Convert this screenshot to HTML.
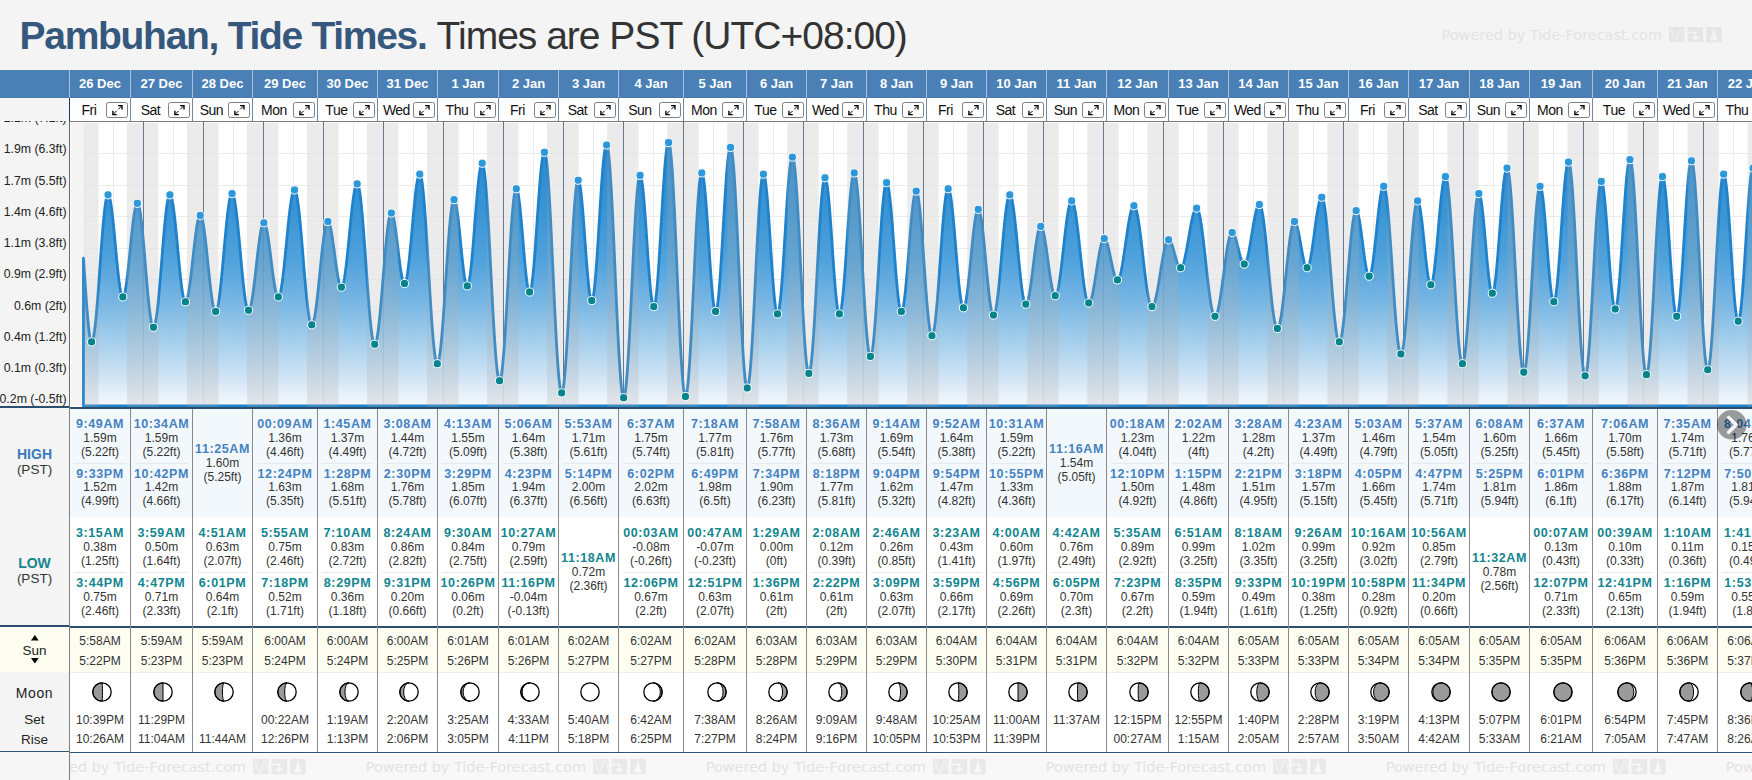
<!DOCTYPE html><html><head><meta charset="utf-8"><title>Pambuhan, Tide Times</title><style>
*{margin:0;padding:0;box-sizing:border-box}
html,body{width:1752px;height:780px;overflow:hidden;background:#f4f4f4;font-family:"Liberation Sans", Arial, sans-serif;}
.a{position:absolute}
.t{position:absolute;white-space:nowrap;text-align:center}
.hd{color:#fff;font-weight:bold;font-size:13px;line-height:20px}
.dn{color:#111;font-size:14px;line-height:20px;letter-spacing:-0.5px}
.bt{position:absolute;width:22px;height:16px;border:1px solid #808080;border-radius:2.5px;background:#fff}
.tm{font-weight:bold;font-size:12.5px;line-height:14px;letter-spacing:0.6px}
.hi{color:#4682c0}
.lo{color:#12858f}
.v{color:#333;font-size:12px;line-height:14px}
.s{color:#333;font-size:12px;line-height:14px}
.yl{position:absolute;right:0;width:200px;text-align:right;color:#222;font-size:12.3px;line-height:14px;white-space:nowrap}
.wm{position:absolute;white-space:nowrap;font-family:"DejaVu Sans",sans-serif;font-size:14.45px;line-height:18px;color:#e3e3e3}
</style></head><body>
<div class="a" style="left:19.6px;top:13.69px;font-size:39px;line-height:44px;white-space:nowrap;color:#333"><span style="font-weight:bold;color:#35587c;letter-spacing:-1.3px">Pambuhan, Tide Times.</span><span style="letter-spacing:-1.0px;margin-left:1px"> Times are PST (UTC+08:00)</span></div>
<div class="wm" style="left:1441.6px;top:26.00px">Powered by Tide-Forecast.com</div>
<svg class="a" style="left:1669.10px;top:26.90px" width="53" height="16" viewBox="0 0 53 16"><rect x="0" y="0" width="15.6" height="15.2" fill="#e6e6e6"/><path d="M1.2 1.5 C3 1.5 4.5 14 6.5 14 C8.5 14 9.5 1.8 11.5 1.8 C13 1.8 14 8 14.8 10" fill="none" stroke="#f4f4f4" stroke-width="1"/><rect x="18.6" y="0" width="15.6" height="15.2" fill="#e6e6e6"/><path d="M18.6 5.5 H26.5 V12 M23.6 9.5 L26.5 12.3 L29.4 9.5" fill="none" stroke="#f4f4f4" stroke-width="1.6"/><rect x="37.1" y="0" width="15.6" height="15.2" fill="#e6e6e6"/><path d="M44.9 1.5 L48.5 13.5 L41.3 13.5 Z" fill="#f4f4f4"/></svg>
<svg class="a" style="left:0;top:0" width="1752" height="410" viewBox="0 0 1752 410"><defs><linearGradient id="fg" gradientUnits="userSpaceOnUse" x1="0" y1="140" x2="0" y2="406"><stop offset="0" stop-color="rgb(21,123,202)"/><stop offset="0.263" stop-color="rgb(36,137,208)"/><stop offset="0.451" stop-color="rgb(61,152,216)"/><stop offset="0.602" stop-color="rgb(103,173,224)"/><stop offset="0.714" stop-color="rgb(141,194,231)"/><stop offset="0.789" stop-color="rgb(166,207,236)"/><stop offset="0.902" stop-color="rgb(207,227,244)"/><stop offset="1.0" stop-color="rgb(245,249,253)"/></linearGradient><clipPath id="cp"><rect x="70" y="122.6" width="1690" height="290"/></clipPath></defs><rect x="70" y="122" width="1690" height="285" fill="#fff"/><rect x="71" y="122.6" width="12.50" height="284" fill="#f4f4f4"/><defs><clipPath id="dc"><rect x="98.42" y="120" width="28.50" height="290"/><rect x="158.46" y="120" width="28.50" height="290"/><rect x="218.46" y="120" width="28.50" height="290"/><rect x="278.50" y="120" width="28.50" height="290"/><rect x="338.50" y="120" width="28.50" height="290"/><rect x="398.50" y="120" width="28.54" height="290"/><rect x="458.54" y="120" width="28.54" height="290"/><rect x="518.54" y="120" width="28.54" height="290"/><rect x="578.58" y="120" width="28.54" height="290"/><rect x="638.58" y="120" width="28.54" height="290"/><rect x="698.58" y="120" width="28.58" height="290"/><rect x="758.62" y="120" width="28.54" height="290"/><rect x="818.62" y="120" width="28.58" height="290"/><rect x="878.62" y="120" width="28.58" height="290"/><rect x="938.67" y="120" width="28.58" height="290"/><rect x="998.67" y="120" width="28.62" height="290"/><rect x="1058.67" y="120" width="28.63" height="290"/><rect x="1118.67" y="120" width="28.67" height="290"/><rect x="1178.67" y="120" width="28.67" height="290"/><rect x="1238.71" y="120" width="28.67" height="290"/><rect x="1298.71" y="120" width="28.67" height="290"/><rect x="1358.71" y="120" width="28.71" height="290"/><rect x="1418.71" y="120" width="28.71" height="290"/><rect x="1478.71" y="120" width="28.75" height="290"/><rect x="1538.71" y="120" width="28.75" height="290"/><rect x="1598.75" y="120" width="28.75" height="290"/><rect x="1658.75" y="120" width="28.75" height="290"/><rect x="1718.75" y="120" width="28.79" height="290"/></clipPath><clipPath id="nc"><rect x="83.50" y="120" width="14.92" height="290"/><rect x="126.92" y="120" width="31.54" height="290"/><rect x="186.96" y="120" width="31.50" height="290"/><rect x="246.96" y="120" width="31.54" height="290"/><rect x="307.00" y="120" width="31.50" height="290"/><rect x="367.00" y="120" width="31.50" height="290"/><rect x="427.04" y="120" width="31.50" height="290"/><rect x="487.08" y="120" width="31.46" height="290"/><rect x="547.08" y="120" width="31.50" height="290"/><rect x="607.12" y="120" width="31.46" height="290"/><rect x="667.12" y="120" width="31.46" height="290"/><rect x="727.17" y="120" width="31.46" height="290"/><rect x="787.17" y="120" width="31.46" height="290"/><rect x="847.21" y="120" width="31.42" height="290"/><rect x="907.21" y="120" width="31.46" height="290"/><rect x="967.25" y="120" width="31.42" height="290"/><rect x="1027.29" y="120" width="31.38" height="290"/><rect x="1087.29" y="120" width="31.37" height="290"/><rect x="1147.33" y="120" width="31.33" height="290"/><rect x="1207.33" y="120" width="31.38" height="290"/><rect x="1267.38" y="120" width="31.33" height="290"/><rect x="1327.38" y="120" width="31.33" height="290"/><rect x="1387.42" y="120" width="31.29" height="290"/><rect x="1447.42" y="120" width="31.29" height="290"/><rect x="1507.46" y="120" width="31.25" height="290"/><rect x="1567.46" y="120" width="31.29" height="290"/><rect x="1627.50" y="120" width="31.25" height="290"/><rect x="1687.50" y="120" width="31.25" height="290"/><rect x="1747.54" y="120" width="31.21" height="290"/></clipPath></defs><path d="M83.5 153.5H1760 M83.5 185.5H1760 M83.5 216.5H1760 M83.5 248.5H1760 M83.5 279.5H1760 M83.5 311.5H1760 M83.5 342.5H1760 M83.5 374.5H1760 M83.5 405.5H1760" stroke="#ececec" stroke-width="1" fill="none" clip-path="url(#dc)"/><path d="M83.5 153.5H1760 M83.5 185.5H1760 M83.5 216.5H1760 M83.5 248.5H1760 M83.5 279.5H1760 M83.5 311.5H1760 M83.5 342.5H1760 M83.5 374.5H1760 M83.5 405.5H1760" stroke="#f8f8f8" stroke-width="1" fill="none" clip-path="url(#nc)"/><path d="M113.5 122.6V406 M173.5 122.6V406 M233.5 122.6V406 M293.5 122.6V406 M353.5 122.6V406 M413.5 122.6V406 M473.5 122.6V406 M533.5 122.6V406 M593.5 122.6V406 M653.5 122.6V406 M713.5 122.6V406 M773.5 122.6V406 M833.5 122.6V406 M893.5 122.6V406 M953.5 122.6V406 M1013.5 122.6V406 M1073.5 122.6V406 M1133.5 122.6V406 M1193.5 122.6V406 M1253.5 122.6V406 M1313.5 122.6V406 M1373.5 122.6V406 M1433.5 122.6V406 M1493.5 122.6V406 M1553.5 122.6V406 M1613.5 122.6V406 M1673.5 122.6V406 M1733.5 122.6V406" stroke="#ececec" stroke-width="1" fill="none"/><path d="M143.5 122V406 M203.5 122V406 M263.5 122V406 M323.5 122V406 M383.5 122V406 M443.5 122V406 M503.5 122V406 M563.5 122V406 M623.5 122V406 M683.5 122V406 M743.5 122V406 M803.5 122V406 M863.5 122V406 M923.5 122V406 M983.5 122V406 M1043.5 122V406 M1103.5 122V406 M1163.5 122V406 M1223.5 122V406 M1283.5 122V406 M1343.5 122V406 M1403.5 122V406 M1463.5 122V406 M1523.5 122V406 M1583.5 122V406 M1643.5 122V406 M1703.5 122V406 M1763.5 122V406" stroke="#4f6882" stroke-width="1" fill="none"/><g clip-path="url(#cp)"><path d="M83.50 406.0 L83.50 258.27 L84.00 265.76 L84.50 273.34 L85.00 280.91 L85.50 288.37 L86.00 295.65 L86.50 302.64 L87.00 309.28 L87.50 315.47 L88.00 321.16 L88.50 326.26 L89.00 330.71 L89.50 334.48 L90.00 337.50 L90.50 339.74 L91.00 341.18 L91.50 341.80 L91.62 341.83 L92.00 341.64 L92.50 340.80 L93.00 339.30 L93.50 337.15 L94.00 334.37 L94.50 330.98 L95.00 327.02 L95.50 322.53 L96.00 317.54 L96.50 312.10 L97.00 306.25 L97.50 300.07 L98.00 293.59 L98.50 286.88 L99.00 280.00 L99.50 273.01 L100.00 265.98 L100.50 258.97 L101.00 252.05 L101.50 245.27 L102.00 238.71 L102.50 232.42 L103.00 226.45 L103.50 220.87 L104.00 215.73 L104.50 211.06 L105.00 206.92 L105.50 203.34 L106.00 200.35 L106.50 197.99 L107.00 196.27 L107.50 195.21 L108.00 194.82 L108.04 194.82 L108.50 195.06 L109.00 195.87 L109.50 197.24 L110.00 199.17 L110.50 201.61 L111.00 204.56 L111.50 207.97 L112.00 211.81 L112.50 216.03 L113.00 220.59 L113.50 225.43 L114.00 230.51 L114.50 235.75 L115.00 241.11 L115.50 246.52 L116.00 251.93 L116.50 257.26 L117.00 262.47 L117.50 267.49 L118.00 272.27 L118.50 276.75 L119.00 280.88 L119.50 284.61 L120.00 287.91 L120.50 290.74 L121.00 293.06 L121.50 294.84 L122.00 296.08 L122.50 296.75 L122.83 296.87 L123.00 296.84 L123.50 296.39 L124.00 295.40 L124.50 293.88 L125.00 291.84 L125.50 289.32 L126.00 286.35 L126.50 282.95 L127.00 279.17 L127.50 275.05 L128.00 270.64 L128.50 265.99 L129.00 261.15 L129.50 256.19 L130.00 251.15 L130.50 246.10 L131.00 241.10 L131.50 236.20 L132.00 231.47 L132.50 226.95 L133.00 222.70 L133.50 218.78 L134.00 215.21 L134.50 212.06 L135.00 209.34 L135.50 207.11 L136.00 205.37 L136.50 204.15 L137.00 203.47 L137.38 203.32 L137.50 203.34 L138.00 203.78 L138.50 204.81 L139.00 206.42 L139.50 208.58 L140.00 211.29 L140.50 214.51 L141.00 218.22 L141.50 222.37 L142.00 226.93 L142.50 231.86 L143.00 237.11 L143.50 242.62 L144.00 248.36 L144.50 254.25 L145.00 260.25 L145.50 266.29 L146.00 272.33 L146.50 278.30 L147.00 284.15 L147.50 289.81 L148.00 295.24 L148.50 300.39 L149.00 305.20 L149.50 309.63 L150.00 313.64 L150.50 317.19 L151.00 320.24 L151.50 322.77 L152.00 324.75 L152.50 326.17 L153.00 327.00 L153.46 327.25 L153.50 327.25 L154.00 326.90 L154.50 325.95 L155.00 324.40 L155.50 322.28 L156.00 319.61 L156.50 316.40 L157.00 312.69 L157.50 308.50 L158.00 303.89 L158.50 298.88 L159.00 293.53 L159.50 287.89 L160.00 282.00 L160.50 275.91 L161.00 269.70 L161.50 263.40 L162.00 257.08 L162.50 250.80 L163.00 244.62 L163.50 238.58 L164.00 232.74 L164.50 227.17 L165.00 221.90 L165.50 216.99 L166.00 212.47 L166.50 208.41 L167.00 204.81 L167.50 201.74 L168.00 199.20 L168.50 197.22 L169.00 195.83 L169.50 195.02 L169.92 194.82 L170.00 194.82 L170.50 195.19 L171.00 196.09 L171.50 197.53 L172.00 199.49 L172.50 201.94 L173.00 204.87 L173.50 208.24 L174.00 212.02 L174.50 216.16 L175.00 220.64 L175.50 225.40 L176.00 230.39 L176.50 235.57 L177.00 240.87 L177.50 246.25 L178.00 251.65 L178.50 257.02 L179.00 262.29 L179.50 267.43 L180.00 272.36 L180.50 277.06 L181.00 281.46 L181.50 285.52 L182.00 289.20 L182.50 292.46 L183.00 295.27 L183.50 297.60 L184.00 299.43 L184.50 300.74 L185.00 301.51 L185.46 301.73 L185.50 301.73 L186.00 301.45 L186.50 300.68 L187.00 299.44 L187.50 297.74 L188.00 295.60 L188.50 293.04 L189.00 290.10 L189.50 286.80 L190.00 283.18 L190.50 279.28 L191.00 275.15 L191.50 270.84 L192.00 266.38 L192.50 261.84 L193.00 257.27 L193.50 252.70 L194.00 248.21 L194.50 243.83 L195.00 239.62 L195.50 235.62 L196.00 231.88 L196.50 228.44 L197.00 225.34 L197.50 222.62 L198.00 220.30 L198.50 218.42 L199.00 216.98 L199.50 216.02 L200.00 215.53 L200.25 215.47 L200.50 215.53 L201.00 216.03 L201.50 217.03 L202.00 218.51 L202.50 220.45 L203.00 222.85 L203.50 225.67 L204.00 228.88 L204.50 232.46 L205.00 236.36 L205.50 240.54 L206.00 244.96 L206.50 249.57 L207.00 254.33 L207.50 259.18 L208.00 264.08 L208.50 268.97 L209.00 273.80 L209.50 278.53 L210.00 283.09 L210.50 287.46 L211.00 291.57 L211.50 295.39 L212.00 298.88 L212.50 302.00 L213.00 304.72 L213.50 307.00 L214.00 308.83 L214.50 310.19 L215.00 311.06 L215.50 311.44 L215.62 311.45 L216.00 311.30 L216.50 310.63 L217.00 309.43 L217.50 307.70 L218.00 305.47 L218.50 302.76 L219.00 299.59 L219.50 295.98 L220.00 291.98 L220.50 287.62 L221.00 282.94 L221.50 277.97 L222.00 272.78 L222.50 267.40 L223.00 261.88 L223.50 256.28 L224.00 250.65 L224.50 245.03 L225.00 239.48 L225.50 234.05 L226.00 228.79 L226.50 223.74 L227.00 218.96 L227.50 214.49 L228.00 210.36 L228.50 206.62 L229.00 203.30 L229.50 200.43 L230.00 198.04 L230.50 196.15 L231.00 194.77 L231.50 193.92 L232.00 193.60 L232.04 193.60 L232.50 193.82 L233.00 194.57 L233.50 195.83 L234.00 197.61 L234.50 199.87 L235.00 202.61 L235.50 205.79 L236.00 209.39 L236.50 213.38 L237.00 217.72 L237.50 222.36 L238.00 227.27 L238.50 232.41 L239.00 237.72 L239.50 243.16 L240.00 248.68 L240.50 254.23 L241.00 259.76 L241.50 265.22 L242.00 270.56 L242.50 275.73 L243.00 280.68 L243.50 285.37 L244.00 289.76 L244.50 293.81 L245.00 297.48 L245.50 300.73 L246.00 303.54 L246.50 305.89 L247.00 307.75 L247.50 309.10 L248.00 309.93 L248.50 310.24 L248.54 310.24 L249.00 310.05 L249.50 309.40 L250.00 308.30 L250.50 306.77 L251.00 304.81 L251.50 302.45 L252.00 299.71 L252.50 296.63 L253.00 293.23 L253.50 289.54 L254.00 285.62 L254.50 281.50 L255.00 277.22 L255.50 272.83 L256.00 268.37 L256.50 263.89 L257.00 259.44 L257.50 255.06 L258.00 250.80 L258.50 246.71 L259.00 242.82 L259.50 239.19 L260.00 235.84 L260.50 232.81 L261.00 230.13 L261.50 227.84 L262.00 225.95 L262.50 224.48 L263.00 223.46 L263.50 222.89 L263.88 222.76 L264.00 222.77 L264.50 223.10 L265.00 223.87 L265.50 225.06 L266.00 226.66 L266.50 228.66 L267.00 231.03 L267.50 233.73 L268.00 236.75 L268.50 240.04 L269.00 243.57 L269.50 247.28 L270.00 251.15 L270.50 255.12 L271.00 259.14 L271.50 263.18 L272.00 267.17 L272.50 271.08 L273.00 274.85 L273.50 278.44 L274.00 281.82 L274.50 284.93 L275.00 287.74 L275.50 290.23 L276.00 292.35 L276.50 294.09 L277.00 295.42 L277.50 296.32 L278.00 296.80 L278.29 296.87 L278.50 296.83 L279.00 296.37 L279.50 295.42 L280.00 293.97 L280.50 292.05 L281.00 289.68 L281.50 286.87 L282.00 283.65 L282.50 280.05 L283.00 276.12 L283.50 271.87 L284.00 267.36 L284.50 262.62 L285.00 257.70 L285.50 252.65 L286.00 247.51 L286.50 242.34 L287.00 237.17 L287.50 232.06 L288.00 227.06 L288.50 222.21 L289.00 217.56 L289.50 213.16 L290.00 209.03 L290.50 205.23 L291.00 201.79 L291.50 198.74 L292.00 196.11 L292.50 193.92 L293.00 192.20 L293.50 190.96 L294.00 190.21 L294.50 189.96 L295.00 190.23 L295.50 191.07 L296.00 192.46 L296.50 194.38 L297.00 196.82 L297.50 199.77 L298.00 203.20 L298.50 207.07 L299.00 211.36 L299.50 216.03 L300.00 221.05 L300.50 226.36 L301.00 231.94 L301.50 237.72 L302.00 243.67 L302.50 249.73 L303.00 255.85 L303.50 261.99 L304.00 268.09 L304.50 274.10 L305.00 279.97 L305.50 285.65 L306.00 291.10 L306.50 296.27 L307.00 301.12 L307.50 305.61 L308.00 309.70 L308.50 313.35 L309.00 316.54 L309.50 319.24 L310.00 321.42 L310.50 323.08 L311.00 324.19 L311.50 324.75 L311.75 324.82 L312.00 324.76 L312.50 324.27 L313.00 323.30 L313.50 321.85 L314.00 319.94 L314.50 317.58 L315.00 314.81 L315.50 311.64 L316.00 308.11 L316.50 304.24 L317.00 300.08 L317.50 295.67 L318.00 291.04 L318.50 286.24 L319.00 281.32 L319.50 276.32 L320.00 271.30 L320.50 266.29 L321.00 261.34 L321.50 256.51 L322.00 251.84 L322.50 247.36 L323.00 243.14 L323.50 239.19 L324.00 235.57 L324.50 232.31 L325.00 229.44 L325.50 226.98 L326.00 224.95 L326.50 223.39 L327.00 222.29 L327.50 221.68 L327.88 221.54 L328.00 221.56 L328.50 221.89 L329.00 222.66 L329.50 223.85 L330.00 225.45 L330.50 227.44 L331.00 229.80 L331.50 232.48 L332.00 235.45 L332.50 238.69 L333.00 242.13 L333.50 245.73 L334.00 249.45 L334.50 253.24 L335.00 257.04 L335.50 260.81 L336.00 264.49 L336.50 268.03 L337.00 271.39 L337.50 274.52 L338.00 277.38 L338.50 279.93 L339.00 282.13 L339.50 283.96 L340.00 285.40 L340.50 286.42 L341.00 287.00 L341.42 287.15 L341.50 287.15 L342.00 286.81 L342.50 285.95 L343.00 284.60 L343.50 282.76 L344.00 280.45 L344.50 277.69 L345.00 274.52 L345.50 270.95 L346.00 267.04 L346.50 262.81 L347.00 258.31 L347.50 253.58 L348.00 248.67 L348.50 243.64 L349.00 238.52 L349.50 233.37 L350.00 228.25 L350.50 223.19 L351.00 218.26 L351.50 213.50 L352.00 208.96 L352.50 204.68 L353.00 200.71 L353.50 197.09 L354.00 193.84 L354.50 191.01 L355.00 188.63 L355.50 186.71 L356.00 185.27 L356.50 184.34 L357.00 183.91 L357.17 183.88 L357.50 184.02 L358.00 184.77 L358.50 186.16 L359.00 188.16 L359.50 190.78 L360.00 193.98 L360.50 197.75 L361.00 202.05 L361.50 206.84 L362.00 212.09 L362.50 217.76 L363.00 223.80 L363.50 230.17 L364.00 236.80 L364.50 243.65 L365.00 250.67 L365.50 257.79 L366.00 264.97 L366.50 272.13 L367.00 279.24 L367.50 286.22 L368.00 293.02 L368.50 299.59 L369.00 305.88 L369.50 311.83 L370.00 317.40 L370.50 322.54 L371.00 327.22 L371.50 331.38 L372.00 335.01 L372.50 338.07 L373.00 340.54 L373.50 342.39 L374.00 343.62 L374.50 344.20 L374.71 344.26 L375.00 344.16 L375.50 343.53 L376.00 342.32 L376.50 340.54 L377.00 338.20 L377.50 335.34 L378.00 331.97 L378.50 328.13 L379.00 323.84 L379.50 319.15 L380.00 314.10 L380.50 308.74 L381.00 303.10 L381.50 297.25 L382.00 291.23 L382.50 285.10 L383.00 278.91 L383.50 272.72 L384.00 266.58 L384.50 260.55 L385.00 254.68 L385.50 249.02 L386.00 243.63 L386.50 238.56 L387.00 233.83 L387.50 229.51 L388.00 225.63 L388.50 222.22 L389.00 219.32 L389.50 216.94 L390.00 215.11 L390.50 213.85 L391.00 213.17 L391.33 213.04 L391.50 213.07 L392.00 213.48 L392.50 214.40 L393.00 215.79 L393.50 217.64 L394.00 219.93 L394.50 222.63 L395.00 225.69 L395.50 229.07 L396.00 232.72 L396.50 236.59 L397.00 240.63 L397.50 244.78 L398.00 248.98 L398.50 253.16 L399.00 257.28 L399.50 261.27 L400.00 265.08 L400.50 268.64 L401.00 271.92 L401.50 274.86 L402.00 277.43 L402.50 279.57 L403.00 281.28 L403.50 282.51 L404.00 283.26 L404.50 283.51 L405.00 283.22 L405.50 282.35 L406.00 280.92 L406.50 278.93 L407.00 276.42 L407.50 273.40 L408.00 269.90 L408.50 265.97 L409.00 261.65 L409.50 256.98 L410.00 252.01 L410.50 246.80 L411.00 241.39 L411.50 235.86 L412.00 230.24 L412.50 224.62 L413.00 219.03 L413.50 213.55 L414.00 208.24 L414.50 203.14 L415.00 198.31 L415.50 193.81 L416.00 189.68 L416.50 185.96 L417.00 182.70 L417.50 179.93 L418.00 177.67 L418.50 175.96 L419.00 174.81 L419.50 174.23 L419.75 174.16 L420.00 174.25 L420.50 175.01 L421.00 176.52 L421.50 178.78 L422.00 181.75 L422.50 185.42 L423.00 189.77 L423.50 194.74 L424.00 200.31 L424.50 206.43 L425.00 213.05 L425.50 220.12 L426.00 227.58 L426.50 235.37 L427.00 243.44 L427.50 251.70 L428.00 260.10 L428.50 268.58 L429.00 277.05 L429.50 285.46 L430.00 293.74 L430.50 301.82 L431.00 309.64 L431.50 317.13 L432.00 324.23 L432.50 330.89 L433.00 337.06 L433.50 342.68 L434.00 347.70 L434.50 352.10 L435.00 355.83 L435.50 358.86 L436.00 361.18 L436.50 362.75 L437.00 363.57 L437.29 363.70 L437.50 363.64 L438.00 362.98 L438.50 361.60 L439.00 359.53 L439.50 356.77 L440.00 353.34 L440.50 349.29 L441.00 344.65 L441.50 339.45 L442.00 333.75 L442.50 327.58 L443.00 321.02 L443.50 314.11 L444.00 306.91 L444.50 299.49 L445.00 291.92 L445.50 284.25 L446.00 276.56 L446.50 268.92 L447.00 261.39 L447.50 254.04 L448.00 246.93 L448.50 240.13 L449.00 233.69 L449.50 227.67 L450.00 222.13 L450.50 217.11 L451.00 212.66 L451.50 208.82 L452.00 205.61 L452.50 203.08 L453.00 201.24 L453.50 200.10 L454.00 199.68 L454.04 199.68 L454.50 199.93 L455.00 200.79 L455.50 202.24 L456.00 204.27 L456.50 206.84 L457.00 209.92 L457.50 213.46 L458.00 217.42 L458.50 221.74 L459.00 226.35 L459.50 231.20 L460.00 236.21 L460.50 241.31 L461.00 246.44 L461.50 251.51 L462.00 256.46 L462.50 261.22 L463.00 265.72 L463.50 269.89 L464.00 273.68 L464.50 277.04 L465.00 279.91 L465.50 282.26 L466.00 284.05 L466.50 285.26 L467.00 285.86 L467.25 285.94 L467.50 285.86 L468.00 285.18 L468.50 283.84 L469.00 281.84 L469.50 279.22 L470.00 275.99 L470.50 272.19 L471.00 267.87 L471.50 263.08 L472.00 257.86 L472.50 252.27 L473.00 246.38 L473.50 240.25 L474.00 233.94 L474.50 227.53 L475.00 221.09 L475.50 214.69 L476.00 208.40 L476.50 202.29 L477.00 196.42 L477.50 190.86 L478.00 185.67 L478.50 180.91 L479.00 176.64 L479.50 172.89 L480.00 169.71 L480.50 167.13 L481.00 165.19 L481.50 163.90 L482.00 163.28 L482.21 163.23 L482.50 163.38 L483.00 164.34 L483.50 166.18 L484.00 168.88 L484.50 172.43 L485.00 176.79 L485.50 181.92 L486.00 187.79 L486.50 194.35 L487.00 201.55 L487.50 209.32 L488.00 217.60 L488.50 226.32 L489.00 235.42 L489.50 244.81 L490.00 254.43 L490.50 264.19 L491.00 274.02 L491.50 283.82 L492.00 293.53 L492.50 303.07 L493.00 312.35 L493.50 321.30 L494.00 329.85 L494.50 337.92 L495.00 345.46 L495.50 352.39 L496.00 358.67 L496.50 364.24 L497.00 369.06 L497.50 373.09 L498.00 376.28 L498.50 378.63 L499.00 380.11 L499.50 380.70 L499.58 380.71 L500.00 380.41 L500.50 379.28 L501.00 377.31 L501.50 374.51 L502.00 370.92 L502.50 366.57 L503.00 361.48 L503.50 355.72 L504.00 349.32 L504.50 342.36 L505.00 334.88 L505.50 326.95 L506.00 318.65 L506.50 310.05 L507.00 301.23 L507.50 292.26 L508.00 283.22 L508.50 274.19 L509.00 265.26 L509.50 256.50 L510.00 247.99 L510.50 239.81 L511.00 232.03 L511.50 224.71 L512.00 217.93 L512.50 211.74 L513.00 206.19 L513.50 201.35 L514.00 197.24 L514.50 193.91 L515.00 191.39 L515.50 189.70 L516.00 188.85 L516.25 188.74 L516.50 188.83 L517.00 189.54 L517.50 190.95 L518.00 193.04 L518.50 195.78 L519.00 199.14 L519.50 203.07 L520.00 207.51 L520.50 212.40 L521.00 217.68 L521.50 223.27 L522.00 229.10 L522.50 235.08 L523.00 241.14 L523.50 247.18 L524.00 253.13 L524.50 258.91 L525.00 264.43 L525.50 269.61 L526.00 274.40 L526.50 278.72 L527.00 282.51 L527.50 285.72 L528.00 288.30 L528.50 290.22 L529.00 291.46 L529.50 291.99 L529.62 292.01 L530.00 291.79 L530.50 290.82 L531.00 289.07 L531.50 286.58 L532.00 283.36 L532.50 279.46 L533.00 274.91 L533.50 269.78 L534.00 264.11 L534.50 257.97 L535.00 251.43 L535.50 244.56 L536.00 237.44 L536.50 230.15 L537.00 222.77 L537.50 215.38 L538.00 208.07 L538.50 200.92 L539.00 194.00 L539.50 187.40 L540.00 181.19 L540.50 175.44 L541.00 170.21 L541.50 165.56 L542.00 161.55 L542.50 158.21 L543.00 155.60 L543.50 153.72 L544.00 152.62 L544.46 152.29 L544.50 152.29 L545.00 152.88 L545.50 154.46 L546.00 157.02 L546.50 160.55 L547.00 165.01 L547.50 170.36 L548.00 176.57 L548.50 183.57 L549.00 191.32 L549.50 199.74 L550.00 208.77 L550.50 218.33 L551.00 228.35 L551.50 238.73 L552.00 249.39 L552.50 260.24 L553.00 271.20 L553.50 282.17 L554.00 293.06 L554.50 303.78 L555.00 314.24 L555.50 324.35 L556.00 334.03 L556.50 343.20 L557.00 351.78 L557.50 359.71 L558.00 366.90 L558.50 373.31 L559.00 378.89 L559.50 383.57 L560.00 387.33 L560.50 390.14 L561.00 391.97 L561.50 392.80 L561.67 392.86 L562.00 392.65 L562.50 391.53 L563.00 389.47 L563.50 386.48 L564.00 382.59 L564.50 377.84 L565.00 372.26 L565.50 365.91 L566.00 358.84 L566.50 351.13 L567.00 342.83 L567.50 334.02 L568.00 324.79 L568.50 315.21 L569.00 305.38 L569.50 295.37 L570.00 285.29 L570.50 275.21 L571.00 265.24 L571.50 255.46 L572.00 245.96 L572.50 236.83 L573.00 228.14 L573.50 219.98 L574.00 212.42 L574.50 205.53 L575.00 199.37 L575.50 193.99 L576.00 189.45 L576.50 185.78 L577.00 183.02 L577.50 181.20 L578.00 180.32 L578.21 180.24 L578.50 180.37 L579.00 181.25 L579.50 182.92 L580.00 185.36 L580.50 188.54 L581.00 192.41 L581.50 196.94 L582.00 202.04 L582.50 207.66 L583.00 213.72 L583.50 220.14 L584.00 226.83 L584.50 233.71 L585.00 240.67 L585.50 247.63 L586.00 254.49 L586.50 261.16 L587.00 267.55 L587.50 273.58 L588.00 279.16 L588.50 284.22 L589.00 288.69 L589.50 292.51 L590.00 295.63 L590.50 298.01 L591.00 299.61 L591.50 300.42 L591.75 300.52 L592.00 300.41 L592.50 299.54 L593.00 297.81 L593.50 295.24 L594.00 291.86 L594.50 287.70 L595.00 282.81 L595.50 277.26 L596.00 271.09 L596.50 264.38 L597.00 257.20 L597.50 249.64 L598.00 241.78 L598.50 233.70 L599.00 225.50 L599.50 217.27 L600.00 209.11 L600.50 201.09 L601.00 193.32 L601.50 185.88 L602.00 178.85 L602.50 172.31 L603.00 166.34 L603.50 161.00 L604.00 156.35 L604.50 152.45 L605.00 149.33 L605.50 147.04 L606.00 145.59 L606.50 145.01 L606.58 145.00 L607.00 145.37 L607.50 146.80 L608.00 149.28 L608.50 152.81 L609.00 157.33 L609.50 162.83 L610.00 169.25 L610.50 176.53 L611.00 184.62 L611.50 193.45 L612.00 202.93 L612.50 213.00 L613.00 223.57 L613.50 234.53 L614.00 245.82 L614.50 257.32 L615.00 268.93 L615.50 280.57 L616.00 292.13 L616.50 303.52 L617.00 314.63 L617.50 325.37 L618.00 335.66 L618.50 345.40 L619.00 354.51 L619.50 362.91 L620.00 370.54 L620.50 377.33 L621.00 383.21 L621.50 388.15 L622.00 392.09 L622.50 395.01 L623.00 396.88 L623.50 397.69 L623.62 397.72 L624.00 397.43 L624.50 396.17 L625.00 393.89 L625.50 390.64 L626.00 386.43 L626.50 381.31 L627.00 375.33 L627.50 368.53 L628.00 360.98 L628.50 352.75 L629.00 343.92 L629.50 334.56 L630.00 324.76 L630.50 314.61 L631.00 304.20 L631.50 293.63 L632.00 283.00 L632.50 272.40 L633.00 261.93 L633.50 251.69 L634.00 241.76 L634.50 232.25 L635.00 223.23 L635.50 214.79 L636.00 207.00 L636.50 199.95 L637.00 193.68 L637.50 188.27 L638.00 183.75 L638.50 180.18 L639.00 177.58 L639.50 175.97 L640.00 175.38 L640.04 175.38 L640.50 175.74 L641.00 176.95 L641.50 179.01 L642.00 181.87 L642.50 185.51 L643.00 189.88 L643.50 194.93 L644.00 200.57 L644.50 206.74 L645.00 213.37 L645.50 220.35 L646.00 227.61 L646.50 235.04 L647.00 242.55 L647.50 250.04 L648.00 257.41 L648.50 264.57 L649.00 271.41 L649.50 277.86 L650.00 283.82 L650.50 289.22 L651.00 293.99 L651.50 298.06 L652.00 301.39 L652.50 303.92 L653.00 305.63 L653.50 306.49 L653.75 306.60 L654.00 306.48 L654.50 305.56 L655.00 303.74 L655.50 301.03 L656.00 297.46 L656.50 293.07 L657.00 287.92 L657.50 282.06 L658.00 275.55 L658.50 268.48 L659.00 260.91 L659.50 252.93 L660.00 244.64 L660.50 236.12 L661.00 227.48 L661.50 218.80 L662.00 210.18 L662.50 201.73 L663.00 193.53 L663.50 185.68 L664.00 178.27 L664.50 171.37 L665.00 165.08 L665.50 159.44 L666.00 154.54 L666.50 150.42 L667.00 147.14 L667.50 144.72 L668.00 143.20 L668.50 142.58 L668.58 142.57 L669.00 142.95 L669.50 144.41 L670.00 146.96 L670.50 150.57 L671.00 155.20 L671.50 160.83 L672.00 167.40 L672.50 174.85 L673.00 183.13 L673.50 192.15 L674.00 201.84 L674.50 212.11 L675.00 222.89 L675.50 234.07 L676.00 245.55 L676.50 257.25 L677.00 269.05 L677.50 280.85 L678.00 292.55 L678.50 304.06 L679.00 315.27 L679.50 326.08 L680.00 336.40 L680.50 346.14 L681.00 355.22 L681.50 363.56 L682.00 371.09 L682.50 377.73 L683.00 383.44 L683.50 388.16 L684.00 391.85 L684.50 394.49 L685.00 396.04 L685.46 396.50 L685.50 396.50 L686.00 395.90 L686.50 394.26 L687.00 391.60 L687.50 387.95 L688.00 383.35 L688.50 377.82 L689.00 371.43 L689.50 364.24 L690.00 356.31 L690.50 347.71 L691.00 338.53 L691.50 328.85 L692.00 318.75 L692.50 308.35 L693.00 297.72 L693.50 286.97 L694.00 276.20 L694.50 265.51 L695.00 255.00 L695.50 244.76 L696.00 234.90 L696.50 225.50 L697.00 216.65 L697.50 208.43 L698.00 200.92 L698.50 194.19 L699.00 188.30 L699.50 183.30 L700.00 179.25 L700.50 176.18 L701.00 174.11 L701.50 173.07 L701.75 172.94 L702.00 173.06 L702.50 173.94 L703.00 175.70 L703.50 178.31 L704.00 181.74 L704.50 185.94 L705.00 190.86 L705.50 196.44 L706.00 202.61 L706.50 209.28 L707.00 216.38 L707.50 223.80 L708.00 231.46 L708.50 239.26 L709.00 247.10 L709.50 254.87 L710.00 262.48 L710.50 269.83 L711.00 276.83 L711.50 283.38 L712.00 289.41 L712.50 294.83 L713.00 299.58 L713.50 303.59 L714.00 306.82 L714.50 309.22 L715.00 310.76 L715.50 311.43 L715.62 311.46 L716.00 311.20 L716.50 310.07 L717.00 308.04 L717.50 305.14 L718.00 301.41 L718.50 296.87 L719.00 291.59 L719.50 285.63 L720.00 279.03 L720.50 271.89 L721.00 264.28 L721.50 256.29 L722.00 247.99 L722.50 239.49 L723.00 230.88 L723.50 222.25 L724.00 213.71 L724.50 205.33 L725.00 197.23 L725.50 189.48 L726.00 182.17 L726.50 175.39 L727.00 169.21 L727.50 163.69 L728.00 158.90 L728.50 154.90 L729.00 151.72 L729.50 149.40 L730.00 147.96 L730.50 147.43 L730.54 147.43 L731.00 147.88 L731.50 149.39 L732.00 151.95 L732.50 155.53 L733.00 160.11 L733.50 165.65 L734.00 172.10 L734.50 179.39 L735.00 187.46 L735.50 196.25 L736.00 205.67 L736.50 215.65 L737.00 226.08 L737.50 236.89 L738.00 247.97 L738.50 259.22 L739.00 270.55 L739.50 281.85 L740.00 293.03 L740.50 303.99 L741.00 314.62 L741.50 324.83 L742.00 334.54 L742.50 343.66 L743.00 352.10 L743.50 359.79 L744.00 366.67 L744.50 372.66 L745.00 377.73 L745.50 381.82 L746.00 384.89 L746.50 386.93 L747.00 387.91 L747.21 388.00 L747.50 387.83 L748.00 386.74 L748.50 384.67 L749.00 381.62 L749.50 377.62 L750.00 372.73 L750.50 366.97 L751.00 360.40 L751.50 353.09 L752.00 345.11 L752.50 336.52 L753.00 327.42 L753.50 317.87 L754.00 307.99 L754.50 297.85 L755.00 287.55 L755.50 277.20 L756.00 266.87 L756.50 256.69 L757.00 246.73 L757.50 237.09 L758.00 227.87 L758.50 219.15 L759.00 211.00 L759.50 203.52 L760.00 196.76 L760.50 190.80 L761.00 185.68 L761.50 181.45 L762.00 178.17 L762.50 175.84 L763.00 174.51 L763.42 174.16 L763.50 174.17 L764.00 174.75 L764.50 176.19 L765.00 178.47 L765.50 181.57 L766.00 185.44 L766.50 190.04 L767.00 195.32 L767.50 201.19 L768.00 207.60 L768.50 214.46 L769.00 221.69 L769.50 229.20 L770.00 236.89 L770.50 244.67 L771.00 252.44 L771.50 260.11 L772.00 267.58 L772.50 274.75 L773.00 281.54 L773.50 287.87 L774.00 293.65 L774.50 298.82 L775.00 303.30 L775.50 307.05 L776.00 310.01 L776.50 312.15 L777.00 313.45 L777.50 313.88 L778.00 313.45 L778.50 312.15 L779.00 310.01 L779.50 307.03 L780.00 303.27 L780.50 298.76 L781.00 293.54 L781.50 287.68 L782.00 281.25 L782.50 274.30 L783.00 266.93 L783.50 259.21 L784.00 251.23 L784.50 243.07 L785.00 234.83 L785.50 226.60 L786.00 218.46 L786.50 210.52 L787.00 202.85 L787.50 195.54 L788.00 188.68 L788.50 182.33 L789.00 176.58 L789.50 171.48 L790.00 167.08 L790.50 163.45 L791.00 160.61 L791.50 158.61 L792.00 157.45 L792.42 157.15 L792.50 157.16 L793.00 157.82 L793.50 159.47 L794.00 162.08 L794.50 165.63 L795.00 170.10 L795.50 175.43 L796.00 181.59 L796.50 188.52 L797.00 196.14 L797.50 204.40 L798.00 213.22 L798.50 222.51 L799.00 232.20 L799.50 242.18 L800.00 252.38 L800.50 262.70 L801.00 273.04 L801.50 283.31 L802.00 293.41 L802.50 303.26 L803.00 312.76 L803.50 321.82 L804.00 330.37 L804.50 338.32 L805.00 345.61 L805.50 352.16 L806.00 357.91 L806.50 362.82 L807.00 366.83 L807.50 369.92 L808.00 372.05 L808.50 373.20 L808.83 373.42 L809.00 373.37 L809.50 372.60 L810.00 370.92 L810.50 368.33 L811.00 364.88 L811.50 360.58 L812.00 355.48 L812.50 349.62 L813.00 343.07 L813.50 335.88 L814.00 328.13 L814.50 319.87 L815.00 311.21 L815.50 302.20 L816.00 292.94 L816.50 283.52 L817.00 274.03 L817.50 264.55 L818.00 255.17 L818.50 245.99 L819.00 237.09 L819.50 228.55 L820.00 220.45 L820.50 212.88 L821.00 205.89 L821.50 199.57 L822.00 193.96 L822.50 189.12 L823.00 185.10 L823.50 181.93 L824.00 179.65 L824.50 178.27 L825.00 177.81 L825.50 178.21 L826.00 179.41 L826.50 181.41 L827.00 184.17 L827.50 187.65 L828.00 191.83 L828.50 196.65 L829.00 202.06 L829.50 207.98 L830.00 214.35 L830.50 221.10 L831.00 228.14 L831.50 235.38 L832.00 242.76 L832.50 250.17 L833.00 257.52 L833.50 264.74 L834.00 271.74 L834.50 278.43 L835.00 284.73 L835.50 290.57 L836.00 295.88 L836.50 300.60 L837.00 304.67 L837.50 308.04 L838.00 310.67 L838.50 312.53 L839.00 313.60 L839.42 313.88 L839.50 313.87 L840.00 313.35 L840.50 312.04 L841.00 309.96 L841.50 307.14 L842.00 303.60 L842.50 299.39 L843.00 294.55 L843.50 289.13 L844.00 283.21 L844.50 276.84 L845.00 270.10 L845.50 263.05 L846.00 255.79 L846.50 248.39 L847.00 240.93 L847.50 233.50 L848.00 226.18 L848.50 219.05 L849.00 212.20 L849.50 205.70 L850.00 199.62 L850.50 194.03 L851.00 188.99 L851.50 184.56 L852.00 180.80 L852.50 177.73 L853.00 175.40 L853.50 173.83 L854.00 173.04 L854.25 172.94 L854.50 173.05 L855.00 173.92 L855.50 175.64 L856.00 178.20 L856.50 181.57 L857.00 185.73 L857.50 190.64 L858.00 196.24 L858.50 202.49 L859.00 209.33 L859.50 216.68 L860.00 224.49 L860.50 232.68 L861.00 241.17 L861.50 249.89 L862.00 258.74 L862.50 267.65 L863.00 276.53 L863.50 285.30 L864.00 293.87 L864.50 302.17 L865.00 310.11 L865.50 317.63 L866.00 324.65 L866.50 331.10 L867.00 336.92 L867.50 342.07 L868.00 346.48 L868.50 350.12 L869.00 352.96 L869.50 354.96 L870.00 356.11 L870.42 356.41 L870.50 356.40 L871.00 355.85 L871.50 354.49 L872.00 352.33 L872.50 349.39 L873.00 345.69 L873.50 341.28 L874.00 336.19 L874.50 330.47 L875.00 324.17 L875.50 317.36 L876.00 310.10 L876.50 302.46 L877.00 294.50 L877.50 286.31 L878.00 277.96 L878.50 269.54 L879.00 261.11 L879.50 252.76 L880.00 244.57 L880.50 236.62 L881.00 228.97 L881.50 221.71 L882.00 214.90 L882.50 208.61 L883.00 202.89 L883.50 197.80 L884.00 193.38 L884.50 189.69 L885.00 186.74 L885.50 184.58 L886.00 183.22 L886.50 182.68 L886.58 182.67 L887.00 182.92 L887.50 183.88 L888.00 185.56 L888.50 187.93 L889.00 190.96 L889.50 194.63 L890.00 198.89 L890.50 203.69 L891.00 208.98 L891.50 214.70 L892.00 220.78 L892.50 227.16 L893.00 233.76 L893.50 240.52 L894.00 247.34 L894.50 254.17 L895.00 260.91 L895.50 267.50 L896.00 273.86 L896.50 279.91 L897.00 285.60 L897.50 290.85 L898.00 295.61 L898.50 299.82 L899.00 303.43 L899.50 306.42 L900.00 308.73 L900.50 310.35 L901.00 311.25 L901.38 311.46 L901.50 311.43 L902.00 310.93 L902.50 309.75 L903.00 307.91 L903.50 305.43 L904.00 302.35 L904.50 298.69 L905.00 294.49 L905.50 289.81 L906.00 284.70 L906.50 279.21 L907.00 273.40 L907.50 267.35 L908.00 261.11 L908.50 254.77 L909.00 248.39 L909.50 242.04 L910.00 235.79 L910.50 229.72 L911.00 223.89 L911.50 218.37 L912.00 213.22 L912.50 208.50 L913.00 204.27 L913.50 200.56 L914.00 197.43 L914.50 194.90 L915.00 193.01 L915.50 191.77 L916.00 191.21 L916.17 191.17 L916.50 191.33 L917.00 192.16 L917.50 193.70 L918.00 195.93 L918.50 198.82 L919.00 202.35 L919.50 206.49 L920.00 211.19 L920.50 216.41 L921.00 222.09 L921.50 228.18 L922.00 234.63 L922.50 241.35 L923.00 248.30 L923.50 255.39 L924.00 262.56 L924.50 269.75 L925.00 276.87 L925.50 283.86 L926.00 290.64 L926.50 297.16 L927.00 303.35 L927.50 309.14 L928.00 314.47 L928.50 319.31 L929.00 323.59 L929.50 327.28 L930.00 330.34 L930.50 332.73 L931.00 334.45 L931.50 335.45 L931.96 335.75 L932.00 335.75 L932.50 335.35 L933.00 334.26 L933.50 332.50 L934.00 330.07 L934.50 327.01 L935.00 323.35 L935.50 319.10 L936.00 314.33 L936.50 309.07 L937.00 303.36 L937.50 297.27 L938.00 290.86 L938.50 284.17 L939.00 277.28 L939.50 270.25 L940.00 263.14 L940.50 256.02 L941.00 248.96 L941.50 242.03 L942.00 235.29 L942.50 228.80 L943.00 222.62 L943.50 216.82 L944.00 211.44 L944.50 206.54 L945.00 202.16 L945.50 198.34 L946.00 195.13 L946.50 192.54 L947.00 190.61 L947.50 189.35 L948.00 188.78 L948.17 188.74 L948.50 188.88 L949.00 189.61 L949.50 190.96 L950.00 192.91 L950.50 195.45 L951.00 198.54 L951.50 202.16 L952.00 206.27 L952.50 210.82 L953.00 215.76 L953.50 221.04 L954.00 226.61 L954.50 232.42 L955.00 238.38 L955.50 244.46 L956.00 250.57 L956.50 256.66 L957.00 262.66 L957.50 268.50 L958.00 274.14 L958.50 279.50 L959.00 284.53 L959.50 289.19 L960.00 293.40 L960.50 297.15 L961.00 300.38 L961.50 303.06 L962.00 305.16 L962.50 306.66 L963.00 307.55 L963.46 307.81 L963.50 307.81 L964.00 307.48 L964.50 306.61 L965.00 305.20 L965.50 303.26 L966.00 300.81 L966.50 297.89 L967.00 294.53 L967.50 290.77 L968.00 286.64 L968.50 282.19 L969.00 277.48 L969.50 272.56 L970.00 267.48 L970.50 262.30 L971.00 257.08 L971.50 251.87 L972.00 246.75 L972.50 241.75 L973.00 236.94 L973.50 232.38 L974.00 228.12 L974.50 224.19 L975.00 220.66 L975.50 217.55 L976.00 214.91 L976.50 212.75 L977.00 211.12 L977.50 210.02 L978.00 209.46 L978.25 209.40 L978.50 209.47 L979.00 210.02 L979.50 211.14 L980.00 212.79 L980.50 214.97 L981.00 217.65 L981.50 220.80 L982.00 224.40 L982.50 228.39 L983.00 232.74 L983.50 237.41 L984.00 242.34 L984.50 247.48 L985.00 252.77 L985.50 258.17 L986.00 263.61 L986.50 269.03 L987.00 274.39 L987.50 279.61 L988.00 284.65 L988.50 289.46 L989.00 293.97 L989.50 298.15 L990.00 301.95 L990.50 305.32 L991.00 308.24 L991.50 310.68 L992.00 312.60 L992.50 313.98 L993.00 314.82 L993.50 315.10 L994.00 314.82 L994.50 313.99 L995.00 312.60 L995.50 310.68 L996.00 308.25 L996.50 305.31 L997.00 301.91 L997.50 298.08 L998.00 293.84 L998.50 289.24 L999.00 284.33 L999.50 279.14 L1000.00 273.73 L1000.50 268.14 L1001.00 262.43 L1001.50 256.65 L1002.00 250.85 L1002.50 245.10 L1003.00 239.43 L1003.50 233.91 L1004.00 228.58 L1004.50 223.50 L1005.00 218.71 L1005.50 214.26 L1006.00 210.19 L1006.50 206.53 L1007.00 203.32 L1007.50 200.59 L1008.00 198.37 L1008.50 196.67 L1009.00 195.51 L1009.50 194.91 L1009.79 194.82 L1010.00 194.86 L1010.50 195.34 L1011.00 196.34 L1011.50 197.85 L1012.00 199.85 L1012.50 202.33 L1013.00 205.26 L1013.50 208.61 L1014.00 212.36 L1014.50 216.46 L1015.00 220.87 L1015.50 225.57 L1016.00 230.49 L1016.50 235.59 L1017.00 240.83 L1017.50 246.15 L1018.00 251.50 L1018.50 256.83 L1019.00 262.09 L1019.50 267.23 L1020.00 272.20 L1020.50 276.96 L1021.00 281.45 L1021.50 285.63 L1022.00 289.47 L1022.50 292.92 L1023.00 295.96 L1023.50 298.56 L1024.00 300.68 L1024.50 302.31 L1025.00 303.44 L1025.50 304.05 L1025.83 304.16 L1026.00 304.14 L1026.50 303.78 L1027.00 303.00 L1027.50 301.81 L1028.00 300.21 L1028.50 298.23 L1029.00 295.88 L1029.50 293.20 L1030.00 290.20 L1030.50 286.94 L1031.00 283.43 L1031.50 279.73 L1032.00 275.87 L1032.50 271.89 L1033.00 267.83 L1033.50 263.75 L1034.00 259.69 L1034.50 255.69 L1035.00 251.79 L1035.50 248.04 L1036.00 244.49 L1036.50 241.16 L1037.00 238.10 L1037.50 235.33 L1038.00 232.90 L1038.50 230.82 L1039.00 229.13 L1039.50 227.83 L1040.00 226.94 L1040.50 226.48 L1040.79 226.41 L1041.00 226.44 L1041.50 226.81 L1042.00 227.59 L1042.50 228.76 L1043.00 230.32 L1043.50 232.23 L1044.00 234.48 L1044.50 237.05 L1045.00 239.90 L1045.50 243.00 L1046.00 246.31 L1046.50 249.80 L1047.00 253.41 L1047.50 257.12 L1048.00 260.88 L1048.50 264.63 L1049.00 268.34 L1049.50 271.97 L1050.00 275.47 L1050.50 278.80 L1051.00 281.91 L1051.50 284.79 L1052.00 287.38 L1052.50 289.66 L1053.00 291.60 L1053.50 293.19 L1054.00 294.39 L1054.50 295.20 L1055.00 295.61 L1055.25 295.66 L1055.50 295.61 L1056.00 295.17 L1056.50 294.31 L1057.00 293.03 L1057.50 291.34 L1058.00 289.25 L1058.50 286.79 L1059.00 283.97 L1059.50 280.83 L1060.00 277.40 L1060.50 273.69 L1061.00 269.75 L1061.50 265.62 L1062.00 261.33 L1062.50 256.92 L1063.00 252.43 L1063.50 247.90 L1064.00 243.37 L1064.50 238.89 L1065.00 234.50 L1065.50 230.23 L1066.00 226.13 L1066.50 222.22 L1067.00 218.56 L1067.50 215.17 L1068.00 212.08 L1068.50 209.33 L1069.00 206.93 L1069.50 204.91 L1070.00 203.28 L1070.50 202.07 L1071.00 201.28 L1071.50 200.91 L1071.67 200.89 L1072.00 200.99 L1072.50 201.49 L1073.00 202.42 L1073.50 203.78 L1074.00 205.54 L1074.50 207.69 L1075.00 210.23 L1075.50 213.11 L1076.00 216.32 L1076.50 219.84 L1077.00 223.63 L1077.50 227.66 L1078.00 231.89 L1078.50 236.30 L1079.00 240.84 L1079.50 245.47 L1080.00 250.16 L1080.50 254.86 L1081.00 259.53 L1081.50 264.15 L1082.00 268.66 L1082.50 273.02 L1083.00 277.21 L1083.50 281.18 L1084.00 284.90 L1084.50 288.35 L1085.00 291.48 L1085.50 294.28 L1086.00 296.72 L1086.50 298.78 L1087.00 300.44 L1087.50 301.69 L1088.00 302.52 L1088.50 302.91 L1088.71 302.95 L1089.00 302.89 L1089.50 302.54 L1090.00 301.86 L1090.50 300.86 L1091.00 299.56 L1091.50 297.96 L1092.00 296.08 L1092.50 293.95 L1093.00 291.58 L1093.50 288.99 L1094.00 286.22 L1094.50 283.29 L1095.00 280.24 L1095.50 277.08 L1096.00 273.87 L1096.50 270.62 L1097.00 267.37 L1097.50 264.16 L1098.00 261.01 L1098.50 257.96 L1099.00 255.05 L1099.50 252.29 L1100.00 249.72 L1100.50 247.37 L1101.00 245.26 L1101.50 243.40 L1102.00 241.83 L1102.50 240.55 L1103.00 239.58 L1103.50 238.92 L1104.00 238.60 L1104.25 238.56 L1104.50 238.59 L1105.00 238.88 L1105.50 239.46 L1106.00 240.32 L1106.50 241.44 L1107.00 242.82 L1107.50 244.42 L1108.00 246.24 L1108.50 248.24 L1109.00 250.39 L1109.50 252.67 L1110.00 255.04 L1110.50 257.47 L1111.00 259.93 L1111.50 262.37 L1112.00 264.77 L1112.50 267.09 L1113.00 269.30 L1113.50 271.37 L1114.00 273.26 L1114.50 274.96 L1115.00 276.43 L1115.50 277.66 L1116.00 278.63 L1116.50 279.33 L1117.00 279.74 L1117.46 279.86 L1117.50 279.86 L1118.00 279.67 L1118.50 279.13 L1119.00 278.27 L1119.50 277.09 L1120.00 275.59 L1120.50 273.79 L1121.00 271.71 L1121.50 269.37 L1122.00 266.79 L1122.50 263.99 L1123.00 260.99 L1123.50 257.84 L1124.00 254.54 L1124.50 251.14 L1125.00 247.66 L1125.50 244.13 L1126.00 240.60 L1126.50 237.08 L1127.00 233.62 L1127.50 230.24 L1128.00 226.98 L1128.50 223.85 L1129.00 220.91 L1129.50 218.16 L1130.00 215.63 L1130.50 213.36 L1131.00 211.35 L1131.50 209.62 L1132.00 208.20 L1132.50 207.10 L1133.00 206.32 L1133.50 205.87 L1133.92 205.75 L1134.00 205.76 L1134.50 206.01 L1135.00 206.64 L1135.50 207.65 L1136.00 209.03 L1136.50 210.77 L1137.00 212.84 L1137.50 215.25 L1138.00 217.97 L1138.50 220.97 L1139.00 224.25 L1139.50 227.76 L1140.00 231.49 L1140.50 235.41 L1141.00 239.48 L1141.50 243.68 L1142.00 247.98 L1142.50 252.33 L1143.00 256.72 L1143.50 261.10 L1144.00 265.45 L1144.50 269.72 L1145.00 273.89 L1145.50 277.93 L1146.00 281.80 L1146.50 285.48 L1147.00 288.94 L1147.50 292.15 L1148.00 295.08 L1148.50 297.73 L1149.00 300.05 L1149.50 302.05 L1150.00 303.69 L1150.50 304.98 L1151.00 305.89 L1151.50 306.43 L1151.96 306.59 L1152.00 306.59 L1152.50 306.42 L1153.00 305.95 L1153.50 305.19 L1154.00 304.14 L1154.50 302.81 L1155.00 301.23 L1155.50 299.39 L1156.00 297.31 L1156.50 295.03 L1157.00 292.54 L1157.50 289.89 L1158.00 287.08 L1158.50 284.16 L1159.00 281.13 L1159.50 278.03 L1160.00 274.89 L1160.50 271.74 L1161.00 268.59 L1161.50 265.49 L1162.00 262.46 L1162.50 259.52 L1163.00 256.70 L1163.50 254.04 L1164.00 251.54 L1164.50 249.23 L1165.00 247.14 L1165.50 245.28 L1166.00 243.67 L1166.50 242.33 L1167.00 241.25 L1167.50 240.47 L1168.00 239.97 L1168.50 239.77 L1168.58 239.77 L1169.00 239.85 L1169.50 240.17 L1170.00 240.71 L1170.50 241.48 L1171.00 242.46 L1171.50 243.62 L1172.00 244.96 L1172.50 246.45 L1173.00 248.06 L1173.50 249.77 L1174.00 251.55 L1174.50 253.36 L1175.00 255.18 L1175.50 256.98 L1176.00 258.72 L1176.50 260.38 L1177.00 261.92 L1177.50 263.32 L1178.00 264.56 L1178.50 265.62 L1179.00 266.48 L1179.50 267.12 L1180.00 267.53 L1180.50 267.71 L1180.62 267.72 L1181.00 267.63 L1181.50 267.28 L1182.00 266.64 L1182.50 265.72 L1183.00 264.54 L1183.50 263.10 L1184.00 261.41 L1184.50 259.51 L1185.00 257.39 L1185.50 255.09 L1186.00 252.62 L1186.50 250.01 L1187.00 247.29 L1187.50 244.47 L1188.00 241.59 L1188.50 238.68 L1189.00 235.76 L1189.50 232.86 L1190.00 230.01 L1190.50 227.23 L1191.00 224.56 L1191.50 222.02 L1192.00 219.63 L1192.50 217.42 L1193.00 215.41 L1193.50 213.61 L1194.00 212.05 L1194.50 210.73 L1195.00 209.68 L1195.50 208.90 L1196.00 208.40 L1196.50 208.19 L1196.62 208.18 L1197.00 208.29 L1197.50 208.79 L1198.00 209.67 L1198.50 210.95 L1199.00 212.60 L1199.50 214.61 L1200.00 216.97 L1200.50 219.67 L1201.00 222.68 L1201.50 225.97 L1202.00 229.54 L1202.50 233.34 L1203.00 237.36 L1203.50 241.56 L1204.00 245.91 L1204.50 250.38 L1205.00 254.94 L1205.50 259.55 L1206.00 264.18 L1206.50 268.79 L1207.00 273.36 L1207.50 277.85 L1208.00 282.22 L1208.50 286.45 L1209.00 290.50 L1209.50 294.34 L1210.00 297.95 L1210.50 301.29 L1211.00 304.35 L1211.50 307.10 L1212.00 309.52 L1212.50 311.59 L1213.00 313.30 L1213.50 314.64 L1214.00 315.59 L1214.50 316.15 L1214.96 316.31 L1215.00 316.31 L1215.50 316.11 L1216.00 315.56 L1216.50 314.67 L1217.00 313.44 L1217.50 311.88 L1218.00 310.02 L1218.50 307.85 L1219.00 305.41 L1219.50 302.71 L1220.00 299.78 L1220.50 296.63 L1221.00 293.30 L1221.50 289.81 L1222.00 286.19 L1222.50 282.48 L1223.00 278.69 L1223.50 274.88 L1224.00 271.05 L1224.50 267.26 L1225.00 263.52 L1225.50 259.88 L1226.00 256.35 L1226.50 252.98 L1227.00 249.78 L1227.50 246.79 L1228.00 244.03 L1228.50 241.53 L1229.00 239.29 L1229.50 237.35 L1230.00 235.72 L1230.50 234.41 L1231.00 233.43 L1231.50 232.79 L1232.00 232.50 L1232.17 232.48 L1232.50 232.54 L1233.00 232.85 L1233.50 233.42 L1234.00 234.24 L1234.50 235.30 L1235.00 236.58 L1235.50 238.05 L1236.00 239.70 L1236.50 241.49 L1237.00 243.39 L1237.50 245.38 L1238.00 247.42 L1238.50 249.47 L1239.00 251.50 L1239.50 253.48 L1240.00 255.37 L1240.50 257.14 L1241.00 258.76 L1241.50 260.20 L1242.00 261.44 L1242.50 262.46 L1243.00 263.24 L1243.50 263.77 L1244.00 264.04 L1244.25 264.07 L1244.50 264.03 L1245.00 263.71 L1245.50 263.07 L1246.00 262.13 L1246.50 260.88 L1247.00 259.34 L1247.50 257.54 L1248.00 255.49 L1248.50 253.21 L1249.00 250.72 L1249.50 248.06 L1250.00 245.25 L1250.50 242.32 L1251.00 239.30 L1251.50 236.23 L1252.00 233.14 L1252.50 230.07 L1253.00 227.03 L1253.50 224.08 L1254.00 221.24 L1254.50 218.54 L1255.00 216.00 L1255.50 213.67 L1256.00 211.55 L1256.50 209.69 L1257.00 208.08 L1257.50 206.76 L1258.00 205.74 L1258.50 205.03 L1259.00 204.63 L1259.38 204.53 L1259.50 204.55 L1260.00 204.90 L1260.50 205.73 L1261.00 207.01 L1261.50 208.75 L1262.00 210.93 L1262.50 213.53 L1263.00 216.53 L1263.50 219.91 L1264.00 223.65 L1264.50 227.71 L1265.00 232.07 L1265.50 236.70 L1266.00 241.54 L1266.50 246.58 L1267.00 251.77 L1267.50 257.07 L1268.00 262.45 L1268.50 267.85 L1269.00 273.25 L1269.50 278.59 L1270.00 283.84 L1270.50 288.96 L1271.00 293.91 L1271.50 298.65 L1272.00 303.14 L1272.50 307.36 L1273.00 311.26 L1273.50 314.83 L1274.00 318.02 L1274.50 320.83 L1275.00 323.22 L1275.50 325.18 L1276.00 326.69 L1276.50 327.74 L1277.00 328.33 L1277.38 328.47 L1277.50 328.45 L1278.00 328.11 L1278.50 327.32 L1279.00 326.10 L1279.50 324.43 L1280.00 322.36 L1280.50 319.88 L1281.00 317.02 L1281.50 313.81 L1282.00 310.27 L1282.50 306.43 L1283.00 302.32 L1283.50 297.99 L1284.00 293.46 L1284.50 288.78 L1285.00 283.97 L1285.50 279.10 L1286.00 274.19 L1286.50 269.28 L1287.00 264.42 L1287.50 259.66 L1288.00 255.02 L1288.50 250.55 L1289.00 246.29 L1289.50 242.27 L1290.00 238.53 L1290.50 235.09 L1291.00 232.00 L1291.50 229.26 L1292.00 226.92 L1292.50 224.97 L1293.00 223.46 L1293.50 222.37 L1294.00 221.73 L1294.46 221.55 L1294.50 221.55 L1295.00 221.75 L1295.50 222.32 L1296.00 223.22 L1296.50 224.46 L1297.00 226.01 L1297.50 227.85 L1298.00 229.94 L1298.50 232.27 L1299.00 234.78 L1299.50 237.45 L1300.00 240.23 L1300.50 243.08 L1301.00 245.95 L1301.50 248.80 L1302.00 251.58 L1302.50 254.26 L1303.00 256.79 L1303.50 259.13 L1304.00 261.25 L1304.50 263.11 L1305.00 264.68 L1305.50 265.95 L1306.00 266.88 L1306.50 267.47 L1307.00 267.71 L1307.08 267.71 L1307.50 267.57 L1308.00 267.04 L1308.50 266.11 L1309.00 264.79 L1309.50 263.10 L1310.00 261.06 L1310.50 258.69 L1311.00 256.03 L1311.50 253.09 L1312.00 249.92 L1312.50 246.54 L1313.00 243.01 L1313.50 239.35 L1314.00 235.62 L1314.50 231.85 L1315.00 228.09 L1315.50 224.38 L1316.00 220.76 L1316.50 217.27 L1317.00 213.96 L1317.50 210.86 L1318.00 208.01 L1318.50 205.44 L1319.00 203.18 L1319.50 201.26 L1320.00 199.69 L1320.50 198.50 L1321.00 197.70 L1321.50 197.30 L1321.75 197.25 L1322.00 197.32 L1322.50 197.90 L1323.00 199.05 L1323.50 200.77 L1324.00 203.04 L1324.50 205.84 L1325.00 209.15 L1325.50 212.94 L1326.00 217.19 L1326.50 221.86 L1327.00 226.91 L1327.50 232.31 L1328.00 238.00 L1328.50 243.94 L1329.00 250.09 L1329.50 256.39 L1330.00 262.80 L1330.50 269.27 L1331.00 275.73 L1331.50 282.15 L1332.00 288.47 L1332.50 294.63 L1333.00 300.59 L1333.50 306.30 L1334.00 311.72 L1334.50 316.80 L1335.00 321.51 L1335.50 325.79 L1336.00 329.63 L1336.50 332.98 L1337.00 335.83 L1337.50 338.14 L1338.00 339.90 L1338.50 341.10 L1339.00 341.73 L1339.29 341.83 L1339.50 341.78 L1340.00 341.26 L1340.50 340.17 L1341.00 338.52 L1341.50 336.34 L1342.00 333.63 L1342.50 330.42 L1343.00 326.73 L1343.50 322.61 L1344.00 318.09 L1344.50 313.20 L1345.00 307.99 L1345.50 302.50 L1346.00 296.79 L1346.50 290.89 L1347.00 284.87 L1347.50 278.77 L1348.00 272.65 L1348.50 266.56 L1349.00 260.56 L1349.50 254.69 L1350.00 249.01 L1350.50 243.56 L1351.00 238.40 L1351.50 233.57 L1352.00 229.11 L1352.50 225.06 L1353.00 221.46 L1353.50 218.33 L1354.00 215.70 L1354.50 213.60 L1355.00 212.05 L1355.50 211.06 L1356.00 210.63 L1356.12 210.61 L1356.50 210.74 L1357.00 211.34 L1357.50 212.39 L1358.00 213.90 L1358.50 215.83 L1359.00 218.17 L1359.50 220.87 L1360.00 223.89 L1360.50 227.20 L1361.00 230.75 L1361.50 234.47 L1362.00 238.33 L1362.50 242.26 L1363.00 246.21 L1363.50 250.12 L1364.00 253.93 L1364.50 257.58 L1365.00 261.04 L1365.50 264.23 L1366.00 267.13 L1366.50 269.68 L1367.00 271.85 L1367.50 273.61 L1368.00 274.93 L1368.50 275.80 L1369.00 276.19 L1369.17 276.22 L1369.50 276.10 L1370.00 275.49 L1370.50 274.37 L1371.00 272.74 L1371.50 270.63 L1372.00 268.06 L1372.50 265.06 L1373.00 261.67 L1373.50 257.92 L1374.00 253.86 L1374.50 249.54 L1375.00 245.00 L1375.50 240.31 L1376.00 235.51 L1376.50 230.66 L1377.00 225.82 L1377.50 221.04 L1378.00 216.38 L1378.50 211.89 L1379.00 207.63 L1379.50 203.64 L1380.00 199.98 L1380.50 196.68 L1381.00 193.79 L1381.50 191.33 L1382.00 189.34 L1382.50 187.83 L1383.00 186.84 L1383.50 186.36 L1383.71 186.31 L1384.00 186.43 L1384.50 187.18 L1385.00 188.63 L1385.50 190.75 L1386.00 193.54 L1386.50 196.96 L1387.00 201.00 L1387.50 205.61 L1388.00 210.75 L1388.50 216.39 L1389.00 222.48 L1389.50 228.97 L1390.00 235.79 L1390.50 242.91 L1391.00 250.25 L1391.50 257.76 L1392.00 265.36 L1392.50 273.01 L1393.00 280.64 L1393.50 288.18 L1394.00 295.57 L1394.50 302.74 L1395.00 309.65 L1395.50 316.22 L1396.00 322.42 L1396.50 328.17 L1397.00 333.45 L1397.50 338.19 L1398.00 342.37 L1398.50 345.95 L1399.00 348.90 L1399.50 351.19 L1400.00 352.81 L1400.50 353.74 L1400.92 353.98 L1401.00 353.97 L1401.50 353.52 L1402.00 352.38 L1402.50 350.58 L1403.00 348.12 L1403.50 345.04 L1404.00 341.35 L1404.50 337.09 L1405.00 332.30 L1405.50 327.02 L1406.00 321.30 L1406.50 315.18 L1407.00 308.73 L1407.50 302.00 L1408.00 295.05 L1408.50 287.95 L1409.00 280.75 L1409.50 273.52 L1410.00 266.32 L1410.50 259.23 L1411.00 252.30 L1411.50 245.59 L1412.00 239.16 L1412.50 233.08 L1413.00 227.39 L1413.50 222.15 L1414.00 217.40 L1414.50 213.19 L1415.00 209.55 L1415.50 206.52 L1416.00 204.12 L1416.50 202.37 L1417.00 201.29 L1417.50 200.89 L1417.54 200.89 L1418.00 201.14 L1418.50 201.96 L1419.00 203.36 L1419.50 205.30 L1420.00 207.77 L1420.50 210.73 L1421.00 214.13 L1421.50 217.94 L1422.00 222.09 L1422.50 226.53 L1423.00 231.20 L1423.50 236.03 L1424.00 240.95 L1424.50 245.90 L1425.00 250.81 L1425.50 255.60 L1426.00 260.22 L1426.50 264.59 L1427.00 268.67 L1427.50 272.37 L1428.00 275.67 L1428.50 278.51 L1429.00 280.85 L1429.50 282.66 L1430.00 283.91 L1430.50 284.59 L1430.83 284.72 L1431.00 284.69 L1431.50 284.17 L1432.00 283.04 L1432.50 281.30 L1433.00 278.97 L1433.50 276.09 L1434.00 272.69 L1434.50 268.80 L1435.00 264.48 L1435.50 259.76 L1436.00 254.71 L1436.50 249.38 L1437.00 243.83 L1437.50 238.13 L1438.00 232.35 L1438.50 226.55 L1439.00 220.79 L1439.50 215.15 L1440.00 209.69 L1440.50 204.47 L1441.00 199.55 L1441.50 194.99 L1442.00 190.84 L1442.50 187.14 L1443.00 183.96 L1443.50 181.30 L1444.00 179.22 L1444.50 177.73 L1445.00 176.85 L1445.46 176.59 L1445.50 176.59 L1446.00 177.06 L1446.50 178.33 L1447.00 180.38 L1447.50 183.20 L1448.00 186.77 L1448.50 191.05 L1449.00 196.01 L1449.50 201.61 L1450.00 207.80 L1450.50 214.51 L1451.00 221.71 L1451.50 229.32 L1452.00 237.28 L1452.50 245.52 L1453.00 253.98 L1453.50 262.57 L1454.00 271.23 L1454.50 279.88 L1455.00 288.44 L1455.50 296.85 L1456.00 305.03 L1456.50 312.91 L1457.00 320.42 L1457.50 327.50 L1458.00 334.09 L1458.50 340.14 L1459.00 345.58 L1459.50 350.37 L1460.00 354.48 L1460.50 357.86 L1461.00 360.50 L1461.50 362.35 L1462.00 363.42 L1462.42 363.70 L1462.50 363.69 L1463.00 363.17 L1463.50 361.88 L1464.00 359.83 L1464.50 357.03 L1465.00 353.52 L1465.50 349.32 L1466.00 344.48 L1466.50 339.03 L1467.00 333.03 L1467.50 326.53 L1468.00 319.60 L1468.50 312.29 L1469.00 304.67 L1469.50 296.82 L1470.00 288.80 L1470.50 280.68 L1471.00 272.55 L1471.50 264.48 L1472.00 256.53 L1472.50 248.78 L1473.00 241.31 L1473.50 234.18 L1474.00 227.46 L1474.50 221.20 L1475.00 215.48 L1475.50 210.32 L1476.00 205.80 L1476.50 201.94 L1477.00 198.78 L1477.50 196.35 L1478.00 194.68 L1478.50 193.77 L1478.83 193.60 L1479.00 193.64 L1479.50 194.20 L1480.00 195.42 L1480.50 197.30 L1481.00 199.80 L1481.50 202.89 L1482.00 206.52 L1482.50 210.66 L1483.00 215.24 L1483.50 220.20 L1484.00 225.47 L1484.50 230.99 L1485.00 236.67 L1485.50 242.45 L1486.00 248.24 L1486.50 253.96 L1487.00 259.54 L1487.50 264.90 L1488.00 269.98 L1488.50 274.69 L1489.00 278.98 L1489.50 282.79 L1490.00 286.06 L1490.50 288.76 L1491.00 290.85 L1491.50 292.30 L1492.00 293.08 L1492.33 293.23 L1492.50 293.19 L1493.00 292.60 L1493.50 291.30 L1494.00 289.31 L1494.50 286.65 L1495.00 283.35 L1495.50 279.45 L1496.00 275.00 L1496.50 270.04 L1497.00 264.64 L1497.50 258.84 L1498.00 252.73 L1498.50 246.36 L1499.00 239.81 L1499.50 233.16 L1500.00 226.48 L1500.50 219.85 L1501.00 213.34 L1501.50 207.03 L1502.00 200.99 L1502.50 195.29 L1503.00 189.99 L1503.50 185.15 L1504.00 180.83 L1504.50 177.08 L1505.00 173.94 L1505.50 171.45 L1506.00 169.63 L1506.50 168.50 L1507.00 168.09 L1507.04 168.09 L1507.50 168.46 L1508.00 169.73 L1508.50 171.88 L1509.00 174.89 L1509.50 178.74 L1510.00 183.40 L1510.50 188.81 L1511.00 194.94 L1511.50 201.74 L1512.00 209.13 L1512.50 217.06 L1513.00 225.45 L1513.50 234.24 L1514.00 243.34 L1514.50 252.68 L1515.00 262.18 L1515.50 271.74 L1516.00 281.29 L1516.50 290.74 L1517.00 300.01 L1517.50 309.02 L1518.00 317.68 L1518.50 325.93 L1519.00 333.69 L1519.50 340.89 L1520.00 347.47 L1520.50 353.36 L1521.00 358.53 L1521.50 362.92 L1522.00 366.50 L1522.50 369.22 L1523.00 371.08 L1523.50 372.05 L1523.79 372.20 L1524.00 372.13 L1524.50 371.33 L1525.00 369.68 L1525.50 367.18 L1526.00 363.86 L1526.50 359.75 L1527.00 354.89 L1527.50 349.32 L1528.00 343.10 L1528.50 336.28 L1529.00 328.93 L1529.50 321.12 L1530.00 312.92 L1530.50 304.40 L1531.00 295.64 L1531.50 286.74 L1532.00 277.76 L1532.50 268.80 L1533.00 259.93 L1533.50 251.25 L1534.00 242.83 L1534.50 234.74 L1535.00 227.08 L1535.50 219.90 L1536.00 213.27 L1536.50 207.26 L1537.00 201.92 L1537.50 197.31 L1538.00 193.46 L1538.50 190.41 L1539.00 188.19 L1539.50 186.82 L1540.00 186.31 L1540.04 186.31 L1540.50 186.63 L1541.00 187.69 L1541.50 189.48 L1542.00 191.99 L1542.50 195.18 L1543.00 199.00 L1543.50 203.41 L1544.00 208.35 L1544.50 213.75 L1545.00 219.55 L1545.50 225.67 L1546.00 232.02 L1546.50 238.54 L1547.00 245.12 L1547.50 251.69 L1548.00 258.16 L1548.50 264.45 L1549.00 270.47 L1549.50 276.14 L1550.00 281.40 L1550.50 286.17 L1551.00 290.39 L1551.50 294.00 L1552.00 296.97 L1552.50 299.24 L1553.00 300.79 L1553.50 301.61 L1553.79 301.73 L1554.00 301.67 L1554.50 300.94 L1555.00 299.43 L1555.50 297.16 L1556.00 294.15 L1556.50 290.43 L1557.00 286.05 L1557.50 281.05 L1558.00 275.50 L1558.50 269.45 L1559.00 262.98 L1559.50 256.15 L1560.00 249.05 L1560.50 241.76 L1561.00 234.35 L1561.50 226.92 L1562.00 219.54 L1562.50 212.30 L1563.00 205.28 L1563.50 198.56 L1564.00 192.23 L1564.50 186.34 L1565.00 180.96 L1565.50 176.17 L1566.00 172.00 L1566.50 168.51 L1567.00 165.74 L1567.50 163.72 L1568.00 162.47 L1568.50 162.01 L1568.54 162.01 L1569.00 162.41 L1569.50 163.77 L1570.00 166.06 L1570.50 169.28 L1571.00 173.40 L1571.50 178.37 L1572.00 184.15 L1572.50 190.69 L1573.00 197.93 L1573.50 205.81 L1574.00 214.26 L1574.50 223.19 L1575.00 232.54 L1575.50 242.21 L1576.00 252.12 L1576.50 262.18 L1577.00 272.31 L1577.50 282.40 L1578.00 292.37 L1578.50 302.13 L1579.00 311.59 L1579.50 320.68 L1580.00 329.29 L1580.50 337.37 L1581.00 344.83 L1581.50 351.61 L1582.00 357.65 L1582.50 362.90 L1583.00 367.30 L1583.50 370.82 L1584.00 373.43 L1584.50 375.10 L1585.00 375.82 L1585.12 375.85 L1585.50 375.59 L1586.00 374.44 L1586.50 372.38 L1587.00 369.44 L1587.50 365.63 L1588.00 361.00 L1588.50 355.58 L1589.00 349.44 L1589.50 342.63 L1590.00 335.21 L1590.50 327.25 L1591.00 318.83 L1591.50 310.03 L1592.00 300.94 L1592.50 291.63 L1593.00 282.20 L1593.50 272.74 L1594.00 263.33 L1594.50 254.06 L1595.00 245.04 L1595.50 236.32 L1596.00 228.01 L1596.50 220.19 L1597.00 212.91 L1597.50 206.26 L1598.00 200.29 L1598.50 195.07 L1599.00 190.64 L1599.50 187.05 L1600.00 184.32 L1600.50 182.49 L1601.00 181.57 L1601.25 181.45 L1601.50 181.55 L1602.00 182.36 L1602.50 183.96 L1603.00 186.33 L1603.50 189.46 L1604.00 193.28 L1604.50 197.77 L1605.00 202.85 L1605.50 208.47 L1606.00 214.56 L1606.50 221.03 L1607.00 227.82 L1607.50 234.82 L1608.00 241.95 L1608.50 249.12 L1609.00 256.25 L1609.50 263.23 L1610.00 269.99 L1610.50 276.44 L1611.00 282.49 L1611.50 288.07 L1612.00 293.10 L1612.50 297.54 L1613.00 301.31 L1613.50 304.37 L1614.00 306.68 L1614.50 308.22 L1615.00 308.95 L1615.21 309.02 L1615.50 308.88 L1616.00 307.97 L1616.50 306.23 L1617.00 303.68 L1617.50 300.35 L1618.00 296.27 L1618.50 291.50 L1619.00 286.08 L1619.50 280.07 L1620.00 273.56 L1620.50 266.60 L1621.00 259.27 L1621.50 251.67 L1622.00 243.86 L1622.50 235.96 L1623.00 228.03 L1623.50 220.17 L1624.00 212.47 L1624.50 205.02 L1625.00 197.90 L1625.50 191.19 L1626.00 184.96 L1626.50 179.29 L1627.00 174.24 L1627.50 169.87 L1628.00 166.22 L1628.50 163.34 L1629.00 161.26 L1629.50 160.00 L1630.00 159.58 L1630.50 160.07 L1631.00 161.54 L1631.50 163.98 L1632.00 167.36 L1632.50 171.65 L1633.00 176.82 L1633.50 182.81 L1634.00 189.57 L1634.50 197.05 L1635.00 205.16 L1635.50 213.84 L1636.00 223.01 L1636.50 232.58 L1637.00 242.46 L1637.50 252.58 L1638.00 262.82 L1638.50 273.11 L1639.00 283.34 L1639.50 293.42 L1640.00 303.26 L1640.50 312.77 L1641.00 321.86 L1641.50 330.45 L1642.00 338.46 L1642.50 345.82 L1643.00 352.46 L1643.50 358.32 L1644.00 363.34 L1644.50 367.48 L1645.00 370.71 L1645.50 372.98 L1646.00 374.29 L1646.42 374.63 L1646.50 374.62 L1647.00 373.99 L1647.50 372.41 L1648.00 369.91 L1648.50 366.51 L1649.00 362.23 L1649.50 357.12 L1650.00 351.24 L1650.50 344.63 L1651.00 337.35 L1651.50 329.49 L1652.00 321.11 L1652.50 312.29 L1653.00 303.12 L1653.50 293.69 L1654.00 284.09 L1654.50 274.40 L1655.00 264.73 L1655.50 255.16 L1656.00 245.78 L1656.50 236.69 L1657.00 227.98 L1657.50 219.72 L1658.00 212.00 L1658.50 204.88 L1659.00 198.45 L1659.50 192.75 L1660.00 187.85 L1660.50 183.78 L1661.00 180.60 L1661.50 178.33 L1662.00 176.99 L1662.46 176.59 L1662.50 176.59 L1663.00 177.09 L1663.50 178.43 L1664.00 180.61 L1664.50 183.59 L1665.00 187.33 L1665.50 191.80 L1666.00 196.94 L1666.50 202.68 L1667.00 208.95 L1667.50 215.69 L1668.00 222.79 L1668.50 230.19 L1669.00 237.79 L1669.50 245.49 L1670.00 253.20 L1670.50 260.83 L1671.00 268.29 L1671.50 275.47 L1672.00 282.31 L1672.50 288.70 L1673.00 294.59 L1673.50 299.88 L1674.00 304.52 L1674.50 308.45 L1675.00 311.62 L1675.50 314.00 L1676.00 315.56 L1676.50 316.27 L1676.67 316.31 L1677.00 316.12 L1677.50 315.11 L1678.00 313.24 L1678.50 310.53 L1679.00 307.01 L1679.50 302.73 L1680.00 297.73 L1680.50 292.06 L1681.00 285.80 L1681.50 279.01 L1682.00 271.76 L1682.50 264.14 L1683.00 256.24 L1683.50 248.14 L1684.00 239.93 L1684.50 231.70 L1685.00 223.55 L1685.50 215.57 L1686.00 207.85 L1686.50 200.47 L1687.00 193.52 L1687.50 187.07 L1688.00 181.20 L1688.50 175.97 L1689.00 171.44 L1689.50 167.67 L1690.00 164.69 L1690.50 162.53 L1691.00 161.23 L1691.50 160.79 L1692.00 161.29 L1692.50 162.75 L1693.00 165.18 L1693.50 168.55 L1694.00 172.82 L1694.50 177.97 L1695.00 183.93 L1695.50 190.66 L1696.00 198.08 L1696.50 206.14 L1697.00 214.75 L1697.50 223.84 L1698.00 233.32 L1698.50 243.09 L1699.00 253.08 L1699.50 263.18 L1700.00 273.29 L1700.50 283.34 L1701.00 293.21 L1701.50 302.82 L1702.00 312.08 L1702.50 320.90 L1703.00 329.20 L1703.50 336.90 L1704.00 343.93 L1704.50 350.21 L1705.00 355.71 L1705.50 360.35 L1706.00 364.10 L1706.50 366.92 L1707.00 368.79 L1707.50 369.69 L1707.71 369.77 L1708.00 369.61 L1708.50 368.59 L1709.00 366.63 L1709.50 363.75 L1710.00 359.99 L1710.50 355.37 L1711.00 349.95 L1711.50 343.77 L1712.00 336.90 L1712.50 329.39 L1713.00 321.33 L1713.50 312.80 L1714.00 303.87 L1714.50 294.62 L1715.00 285.16 L1715.50 275.58 L1716.00 265.95 L1716.50 256.39 L1717.00 246.98 L1717.50 237.80 L1718.00 228.96 L1718.50 220.54 L1719.00 212.61 L1719.50 205.26 L1720.00 198.55 L1720.50 192.56 L1721.00 187.33 L1721.50 182.92 L1722.00 179.38 L1722.50 176.73 L1723.00 175.00 L1723.50 174.21 L1723.67 174.16 L1724.00 174.35 L1724.50 175.35 L1725.00 177.19 L1725.50 179.85 L1726.00 183.30 L1726.50 187.51 L1727.00 192.41 L1727.50 197.96 L1728.00 204.09 L1728.50 210.72 L1729.00 217.79 L1729.50 225.20 L1730.00 232.88 L1730.50 240.73 L1731.00 248.66 L1731.50 256.58 L1732.00 264.39 L1732.50 272.01 L1733.00 279.35 L1733.50 286.31 L1734.00 292.83 L1734.50 298.82 L1735.00 304.21 L1735.50 308.95 L1736.00 312.97 L1736.50 316.23 L1737.00 318.68 L1737.50 320.32 L1738.00 321.10 L1738.21 321.17 L1738.50 321.03 L1739.00 320.11 L1739.50 318.34 L1740.00 315.76 L1740.50 312.38 L1741.00 308.25 L1741.50 303.41 L1742.00 297.92 L1742.50 291.83 L1743.00 285.21 L1743.50 278.14 L1744.00 270.70 L1744.50 262.97 L1745.00 255.04 L1745.50 246.99 L1746.00 238.91 L1746.50 230.90 L1747.00 223.04 L1747.50 215.42 L1748.00 208.12 L1748.50 201.23 L1749.00 194.83 L1749.50 188.98 L1750.00 183.75 L1750.50 179.20 L1751.00 175.38 L1751.50 172.33 L1752.00 170.08 L1752.50 168.67 L1753.00 168.10 L1753.08 168.09 L1753.50 168.08 L1754.00 168.08 L1754.50 168.08 L1755.00 168.08 L1755.50 168.08 L1756.00 168.08 L1756.50 168.08 L1757.00 168.08 L1757.50 168.08 L1758.00 168.08 L1758.50 168.08 L1759.00 168.08 L1759.50 168.08 L1760.00 168.08 L1760.00 406.0 Z" fill="url(#fg)" fill-opacity="0.9"/><path d="M83.50 406.0 L83.50 258.27 L84.00 265.76 L84.50 273.34 L85.00 280.91 L85.50 288.37 L86.00 295.65 L86.50 302.64 L87.00 309.28 L87.50 315.47 L88.00 321.16 L88.50 326.26 L89.00 330.71 L89.50 334.48 L90.00 337.50 L90.50 339.74 L91.00 341.18 L91.50 341.80 L91.62 341.83 L92.00 341.64 L92.50 340.80 L93.00 339.30 L93.50 337.15 L94.00 334.37 L94.50 330.98 L95.00 327.02 L95.50 322.53 L96.00 317.54 L96.50 312.10 L97.00 306.25 L97.50 300.07 L98.00 293.59 L98.50 286.88 L99.00 280.00 L99.50 273.01 L100.00 265.98 L100.50 258.97 L101.00 252.05 L101.50 245.27 L102.00 238.71 L102.50 232.42 L103.00 226.45 L103.50 220.87 L104.00 215.73 L104.50 211.06 L105.00 206.92 L105.50 203.34 L106.00 200.35 L106.50 197.99 L107.00 196.27 L107.50 195.21 L108.00 194.82 L108.04 194.82 L108.50 195.06 L109.00 195.87 L109.50 197.24 L110.00 199.17 L110.50 201.61 L111.00 204.56 L111.50 207.97 L112.00 211.81 L112.50 216.03 L113.00 220.59 L113.50 225.43 L114.00 230.51 L114.50 235.75 L115.00 241.11 L115.50 246.52 L116.00 251.93 L116.50 257.26 L117.00 262.47 L117.50 267.49 L118.00 272.27 L118.50 276.75 L119.00 280.88 L119.50 284.61 L120.00 287.91 L120.50 290.74 L121.00 293.06 L121.50 294.84 L122.00 296.08 L122.50 296.75 L122.83 296.87 L123.00 296.84 L123.50 296.39 L124.00 295.40 L124.50 293.88 L125.00 291.84 L125.50 289.32 L126.00 286.35 L126.50 282.95 L127.00 279.17 L127.50 275.05 L128.00 270.64 L128.50 265.99 L129.00 261.15 L129.50 256.19 L130.00 251.15 L130.50 246.10 L131.00 241.10 L131.50 236.20 L132.00 231.47 L132.50 226.95 L133.00 222.70 L133.50 218.78 L134.00 215.21 L134.50 212.06 L135.00 209.34 L135.50 207.11 L136.00 205.37 L136.50 204.15 L137.00 203.47 L137.38 203.32 L137.50 203.34 L138.00 203.78 L138.50 204.81 L139.00 206.42 L139.50 208.58 L140.00 211.29 L140.50 214.51 L141.00 218.22 L141.50 222.37 L142.00 226.93 L142.50 231.86 L143.00 237.11 L143.50 242.62 L144.00 248.36 L144.50 254.25 L145.00 260.25 L145.50 266.29 L146.00 272.33 L146.50 278.30 L147.00 284.15 L147.50 289.81 L148.00 295.24 L148.50 300.39 L149.00 305.20 L149.50 309.63 L150.00 313.64 L150.50 317.19 L151.00 320.24 L151.50 322.77 L152.00 324.75 L152.50 326.17 L153.00 327.00 L153.46 327.25 L153.50 327.25 L154.00 326.90 L154.50 325.95 L155.00 324.40 L155.50 322.28 L156.00 319.61 L156.50 316.40 L157.00 312.69 L157.50 308.50 L158.00 303.89 L158.50 298.88 L159.00 293.53 L159.50 287.89 L160.00 282.00 L160.50 275.91 L161.00 269.70 L161.50 263.40 L162.00 257.08 L162.50 250.80 L163.00 244.62 L163.50 238.58 L164.00 232.74 L164.50 227.17 L165.00 221.90 L165.50 216.99 L166.00 212.47 L166.50 208.41 L167.00 204.81 L167.50 201.74 L168.00 199.20 L168.50 197.22 L169.00 195.83 L169.50 195.02 L169.92 194.82 L170.00 194.82 L170.50 195.19 L171.00 196.09 L171.50 197.53 L172.00 199.49 L172.50 201.94 L173.00 204.87 L173.50 208.24 L174.00 212.02 L174.50 216.16 L175.00 220.64 L175.50 225.40 L176.00 230.39 L176.50 235.57 L177.00 240.87 L177.50 246.25 L178.00 251.65 L178.50 257.02 L179.00 262.29 L179.50 267.43 L180.00 272.36 L180.50 277.06 L181.00 281.46 L181.50 285.52 L182.00 289.20 L182.50 292.46 L183.00 295.27 L183.50 297.60 L184.00 299.43 L184.50 300.74 L185.00 301.51 L185.46 301.73 L185.50 301.73 L186.00 301.45 L186.50 300.68 L187.00 299.44 L187.50 297.74 L188.00 295.60 L188.50 293.04 L189.00 290.10 L189.50 286.80 L190.00 283.18 L190.50 279.28 L191.00 275.15 L191.50 270.84 L192.00 266.38 L192.50 261.84 L193.00 257.27 L193.50 252.70 L194.00 248.21 L194.50 243.83 L195.00 239.62 L195.50 235.62 L196.00 231.88 L196.50 228.44 L197.00 225.34 L197.50 222.62 L198.00 220.30 L198.50 218.42 L199.00 216.98 L199.50 216.02 L200.00 215.53 L200.25 215.47 L200.50 215.53 L201.00 216.03 L201.50 217.03 L202.00 218.51 L202.50 220.45 L203.00 222.85 L203.50 225.67 L204.00 228.88 L204.50 232.46 L205.00 236.36 L205.50 240.54 L206.00 244.96 L206.50 249.57 L207.00 254.33 L207.50 259.18 L208.00 264.08 L208.50 268.97 L209.00 273.80 L209.50 278.53 L210.00 283.09 L210.50 287.46 L211.00 291.57 L211.50 295.39 L212.00 298.88 L212.50 302.00 L213.00 304.72 L213.50 307.00 L214.00 308.83 L214.50 310.19 L215.00 311.06 L215.50 311.44 L215.62 311.45 L216.00 311.30 L216.50 310.63 L217.00 309.43 L217.50 307.70 L218.00 305.47 L218.50 302.76 L219.00 299.59 L219.50 295.98 L220.00 291.98 L220.50 287.62 L221.00 282.94 L221.50 277.97 L222.00 272.78 L222.50 267.40 L223.00 261.88 L223.50 256.28 L224.00 250.65 L224.50 245.03 L225.00 239.48 L225.50 234.05 L226.00 228.79 L226.50 223.74 L227.00 218.96 L227.50 214.49 L228.00 210.36 L228.50 206.62 L229.00 203.30 L229.50 200.43 L230.00 198.04 L230.50 196.15 L231.00 194.77 L231.50 193.92 L232.00 193.60 L232.04 193.60 L232.50 193.82 L233.00 194.57 L233.50 195.83 L234.00 197.61 L234.50 199.87 L235.00 202.61 L235.50 205.79 L236.00 209.39 L236.50 213.38 L237.00 217.72 L237.50 222.36 L238.00 227.27 L238.50 232.41 L239.00 237.72 L239.50 243.16 L240.00 248.68 L240.50 254.23 L241.00 259.76 L241.50 265.22 L242.00 270.56 L242.50 275.73 L243.00 280.68 L243.50 285.37 L244.00 289.76 L244.50 293.81 L245.00 297.48 L245.50 300.73 L246.00 303.54 L246.50 305.89 L247.00 307.75 L247.50 309.10 L248.00 309.93 L248.50 310.24 L248.54 310.24 L249.00 310.05 L249.50 309.40 L250.00 308.30 L250.50 306.77 L251.00 304.81 L251.50 302.45 L252.00 299.71 L252.50 296.63 L253.00 293.23 L253.50 289.54 L254.00 285.62 L254.50 281.50 L255.00 277.22 L255.50 272.83 L256.00 268.37 L256.50 263.89 L257.00 259.44 L257.50 255.06 L258.00 250.80 L258.50 246.71 L259.00 242.82 L259.50 239.19 L260.00 235.84 L260.50 232.81 L261.00 230.13 L261.50 227.84 L262.00 225.95 L262.50 224.48 L263.00 223.46 L263.50 222.89 L263.88 222.76 L264.00 222.77 L264.50 223.10 L265.00 223.87 L265.50 225.06 L266.00 226.66 L266.50 228.66 L267.00 231.03 L267.50 233.73 L268.00 236.75 L268.50 240.04 L269.00 243.57 L269.50 247.28 L270.00 251.15 L270.50 255.12 L271.00 259.14 L271.50 263.18 L272.00 267.17 L272.50 271.08 L273.00 274.85 L273.50 278.44 L274.00 281.82 L274.50 284.93 L275.00 287.74 L275.50 290.23 L276.00 292.35 L276.50 294.09 L277.00 295.42 L277.50 296.32 L278.00 296.80 L278.29 296.87 L278.50 296.83 L279.00 296.37 L279.50 295.42 L280.00 293.97 L280.50 292.05 L281.00 289.68 L281.50 286.87 L282.00 283.65 L282.50 280.05 L283.00 276.12 L283.50 271.87 L284.00 267.36 L284.50 262.62 L285.00 257.70 L285.50 252.65 L286.00 247.51 L286.50 242.34 L287.00 237.17 L287.50 232.06 L288.00 227.06 L288.50 222.21 L289.00 217.56 L289.50 213.16 L290.00 209.03 L290.50 205.23 L291.00 201.79 L291.50 198.74 L292.00 196.11 L292.50 193.92 L293.00 192.20 L293.50 190.96 L294.00 190.21 L294.50 189.96 L295.00 190.23 L295.50 191.07 L296.00 192.46 L296.50 194.38 L297.00 196.82 L297.50 199.77 L298.00 203.20 L298.50 207.07 L299.00 211.36 L299.50 216.03 L300.00 221.05 L300.50 226.36 L301.00 231.94 L301.50 237.72 L302.00 243.67 L302.50 249.73 L303.00 255.85 L303.50 261.99 L304.00 268.09 L304.50 274.10 L305.00 279.97 L305.50 285.65 L306.00 291.10 L306.50 296.27 L307.00 301.12 L307.50 305.61 L308.00 309.70 L308.50 313.35 L309.00 316.54 L309.50 319.24 L310.00 321.42 L310.50 323.08 L311.00 324.19 L311.50 324.75 L311.75 324.82 L312.00 324.76 L312.50 324.27 L313.00 323.30 L313.50 321.85 L314.00 319.94 L314.50 317.58 L315.00 314.81 L315.50 311.64 L316.00 308.11 L316.50 304.24 L317.00 300.08 L317.50 295.67 L318.00 291.04 L318.50 286.24 L319.00 281.32 L319.50 276.32 L320.00 271.30 L320.50 266.29 L321.00 261.34 L321.50 256.51 L322.00 251.84 L322.50 247.36 L323.00 243.14 L323.50 239.19 L324.00 235.57 L324.50 232.31 L325.00 229.44 L325.50 226.98 L326.00 224.95 L326.50 223.39 L327.00 222.29 L327.50 221.68 L327.88 221.54 L328.00 221.56 L328.50 221.89 L329.00 222.66 L329.50 223.85 L330.00 225.45 L330.50 227.44 L331.00 229.80 L331.50 232.48 L332.00 235.45 L332.50 238.69 L333.00 242.13 L333.50 245.73 L334.00 249.45 L334.50 253.24 L335.00 257.04 L335.50 260.81 L336.00 264.49 L336.50 268.03 L337.00 271.39 L337.50 274.52 L338.00 277.38 L338.50 279.93 L339.00 282.13 L339.50 283.96 L340.00 285.40 L340.50 286.42 L341.00 287.00 L341.42 287.15 L341.50 287.15 L342.00 286.81 L342.50 285.95 L343.00 284.60 L343.50 282.76 L344.00 280.45 L344.50 277.69 L345.00 274.52 L345.50 270.95 L346.00 267.04 L346.50 262.81 L347.00 258.31 L347.50 253.58 L348.00 248.67 L348.50 243.64 L349.00 238.52 L349.50 233.37 L350.00 228.25 L350.50 223.19 L351.00 218.26 L351.50 213.50 L352.00 208.96 L352.50 204.68 L353.00 200.71 L353.50 197.09 L354.00 193.84 L354.50 191.01 L355.00 188.63 L355.50 186.71 L356.00 185.27 L356.50 184.34 L357.00 183.91 L357.17 183.88 L357.50 184.02 L358.00 184.77 L358.50 186.16 L359.00 188.16 L359.50 190.78 L360.00 193.98 L360.50 197.75 L361.00 202.05 L361.50 206.84 L362.00 212.09 L362.50 217.76 L363.00 223.80 L363.50 230.17 L364.00 236.80 L364.50 243.65 L365.00 250.67 L365.50 257.79 L366.00 264.97 L366.50 272.13 L367.00 279.24 L367.50 286.22 L368.00 293.02 L368.50 299.59 L369.00 305.88 L369.50 311.83 L370.00 317.40 L370.50 322.54 L371.00 327.22 L371.50 331.38 L372.00 335.01 L372.50 338.07 L373.00 340.54 L373.50 342.39 L374.00 343.62 L374.50 344.20 L374.71 344.26 L375.00 344.16 L375.50 343.53 L376.00 342.32 L376.50 340.54 L377.00 338.20 L377.50 335.34 L378.00 331.97 L378.50 328.13 L379.00 323.84 L379.50 319.15 L380.00 314.10 L380.50 308.74 L381.00 303.10 L381.50 297.25 L382.00 291.23 L382.50 285.10 L383.00 278.91 L383.50 272.72 L384.00 266.58 L384.50 260.55 L385.00 254.68 L385.50 249.02 L386.00 243.63 L386.50 238.56 L387.00 233.83 L387.50 229.51 L388.00 225.63 L388.50 222.22 L389.00 219.32 L389.50 216.94 L390.00 215.11 L390.50 213.85 L391.00 213.17 L391.33 213.04 L391.50 213.07 L392.00 213.48 L392.50 214.40 L393.00 215.79 L393.50 217.64 L394.00 219.93 L394.50 222.63 L395.00 225.69 L395.50 229.07 L396.00 232.72 L396.50 236.59 L397.00 240.63 L397.50 244.78 L398.00 248.98 L398.50 253.16 L399.00 257.28 L399.50 261.27 L400.00 265.08 L400.50 268.64 L401.00 271.92 L401.50 274.86 L402.00 277.43 L402.50 279.57 L403.00 281.28 L403.50 282.51 L404.00 283.26 L404.50 283.51 L405.00 283.22 L405.50 282.35 L406.00 280.92 L406.50 278.93 L407.00 276.42 L407.50 273.40 L408.00 269.90 L408.50 265.97 L409.00 261.65 L409.50 256.98 L410.00 252.01 L410.50 246.80 L411.00 241.39 L411.50 235.86 L412.00 230.24 L412.50 224.62 L413.00 219.03 L413.50 213.55 L414.00 208.24 L414.50 203.14 L415.00 198.31 L415.50 193.81 L416.00 189.68 L416.50 185.96 L417.00 182.70 L417.50 179.93 L418.00 177.67 L418.50 175.96 L419.00 174.81 L419.50 174.23 L419.75 174.16 L420.00 174.25 L420.50 175.01 L421.00 176.52 L421.50 178.78 L422.00 181.75 L422.50 185.42 L423.00 189.77 L423.50 194.74 L424.00 200.31 L424.50 206.43 L425.00 213.05 L425.50 220.12 L426.00 227.58 L426.50 235.37 L427.00 243.44 L427.50 251.70 L428.00 260.10 L428.50 268.58 L429.00 277.05 L429.50 285.46 L430.00 293.74 L430.50 301.82 L431.00 309.64 L431.50 317.13 L432.00 324.23 L432.50 330.89 L433.00 337.06 L433.50 342.68 L434.00 347.70 L434.50 352.10 L435.00 355.83 L435.50 358.86 L436.00 361.18 L436.50 362.75 L437.00 363.57 L437.29 363.70 L437.50 363.64 L438.00 362.98 L438.50 361.60 L439.00 359.53 L439.50 356.77 L440.00 353.34 L440.50 349.29 L441.00 344.65 L441.50 339.45 L442.00 333.75 L442.50 327.58 L443.00 321.02 L443.50 314.11 L444.00 306.91 L444.50 299.49 L445.00 291.92 L445.50 284.25 L446.00 276.56 L446.50 268.92 L447.00 261.39 L447.50 254.04 L448.00 246.93 L448.50 240.13 L449.00 233.69 L449.50 227.67 L450.00 222.13 L450.50 217.11 L451.00 212.66 L451.50 208.82 L452.00 205.61 L452.50 203.08 L453.00 201.24 L453.50 200.10 L454.00 199.68 L454.04 199.68 L454.50 199.93 L455.00 200.79 L455.50 202.24 L456.00 204.27 L456.50 206.84 L457.00 209.92 L457.50 213.46 L458.00 217.42 L458.50 221.74 L459.00 226.35 L459.50 231.20 L460.00 236.21 L460.50 241.31 L461.00 246.44 L461.50 251.51 L462.00 256.46 L462.50 261.22 L463.00 265.72 L463.50 269.89 L464.00 273.68 L464.50 277.04 L465.00 279.91 L465.50 282.26 L466.00 284.05 L466.50 285.26 L467.00 285.86 L467.25 285.94 L467.50 285.86 L468.00 285.18 L468.50 283.84 L469.00 281.84 L469.50 279.22 L470.00 275.99 L470.50 272.19 L471.00 267.87 L471.50 263.08 L472.00 257.86 L472.50 252.27 L473.00 246.38 L473.50 240.25 L474.00 233.94 L474.50 227.53 L475.00 221.09 L475.50 214.69 L476.00 208.40 L476.50 202.29 L477.00 196.42 L477.50 190.86 L478.00 185.67 L478.50 180.91 L479.00 176.64 L479.50 172.89 L480.00 169.71 L480.50 167.13 L481.00 165.19 L481.50 163.90 L482.00 163.28 L482.21 163.23 L482.50 163.38 L483.00 164.34 L483.50 166.18 L484.00 168.88 L484.50 172.43 L485.00 176.79 L485.50 181.92 L486.00 187.79 L486.50 194.35 L487.00 201.55 L487.50 209.32 L488.00 217.60 L488.50 226.32 L489.00 235.42 L489.50 244.81 L490.00 254.43 L490.50 264.19 L491.00 274.02 L491.50 283.82 L492.00 293.53 L492.50 303.07 L493.00 312.35 L493.50 321.30 L494.00 329.85 L494.50 337.92 L495.00 345.46 L495.50 352.39 L496.00 358.67 L496.50 364.24 L497.00 369.06 L497.50 373.09 L498.00 376.28 L498.50 378.63 L499.00 380.11 L499.50 380.70 L499.58 380.71 L500.00 380.41 L500.50 379.28 L501.00 377.31 L501.50 374.51 L502.00 370.92 L502.50 366.57 L503.00 361.48 L503.50 355.72 L504.00 349.32 L504.50 342.36 L505.00 334.88 L505.50 326.95 L506.00 318.65 L506.50 310.05 L507.00 301.23 L507.50 292.26 L508.00 283.22 L508.50 274.19 L509.00 265.26 L509.50 256.50 L510.00 247.99 L510.50 239.81 L511.00 232.03 L511.50 224.71 L512.00 217.93 L512.50 211.74 L513.00 206.19 L513.50 201.35 L514.00 197.24 L514.50 193.91 L515.00 191.39 L515.50 189.70 L516.00 188.85 L516.25 188.74 L516.50 188.83 L517.00 189.54 L517.50 190.95 L518.00 193.04 L518.50 195.78 L519.00 199.14 L519.50 203.07 L520.00 207.51 L520.50 212.40 L521.00 217.68 L521.50 223.27 L522.00 229.10 L522.50 235.08 L523.00 241.14 L523.50 247.18 L524.00 253.13 L524.50 258.91 L525.00 264.43 L525.50 269.61 L526.00 274.40 L526.50 278.72 L527.00 282.51 L527.50 285.72 L528.00 288.30 L528.50 290.22 L529.00 291.46 L529.50 291.99 L529.62 292.01 L530.00 291.79 L530.50 290.82 L531.00 289.07 L531.50 286.58 L532.00 283.36 L532.50 279.46 L533.00 274.91 L533.50 269.78 L534.00 264.11 L534.50 257.97 L535.00 251.43 L535.50 244.56 L536.00 237.44 L536.50 230.15 L537.00 222.77 L537.50 215.38 L538.00 208.07 L538.50 200.92 L539.00 194.00 L539.50 187.40 L540.00 181.19 L540.50 175.44 L541.00 170.21 L541.50 165.56 L542.00 161.55 L542.50 158.21 L543.00 155.60 L543.50 153.72 L544.00 152.62 L544.46 152.29 L544.50 152.29 L545.00 152.88 L545.50 154.46 L546.00 157.02 L546.50 160.55 L547.00 165.01 L547.50 170.36 L548.00 176.57 L548.50 183.57 L549.00 191.32 L549.50 199.74 L550.00 208.77 L550.50 218.33 L551.00 228.35 L551.50 238.73 L552.00 249.39 L552.50 260.24 L553.00 271.20 L553.50 282.17 L554.00 293.06 L554.50 303.78 L555.00 314.24 L555.50 324.35 L556.00 334.03 L556.50 343.20 L557.00 351.78 L557.50 359.71 L558.00 366.90 L558.50 373.31 L559.00 378.89 L559.50 383.57 L560.00 387.33 L560.50 390.14 L561.00 391.97 L561.50 392.80 L561.67 392.86 L562.00 392.65 L562.50 391.53 L563.00 389.47 L563.50 386.48 L564.00 382.59 L564.50 377.84 L565.00 372.26 L565.50 365.91 L566.00 358.84 L566.50 351.13 L567.00 342.83 L567.50 334.02 L568.00 324.79 L568.50 315.21 L569.00 305.38 L569.50 295.37 L570.00 285.29 L570.50 275.21 L571.00 265.24 L571.50 255.46 L572.00 245.96 L572.50 236.83 L573.00 228.14 L573.50 219.98 L574.00 212.42 L574.50 205.53 L575.00 199.37 L575.50 193.99 L576.00 189.45 L576.50 185.78 L577.00 183.02 L577.50 181.20 L578.00 180.32 L578.21 180.24 L578.50 180.37 L579.00 181.25 L579.50 182.92 L580.00 185.36 L580.50 188.54 L581.00 192.41 L581.50 196.94 L582.00 202.04 L582.50 207.66 L583.00 213.72 L583.50 220.14 L584.00 226.83 L584.50 233.71 L585.00 240.67 L585.50 247.63 L586.00 254.49 L586.50 261.16 L587.00 267.55 L587.50 273.58 L588.00 279.16 L588.50 284.22 L589.00 288.69 L589.50 292.51 L590.00 295.63 L590.50 298.01 L591.00 299.61 L591.50 300.42 L591.75 300.52 L592.00 300.41 L592.50 299.54 L593.00 297.81 L593.50 295.24 L594.00 291.86 L594.50 287.70 L595.00 282.81 L595.50 277.26 L596.00 271.09 L596.50 264.38 L597.00 257.20 L597.50 249.64 L598.00 241.78 L598.50 233.70 L599.00 225.50 L599.50 217.27 L600.00 209.11 L600.50 201.09 L601.00 193.32 L601.50 185.88 L602.00 178.85 L602.50 172.31 L603.00 166.34 L603.50 161.00 L604.00 156.35 L604.50 152.45 L605.00 149.33 L605.50 147.04 L606.00 145.59 L606.50 145.01 L606.58 145.00 L607.00 145.37 L607.50 146.80 L608.00 149.28 L608.50 152.81 L609.00 157.33 L609.50 162.83 L610.00 169.25 L610.50 176.53 L611.00 184.62 L611.50 193.45 L612.00 202.93 L612.50 213.00 L613.00 223.57 L613.50 234.53 L614.00 245.82 L614.50 257.32 L615.00 268.93 L615.50 280.57 L616.00 292.13 L616.50 303.52 L617.00 314.63 L617.50 325.37 L618.00 335.66 L618.50 345.40 L619.00 354.51 L619.50 362.91 L620.00 370.54 L620.50 377.33 L621.00 383.21 L621.50 388.15 L622.00 392.09 L622.50 395.01 L623.00 396.88 L623.50 397.69 L623.62 397.72 L624.00 397.43 L624.50 396.17 L625.00 393.89 L625.50 390.64 L626.00 386.43 L626.50 381.31 L627.00 375.33 L627.50 368.53 L628.00 360.98 L628.50 352.75 L629.00 343.92 L629.50 334.56 L630.00 324.76 L630.50 314.61 L631.00 304.20 L631.50 293.63 L632.00 283.00 L632.50 272.40 L633.00 261.93 L633.50 251.69 L634.00 241.76 L634.50 232.25 L635.00 223.23 L635.50 214.79 L636.00 207.00 L636.50 199.95 L637.00 193.68 L637.50 188.27 L638.00 183.75 L638.50 180.18 L639.00 177.58 L639.50 175.97 L640.00 175.38 L640.04 175.38 L640.50 175.74 L641.00 176.95 L641.50 179.01 L642.00 181.87 L642.50 185.51 L643.00 189.88 L643.50 194.93 L644.00 200.57 L644.50 206.74 L645.00 213.37 L645.50 220.35 L646.00 227.61 L646.50 235.04 L647.00 242.55 L647.50 250.04 L648.00 257.41 L648.50 264.57 L649.00 271.41 L649.50 277.86 L650.00 283.82 L650.50 289.22 L651.00 293.99 L651.50 298.06 L652.00 301.39 L652.50 303.92 L653.00 305.63 L653.50 306.49 L653.75 306.60 L654.00 306.48 L654.50 305.56 L655.00 303.74 L655.50 301.03 L656.00 297.46 L656.50 293.07 L657.00 287.92 L657.50 282.06 L658.00 275.55 L658.50 268.48 L659.00 260.91 L659.50 252.93 L660.00 244.64 L660.50 236.12 L661.00 227.48 L661.50 218.80 L662.00 210.18 L662.50 201.73 L663.00 193.53 L663.50 185.68 L664.00 178.27 L664.50 171.37 L665.00 165.08 L665.50 159.44 L666.00 154.54 L666.50 150.42 L667.00 147.14 L667.50 144.72 L668.00 143.20 L668.50 142.58 L668.58 142.57 L669.00 142.95 L669.50 144.41 L670.00 146.96 L670.50 150.57 L671.00 155.20 L671.50 160.83 L672.00 167.40 L672.50 174.85 L673.00 183.13 L673.50 192.15 L674.00 201.84 L674.50 212.11 L675.00 222.89 L675.50 234.07 L676.00 245.55 L676.50 257.25 L677.00 269.05 L677.50 280.85 L678.00 292.55 L678.50 304.06 L679.00 315.27 L679.50 326.08 L680.00 336.40 L680.50 346.14 L681.00 355.22 L681.50 363.56 L682.00 371.09 L682.50 377.73 L683.00 383.44 L683.50 388.16 L684.00 391.85 L684.50 394.49 L685.00 396.04 L685.46 396.50 L685.50 396.50 L686.00 395.90 L686.50 394.26 L687.00 391.60 L687.50 387.95 L688.00 383.35 L688.50 377.82 L689.00 371.43 L689.50 364.24 L690.00 356.31 L690.50 347.71 L691.00 338.53 L691.50 328.85 L692.00 318.75 L692.50 308.35 L693.00 297.72 L693.50 286.97 L694.00 276.20 L694.50 265.51 L695.00 255.00 L695.50 244.76 L696.00 234.90 L696.50 225.50 L697.00 216.65 L697.50 208.43 L698.00 200.92 L698.50 194.19 L699.00 188.30 L699.50 183.30 L700.00 179.25 L700.50 176.18 L701.00 174.11 L701.50 173.07 L701.75 172.94 L702.00 173.06 L702.50 173.94 L703.00 175.70 L703.50 178.31 L704.00 181.74 L704.50 185.94 L705.00 190.86 L705.50 196.44 L706.00 202.61 L706.50 209.28 L707.00 216.38 L707.50 223.80 L708.00 231.46 L708.50 239.26 L709.00 247.10 L709.50 254.87 L710.00 262.48 L710.50 269.83 L711.00 276.83 L711.50 283.38 L712.00 289.41 L712.50 294.83 L713.00 299.58 L713.50 303.59 L714.00 306.82 L714.50 309.22 L715.00 310.76 L715.50 311.43 L715.62 311.46 L716.00 311.20 L716.50 310.07 L717.00 308.04 L717.50 305.14 L718.00 301.41 L718.50 296.87 L719.00 291.59 L719.50 285.63 L720.00 279.03 L720.50 271.89 L721.00 264.28 L721.50 256.29 L722.00 247.99 L722.50 239.49 L723.00 230.88 L723.50 222.25 L724.00 213.71 L724.50 205.33 L725.00 197.23 L725.50 189.48 L726.00 182.17 L726.50 175.39 L727.00 169.21 L727.50 163.69 L728.00 158.90 L728.50 154.90 L729.00 151.72 L729.50 149.40 L730.00 147.96 L730.50 147.43 L730.54 147.43 L731.00 147.88 L731.50 149.39 L732.00 151.95 L732.50 155.53 L733.00 160.11 L733.50 165.65 L734.00 172.10 L734.50 179.39 L735.00 187.46 L735.50 196.25 L736.00 205.67 L736.50 215.65 L737.00 226.08 L737.50 236.89 L738.00 247.97 L738.50 259.22 L739.00 270.55 L739.50 281.85 L740.00 293.03 L740.50 303.99 L741.00 314.62 L741.50 324.83 L742.00 334.54 L742.50 343.66 L743.00 352.10 L743.50 359.79 L744.00 366.67 L744.50 372.66 L745.00 377.73 L745.50 381.82 L746.00 384.89 L746.50 386.93 L747.00 387.91 L747.21 388.00 L747.50 387.83 L748.00 386.74 L748.50 384.67 L749.00 381.62 L749.50 377.62 L750.00 372.73 L750.50 366.97 L751.00 360.40 L751.50 353.09 L752.00 345.11 L752.50 336.52 L753.00 327.42 L753.50 317.87 L754.00 307.99 L754.50 297.85 L755.00 287.55 L755.50 277.20 L756.00 266.87 L756.50 256.69 L757.00 246.73 L757.50 237.09 L758.00 227.87 L758.50 219.15 L759.00 211.00 L759.50 203.52 L760.00 196.76 L760.50 190.80 L761.00 185.68 L761.50 181.45 L762.00 178.17 L762.50 175.84 L763.00 174.51 L763.42 174.16 L763.50 174.17 L764.00 174.75 L764.50 176.19 L765.00 178.47 L765.50 181.57 L766.00 185.44 L766.50 190.04 L767.00 195.32 L767.50 201.19 L768.00 207.60 L768.50 214.46 L769.00 221.69 L769.50 229.20 L770.00 236.89 L770.50 244.67 L771.00 252.44 L771.50 260.11 L772.00 267.58 L772.50 274.75 L773.00 281.54 L773.50 287.87 L774.00 293.65 L774.50 298.82 L775.00 303.30 L775.50 307.05 L776.00 310.01 L776.50 312.15 L777.00 313.45 L777.50 313.88 L778.00 313.45 L778.50 312.15 L779.00 310.01 L779.50 307.03 L780.00 303.27 L780.50 298.76 L781.00 293.54 L781.50 287.68 L782.00 281.25 L782.50 274.30 L783.00 266.93 L783.50 259.21 L784.00 251.23 L784.50 243.07 L785.00 234.83 L785.50 226.60 L786.00 218.46 L786.50 210.52 L787.00 202.85 L787.50 195.54 L788.00 188.68 L788.50 182.33 L789.00 176.58 L789.50 171.48 L790.00 167.08 L790.50 163.45 L791.00 160.61 L791.50 158.61 L792.00 157.45 L792.42 157.15 L792.50 157.16 L793.00 157.82 L793.50 159.47 L794.00 162.08 L794.50 165.63 L795.00 170.10 L795.50 175.43 L796.00 181.59 L796.50 188.52 L797.00 196.14 L797.50 204.40 L798.00 213.22 L798.50 222.51 L799.00 232.20 L799.50 242.18 L800.00 252.38 L800.50 262.70 L801.00 273.04 L801.50 283.31 L802.00 293.41 L802.50 303.26 L803.00 312.76 L803.50 321.82 L804.00 330.37 L804.50 338.32 L805.00 345.61 L805.50 352.16 L806.00 357.91 L806.50 362.82 L807.00 366.83 L807.50 369.92 L808.00 372.05 L808.50 373.20 L808.83 373.42 L809.00 373.37 L809.50 372.60 L810.00 370.92 L810.50 368.33 L811.00 364.88 L811.50 360.58 L812.00 355.48 L812.50 349.62 L813.00 343.07 L813.50 335.88 L814.00 328.13 L814.50 319.87 L815.00 311.21 L815.50 302.20 L816.00 292.94 L816.50 283.52 L817.00 274.03 L817.50 264.55 L818.00 255.17 L818.50 245.99 L819.00 237.09 L819.50 228.55 L820.00 220.45 L820.50 212.88 L821.00 205.89 L821.50 199.57 L822.00 193.96 L822.50 189.12 L823.00 185.10 L823.50 181.93 L824.00 179.65 L824.50 178.27 L825.00 177.81 L825.50 178.21 L826.00 179.41 L826.50 181.41 L827.00 184.17 L827.50 187.65 L828.00 191.83 L828.50 196.65 L829.00 202.06 L829.50 207.98 L830.00 214.35 L830.50 221.10 L831.00 228.14 L831.50 235.38 L832.00 242.76 L832.50 250.17 L833.00 257.52 L833.50 264.74 L834.00 271.74 L834.50 278.43 L835.00 284.73 L835.50 290.57 L836.00 295.88 L836.50 300.60 L837.00 304.67 L837.50 308.04 L838.00 310.67 L838.50 312.53 L839.00 313.60 L839.42 313.88 L839.50 313.87 L840.00 313.35 L840.50 312.04 L841.00 309.96 L841.50 307.14 L842.00 303.60 L842.50 299.39 L843.00 294.55 L843.50 289.13 L844.00 283.21 L844.50 276.84 L845.00 270.10 L845.50 263.05 L846.00 255.79 L846.50 248.39 L847.00 240.93 L847.50 233.50 L848.00 226.18 L848.50 219.05 L849.00 212.20 L849.50 205.70 L850.00 199.62 L850.50 194.03 L851.00 188.99 L851.50 184.56 L852.00 180.80 L852.50 177.73 L853.00 175.40 L853.50 173.83 L854.00 173.04 L854.25 172.94 L854.50 173.05 L855.00 173.92 L855.50 175.64 L856.00 178.20 L856.50 181.57 L857.00 185.73 L857.50 190.64 L858.00 196.24 L858.50 202.49 L859.00 209.33 L859.50 216.68 L860.00 224.49 L860.50 232.68 L861.00 241.17 L861.50 249.89 L862.00 258.74 L862.50 267.65 L863.00 276.53 L863.50 285.30 L864.00 293.87 L864.50 302.17 L865.00 310.11 L865.50 317.63 L866.00 324.65 L866.50 331.10 L867.00 336.92 L867.50 342.07 L868.00 346.48 L868.50 350.12 L869.00 352.96 L869.50 354.96 L870.00 356.11 L870.42 356.41 L870.50 356.40 L871.00 355.85 L871.50 354.49 L872.00 352.33 L872.50 349.39 L873.00 345.69 L873.50 341.28 L874.00 336.19 L874.50 330.47 L875.00 324.17 L875.50 317.36 L876.00 310.10 L876.50 302.46 L877.00 294.50 L877.50 286.31 L878.00 277.96 L878.50 269.54 L879.00 261.11 L879.50 252.76 L880.00 244.57 L880.50 236.62 L881.00 228.97 L881.50 221.71 L882.00 214.90 L882.50 208.61 L883.00 202.89 L883.50 197.80 L884.00 193.38 L884.50 189.69 L885.00 186.74 L885.50 184.58 L886.00 183.22 L886.50 182.68 L886.58 182.67 L887.00 182.92 L887.50 183.88 L888.00 185.56 L888.50 187.93 L889.00 190.96 L889.50 194.63 L890.00 198.89 L890.50 203.69 L891.00 208.98 L891.50 214.70 L892.00 220.78 L892.50 227.16 L893.00 233.76 L893.50 240.52 L894.00 247.34 L894.50 254.17 L895.00 260.91 L895.50 267.50 L896.00 273.86 L896.50 279.91 L897.00 285.60 L897.50 290.85 L898.00 295.61 L898.50 299.82 L899.00 303.43 L899.50 306.42 L900.00 308.73 L900.50 310.35 L901.00 311.25 L901.38 311.46 L901.50 311.43 L902.00 310.93 L902.50 309.75 L903.00 307.91 L903.50 305.43 L904.00 302.35 L904.50 298.69 L905.00 294.49 L905.50 289.81 L906.00 284.70 L906.50 279.21 L907.00 273.40 L907.50 267.35 L908.00 261.11 L908.50 254.77 L909.00 248.39 L909.50 242.04 L910.00 235.79 L910.50 229.72 L911.00 223.89 L911.50 218.37 L912.00 213.22 L912.50 208.50 L913.00 204.27 L913.50 200.56 L914.00 197.43 L914.50 194.90 L915.00 193.01 L915.50 191.77 L916.00 191.21 L916.17 191.17 L916.50 191.33 L917.00 192.16 L917.50 193.70 L918.00 195.93 L918.50 198.82 L919.00 202.35 L919.50 206.49 L920.00 211.19 L920.50 216.41 L921.00 222.09 L921.50 228.18 L922.00 234.63 L922.50 241.35 L923.00 248.30 L923.50 255.39 L924.00 262.56 L924.50 269.75 L925.00 276.87 L925.50 283.86 L926.00 290.64 L926.50 297.16 L927.00 303.35 L927.50 309.14 L928.00 314.47 L928.50 319.31 L929.00 323.59 L929.50 327.28 L930.00 330.34 L930.50 332.73 L931.00 334.45 L931.50 335.45 L931.96 335.75 L932.00 335.75 L932.50 335.35 L933.00 334.26 L933.50 332.50 L934.00 330.07 L934.50 327.01 L935.00 323.35 L935.50 319.10 L936.00 314.33 L936.50 309.07 L937.00 303.36 L937.50 297.27 L938.00 290.86 L938.50 284.17 L939.00 277.28 L939.50 270.25 L940.00 263.14 L940.50 256.02 L941.00 248.96 L941.50 242.03 L942.00 235.29 L942.50 228.80 L943.00 222.62 L943.50 216.82 L944.00 211.44 L944.50 206.54 L945.00 202.16 L945.50 198.34 L946.00 195.13 L946.50 192.54 L947.00 190.61 L947.50 189.35 L948.00 188.78 L948.17 188.74 L948.50 188.88 L949.00 189.61 L949.50 190.96 L950.00 192.91 L950.50 195.45 L951.00 198.54 L951.50 202.16 L952.00 206.27 L952.50 210.82 L953.00 215.76 L953.50 221.04 L954.00 226.61 L954.50 232.42 L955.00 238.38 L955.50 244.46 L956.00 250.57 L956.50 256.66 L957.00 262.66 L957.50 268.50 L958.00 274.14 L958.50 279.50 L959.00 284.53 L959.50 289.19 L960.00 293.40 L960.50 297.15 L961.00 300.38 L961.50 303.06 L962.00 305.16 L962.50 306.66 L963.00 307.55 L963.46 307.81 L963.50 307.81 L964.00 307.48 L964.50 306.61 L965.00 305.20 L965.50 303.26 L966.00 300.81 L966.50 297.89 L967.00 294.53 L967.50 290.77 L968.00 286.64 L968.50 282.19 L969.00 277.48 L969.50 272.56 L970.00 267.48 L970.50 262.30 L971.00 257.08 L971.50 251.87 L972.00 246.75 L972.50 241.75 L973.00 236.94 L973.50 232.38 L974.00 228.12 L974.50 224.19 L975.00 220.66 L975.50 217.55 L976.00 214.91 L976.50 212.75 L977.00 211.12 L977.50 210.02 L978.00 209.46 L978.25 209.40 L978.50 209.47 L979.00 210.02 L979.50 211.14 L980.00 212.79 L980.50 214.97 L981.00 217.65 L981.50 220.80 L982.00 224.40 L982.50 228.39 L983.00 232.74 L983.50 237.41 L984.00 242.34 L984.50 247.48 L985.00 252.77 L985.50 258.17 L986.00 263.61 L986.50 269.03 L987.00 274.39 L987.50 279.61 L988.00 284.65 L988.50 289.46 L989.00 293.97 L989.50 298.15 L990.00 301.95 L990.50 305.32 L991.00 308.24 L991.50 310.68 L992.00 312.60 L992.50 313.98 L993.00 314.82 L993.50 315.10 L994.00 314.82 L994.50 313.99 L995.00 312.60 L995.50 310.68 L996.00 308.25 L996.50 305.31 L997.00 301.91 L997.50 298.08 L998.00 293.84 L998.50 289.24 L999.00 284.33 L999.50 279.14 L1000.00 273.73 L1000.50 268.14 L1001.00 262.43 L1001.50 256.65 L1002.00 250.85 L1002.50 245.10 L1003.00 239.43 L1003.50 233.91 L1004.00 228.58 L1004.50 223.50 L1005.00 218.71 L1005.50 214.26 L1006.00 210.19 L1006.50 206.53 L1007.00 203.32 L1007.50 200.59 L1008.00 198.37 L1008.50 196.67 L1009.00 195.51 L1009.50 194.91 L1009.79 194.82 L1010.00 194.86 L1010.50 195.34 L1011.00 196.34 L1011.50 197.85 L1012.00 199.85 L1012.50 202.33 L1013.00 205.26 L1013.50 208.61 L1014.00 212.36 L1014.50 216.46 L1015.00 220.87 L1015.50 225.57 L1016.00 230.49 L1016.50 235.59 L1017.00 240.83 L1017.50 246.15 L1018.00 251.50 L1018.50 256.83 L1019.00 262.09 L1019.50 267.23 L1020.00 272.20 L1020.50 276.96 L1021.00 281.45 L1021.50 285.63 L1022.00 289.47 L1022.50 292.92 L1023.00 295.96 L1023.50 298.56 L1024.00 300.68 L1024.50 302.31 L1025.00 303.44 L1025.50 304.05 L1025.83 304.16 L1026.00 304.14 L1026.50 303.78 L1027.00 303.00 L1027.50 301.81 L1028.00 300.21 L1028.50 298.23 L1029.00 295.88 L1029.50 293.20 L1030.00 290.20 L1030.50 286.94 L1031.00 283.43 L1031.50 279.73 L1032.00 275.87 L1032.50 271.89 L1033.00 267.83 L1033.50 263.75 L1034.00 259.69 L1034.50 255.69 L1035.00 251.79 L1035.50 248.04 L1036.00 244.49 L1036.50 241.16 L1037.00 238.10 L1037.50 235.33 L1038.00 232.90 L1038.50 230.82 L1039.00 229.13 L1039.50 227.83 L1040.00 226.94 L1040.50 226.48 L1040.79 226.41 L1041.00 226.44 L1041.50 226.81 L1042.00 227.59 L1042.50 228.76 L1043.00 230.32 L1043.50 232.23 L1044.00 234.48 L1044.50 237.05 L1045.00 239.90 L1045.50 243.00 L1046.00 246.31 L1046.50 249.80 L1047.00 253.41 L1047.50 257.12 L1048.00 260.88 L1048.50 264.63 L1049.00 268.34 L1049.50 271.97 L1050.00 275.47 L1050.50 278.80 L1051.00 281.91 L1051.50 284.79 L1052.00 287.38 L1052.50 289.66 L1053.00 291.60 L1053.50 293.19 L1054.00 294.39 L1054.50 295.20 L1055.00 295.61 L1055.25 295.66 L1055.50 295.61 L1056.00 295.17 L1056.50 294.31 L1057.00 293.03 L1057.50 291.34 L1058.00 289.25 L1058.50 286.79 L1059.00 283.97 L1059.50 280.83 L1060.00 277.40 L1060.50 273.69 L1061.00 269.75 L1061.50 265.62 L1062.00 261.33 L1062.50 256.92 L1063.00 252.43 L1063.50 247.90 L1064.00 243.37 L1064.50 238.89 L1065.00 234.50 L1065.50 230.23 L1066.00 226.13 L1066.50 222.22 L1067.00 218.56 L1067.50 215.17 L1068.00 212.08 L1068.50 209.33 L1069.00 206.93 L1069.50 204.91 L1070.00 203.28 L1070.50 202.07 L1071.00 201.28 L1071.50 200.91 L1071.67 200.89 L1072.00 200.99 L1072.50 201.49 L1073.00 202.42 L1073.50 203.78 L1074.00 205.54 L1074.50 207.69 L1075.00 210.23 L1075.50 213.11 L1076.00 216.32 L1076.50 219.84 L1077.00 223.63 L1077.50 227.66 L1078.00 231.89 L1078.50 236.30 L1079.00 240.84 L1079.50 245.47 L1080.00 250.16 L1080.50 254.86 L1081.00 259.53 L1081.50 264.15 L1082.00 268.66 L1082.50 273.02 L1083.00 277.21 L1083.50 281.18 L1084.00 284.90 L1084.50 288.35 L1085.00 291.48 L1085.50 294.28 L1086.00 296.72 L1086.50 298.78 L1087.00 300.44 L1087.50 301.69 L1088.00 302.52 L1088.50 302.91 L1088.71 302.95 L1089.00 302.89 L1089.50 302.54 L1090.00 301.86 L1090.50 300.86 L1091.00 299.56 L1091.50 297.96 L1092.00 296.08 L1092.50 293.95 L1093.00 291.58 L1093.50 288.99 L1094.00 286.22 L1094.50 283.29 L1095.00 280.24 L1095.50 277.08 L1096.00 273.87 L1096.50 270.62 L1097.00 267.37 L1097.50 264.16 L1098.00 261.01 L1098.50 257.96 L1099.00 255.05 L1099.50 252.29 L1100.00 249.72 L1100.50 247.37 L1101.00 245.26 L1101.50 243.40 L1102.00 241.83 L1102.50 240.55 L1103.00 239.58 L1103.50 238.92 L1104.00 238.60 L1104.25 238.56 L1104.50 238.59 L1105.00 238.88 L1105.50 239.46 L1106.00 240.32 L1106.50 241.44 L1107.00 242.82 L1107.50 244.42 L1108.00 246.24 L1108.50 248.24 L1109.00 250.39 L1109.50 252.67 L1110.00 255.04 L1110.50 257.47 L1111.00 259.93 L1111.50 262.37 L1112.00 264.77 L1112.50 267.09 L1113.00 269.30 L1113.50 271.37 L1114.00 273.26 L1114.50 274.96 L1115.00 276.43 L1115.50 277.66 L1116.00 278.63 L1116.50 279.33 L1117.00 279.74 L1117.46 279.86 L1117.50 279.86 L1118.00 279.67 L1118.50 279.13 L1119.00 278.27 L1119.50 277.09 L1120.00 275.59 L1120.50 273.79 L1121.00 271.71 L1121.50 269.37 L1122.00 266.79 L1122.50 263.99 L1123.00 260.99 L1123.50 257.84 L1124.00 254.54 L1124.50 251.14 L1125.00 247.66 L1125.50 244.13 L1126.00 240.60 L1126.50 237.08 L1127.00 233.62 L1127.50 230.24 L1128.00 226.98 L1128.50 223.85 L1129.00 220.91 L1129.50 218.16 L1130.00 215.63 L1130.50 213.36 L1131.00 211.35 L1131.50 209.62 L1132.00 208.20 L1132.50 207.10 L1133.00 206.32 L1133.50 205.87 L1133.92 205.75 L1134.00 205.76 L1134.50 206.01 L1135.00 206.64 L1135.50 207.65 L1136.00 209.03 L1136.50 210.77 L1137.00 212.84 L1137.50 215.25 L1138.00 217.97 L1138.50 220.97 L1139.00 224.25 L1139.50 227.76 L1140.00 231.49 L1140.50 235.41 L1141.00 239.48 L1141.50 243.68 L1142.00 247.98 L1142.50 252.33 L1143.00 256.72 L1143.50 261.10 L1144.00 265.45 L1144.50 269.72 L1145.00 273.89 L1145.50 277.93 L1146.00 281.80 L1146.50 285.48 L1147.00 288.94 L1147.50 292.15 L1148.00 295.08 L1148.50 297.73 L1149.00 300.05 L1149.50 302.05 L1150.00 303.69 L1150.50 304.98 L1151.00 305.89 L1151.50 306.43 L1151.96 306.59 L1152.00 306.59 L1152.50 306.42 L1153.00 305.95 L1153.50 305.19 L1154.00 304.14 L1154.50 302.81 L1155.00 301.23 L1155.50 299.39 L1156.00 297.31 L1156.50 295.03 L1157.00 292.54 L1157.50 289.89 L1158.00 287.08 L1158.50 284.16 L1159.00 281.13 L1159.50 278.03 L1160.00 274.89 L1160.50 271.74 L1161.00 268.59 L1161.50 265.49 L1162.00 262.46 L1162.50 259.52 L1163.00 256.70 L1163.50 254.04 L1164.00 251.54 L1164.50 249.23 L1165.00 247.14 L1165.50 245.28 L1166.00 243.67 L1166.50 242.33 L1167.00 241.25 L1167.50 240.47 L1168.00 239.97 L1168.50 239.77 L1168.58 239.77 L1169.00 239.85 L1169.50 240.17 L1170.00 240.71 L1170.50 241.48 L1171.00 242.46 L1171.50 243.62 L1172.00 244.96 L1172.50 246.45 L1173.00 248.06 L1173.50 249.77 L1174.00 251.55 L1174.50 253.36 L1175.00 255.18 L1175.50 256.98 L1176.00 258.72 L1176.50 260.38 L1177.00 261.92 L1177.50 263.32 L1178.00 264.56 L1178.50 265.62 L1179.00 266.48 L1179.50 267.12 L1180.00 267.53 L1180.50 267.71 L1180.62 267.72 L1181.00 267.63 L1181.50 267.28 L1182.00 266.64 L1182.50 265.72 L1183.00 264.54 L1183.50 263.10 L1184.00 261.41 L1184.50 259.51 L1185.00 257.39 L1185.50 255.09 L1186.00 252.62 L1186.50 250.01 L1187.00 247.29 L1187.50 244.47 L1188.00 241.59 L1188.50 238.68 L1189.00 235.76 L1189.50 232.86 L1190.00 230.01 L1190.50 227.23 L1191.00 224.56 L1191.50 222.02 L1192.00 219.63 L1192.50 217.42 L1193.00 215.41 L1193.50 213.61 L1194.00 212.05 L1194.50 210.73 L1195.00 209.68 L1195.50 208.90 L1196.00 208.40 L1196.50 208.19 L1196.62 208.18 L1197.00 208.29 L1197.50 208.79 L1198.00 209.67 L1198.50 210.95 L1199.00 212.60 L1199.50 214.61 L1200.00 216.97 L1200.50 219.67 L1201.00 222.68 L1201.50 225.97 L1202.00 229.54 L1202.50 233.34 L1203.00 237.36 L1203.50 241.56 L1204.00 245.91 L1204.50 250.38 L1205.00 254.94 L1205.50 259.55 L1206.00 264.18 L1206.50 268.79 L1207.00 273.36 L1207.50 277.85 L1208.00 282.22 L1208.50 286.45 L1209.00 290.50 L1209.50 294.34 L1210.00 297.95 L1210.50 301.29 L1211.00 304.35 L1211.50 307.10 L1212.00 309.52 L1212.50 311.59 L1213.00 313.30 L1213.50 314.64 L1214.00 315.59 L1214.50 316.15 L1214.96 316.31 L1215.00 316.31 L1215.50 316.11 L1216.00 315.56 L1216.50 314.67 L1217.00 313.44 L1217.50 311.88 L1218.00 310.02 L1218.50 307.85 L1219.00 305.41 L1219.50 302.71 L1220.00 299.78 L1220.50 296.63 L1221.00 293.30 L1221.50 289.81 L1222.00 286.19 L1222.50 282.48 L1223.00 278.69 L1223.50 274.88 L1224.00 271.05 L1224.50 267.26 L1225.00 263.52 L1225.50 259.88 L1226.00 256.35 L1226.50 252.98 L1227.00 249.78 L1227.50 246.79 L1228.00 244.03 L1228.50 241.53 L1229.00 239.29 L1229.50 237.35 L1230.00 235.72 L1230.50 234.41 L1231.00 233.43 L1231.50 232.79 L1232.00 232.50 L1232.17 232.48 L1232.50 232.54 L1233.00 232.85 L1233.50 233.42 L1234.00 234.24 L1234.50 235.30 L1235.00 236.58 L1235.50 238.05 L1236.00 239.70 L1236.50 241.49 L1237.00 243.39 L1237.50 245.38 L1238.00 247.42 L1238.50 249.47 L1239.00 251.50 L1239.50 253.48 L1240.00 255.37 L1240.50 257.14 L1241.00 258.76 L1241.50 260.20 L1242.00 261.44 L1242.50 262.46 L1243.00 263.24 L1243.50 263.77 L1244.00 264.04 L1244.25 264.07 L1244.50 264.03 L1245.00 263.71 L1245.50 263.07 L1246.00 262.13 L1246.50 260.88 L1247.00 259.34 L1247.50 257.54 L1248.00 255.49 L1248.50 253.21 L1249.00 250.72 L1249.50 248.06 L1250.00 245.25 L1250.50 242.32 L1251.00 239.30 L1251.50 236.23 L1252.00 233.14 L1252.50 230.07 L1253.00 227.03 L1253.50 224.08 L1254.00 221.24 L1254.50 218.54 L1255.00 216.00 L1255.50 213.67 L1256.00 211.55 L1256.50 209.69 L1257.00 208.08 L1257.50 206.76 L1258.00 205.74 L1258.50 205.03 L1259.00 204.63 L1259.38 204.53 L1259.50 204.55 L1260.00 204.90 L1260.50 205.73 L1261.00 207.01 L1261.50 208.75 L1262.00 210.93 L1262.50 213.53 L1263.00 216.53 L1263.50 219.91 L1264.00 223.65 L1264.50 227.71 L1265.00 232.07 L1265.50 236.70 L1266.00 241.54 L1266.50 246.58 L1267.00 251.77 L1267.50 257.07 L1268.00 262.45 L1268.50 267.85 L1269.00 273.25 L1269.50 278.59 L1270.00 283.84 L1270.50 288.96 L1271.00 293.91 L1271.50 298.65 L1272.00 303.14 L1272.50 307.36 L1273.00 311.26 L1273.50 314.83 L1274.00 318.02 L1274.50 320.83 L1275.00 323.22 L1275.50 325.18 L1276.00 326.69 L1276.50 327.74 L1277.00 328.33 L1277.38 328.47 L1277.50 328.45 L1278.00 328.11 L1278.50 327.32 L1279.00 326.10 L1279.50 324.43 L1280.00 322.36 L1280.50 319.88 L1281.00 317.02 L1281.50 313.81 L1282.00 310.27 L1282.50 306.43 L1283.00 302.32 L1283.50 297.99 L1284.00 293.46 L1284.50 288.78 L1285.00 283.97 L1285.50 279.10 L1286.00 274.19 L1286.50 269.28 L1287.00 264.42 L1287.50 259.66 L1288.00 255.02 L1288.50 250.55 L1289.00 246.29 L1289.50 242.27 L1290.00 238.53 L1290.50 235.09 L1291.00 232.00 L1291.50 229.26 L1292.00 226.92 L1292.50 224.97 L1293.00 223.46 L1293.50 222.37 L1294.00 221.73 L1294.46 221.55 L1294.50 221.55 L1295.00 221.75 L1295.50 222.32 L1296.00 223.22 L1296.50 224.46 L1297.00 226.01 L1297.50 227.85 L1298.00 229.94 L1298.50 232.27 L1299.00 234.78 L1299.50 237.45 L1300.00 240.23 L1300.50 243.08 L1301.00 245.95 L1301.50 248.80 L1302.00 251.58 L1302.50 254.26 L1303.00 256.79 L1303.50 259.13 L1304.00 261.25 L1304.50 263.11 L1305.00 264.68 L1305.50 265.95 L1306.00 266.88 L1306.50 267.47 L1307.00 267.71 L1307.08 267.71 L1307.50 267.57 L1308.00 267.04 L1308.50 266.11 L1309.00 264.79 L1309.50 263.10 L1310.00 261.06 L1310.50 258.69 L1311.00 256.03 L1311.50 253.09 L1312.00 249.92 L1312.50 246.54 L1313.00 243.01 L1313.50 239.35 L1314.00 235.62 L1314.50 231.85 L1315.00 228.09 L1315.50 224.38 L1316.00 220.76 L1316.50 217.27 L1317.00 213.96 L1317.50 210.86 L1318.00 208.01 L1318.50 205.44 L1319.00 203.18 L1319.50 201.26 L1320.00 199.69 L1320.50 198.50 L1321.00 197.70 L1321.50 197.30 L1321.75 197.25 L1322.00 197.32 L1322.50 197.90 L1323.00 199.05 L1323.50 200.77 L1324.00 203.04 L1324.50 205.84 L1325.00 209.15 L1325.50 212.94 L1326.00 217.19 L1326.50 221.86 L1327.00 226.91 L1327.50 232.31 L1328.00 238.00 L1328.50 243.94 L1329.00 250.09 L1329.50 256.39 L1330.00 262.80 L1330.50 269.27 L1331.00 275.73 L1331.50 282.15 L1332.00 288.47 L1332.50 294.63 L1333.00 300.59 L1333.50 306.30 L1334.00 311.72 L1334.50 316.80 L1335.00 321.51 L1335.50 325.79 L1336.00 329.63 L1336.50 332.98 L1337.00 335.83 L1337.50 338.14 L1338.00 339.90 L1338.50 341.10 L1339.00 341.73 L1339.29 341.83 L1339.50 341.78 L1340.00 341.26 L1340.50 340.17 L1341.00 338.52 L1341.50 336.34 L1342.00 333.63 L1342.50 330.42 L1343.00 326.73 L1343.50 322.61 L1344.00 318.09 L1344.50 313.20 L1345.00 307.99 L1345.50 302.50 L1346.00 296.79 L1346.50 290.89 L1347.00 284.87 L1347.50 278.77 L1348.00 272.65 L1348.50 266.56 L1349.00 260.56 L1349.50 254.69 L1350.00 249.01 L1350.50 243.56 L1351.00 238.40 L1351.50 233.57 L1352.00 229.11 L1352.50 225.06 L1353.00 221.46 L1353.50 218.33 L1354.00 215.70 L1354.50 213.60 L1355.00 212.05 L1355.50 211.06 L1356.00 210.63 L1356.12 210.61 L1356.50 210.74 L1357.00 211.34 L1357.50 212.39 L1358.00 213.90 L1358.50 215.83 L1359.00 218.17 L1359.50 220.87 L1360.00 223.89 L1360.50 227.20 L1361.00 230.75 L1361.50 234.47 L1362.00 238.33 L1362.50 242.26 L1363.00 246.21 L1363.50 250.12 L1364.00 253.93 L1364.50 257.58 L1365.00 261.04 L1365.50 264.23 L1366.00 267.13 L1366.50 269.68 L1367.00 271.85 L1367.50 273.61 L1368.00 274.93 L1368.50 275.80 L1369.00 276.19 L1369.17 276.22 L1369.50 276.10 L1370.00 275.49 L1370.50 274.37 L1371.00 272.74 L1371.50 270.63 L1372.00 268.06 L1372.50 265.06 L1373.00 261.67 L1373.50 257.92 L1374.00 253.86 L1374.50 249.54 L1375.00 245.00 L1375.50 240.31 L1376.00 235.51 L1376.50 230.66 L1377.00 225.82 L1377.50 221.04 L1378.00 216.38 L1378.50 211.89 L1379.00 207.63 L1379.50 203.64 L1380.00 199.98 L1380.50 196.68 L1381.00 193.79 L1381.50 191.33 L1382.00 189.34 L1382.50 187.83 L1383.00 186.84 L1383.50 186.36 L1383.71 186.31 L1384.00 186.43 L1384.50 187.18 L1385.00 188.63 L1385.50 190.75 L1386.00 193.54 L1386.50 196.96 L1387.00 201.00 L1387.50 205.61 L1388.00 210.75 L1388.50 216.39 L1389.00 222.48 L1389.50 228.97 L1390.00 235.79 L1390.50 242.91 L1391.00 250.25 L1391.50 257.76 L1392.00 265.36 L1392.50 273.01 L1393.00 280.64 L1393.50 288.18 L1394.00 295.57 L1394.50 302.74 L1395.00 309.65 L1395.50 316.22 L1396.00 322.42 L1396.50 328.17 L1397.00 333.45 L1397.50 338.19 L1398.00 342.37 L1398.50 345.95 L1399.00 348.90 L1399.50 351.19 L1400.00 352.81 L1400.50 353.74 L1400.92 353.98 L1401.00 353.97 L1401.50 353.52 L1402.00 352.38 L1402.50 350.58 L1403.00 348.12 L1403.50 345.04 L1404.00 341.35 L1404.50 337.09 L1405.00 332.30 L1405.50 327.02 L1406.00 321.30 L1406.50 315.18 L1407.00 308.73 L1407.50 302.00 L1408.00 295.05 L1408.50 287.95 L1409.00 280.75 L1409.50 273.52 L1410.00 266.32 L1410.50 259.23 L1411.00 252.30 L1411.50 245.59 L1412.00 239.16 L1412.50 233.08 L1413.00 227.39 L1413.50 222.15 L1414.00 217.40 L1414.50 213.19 L1415.00 209.55 L1415.50 206.52 L1416.00 204.12 L1416.50 202.37 L1417.00 201.29 L1417.50 200.89 L1417.54 200.89 L1418.00 201.14 L1418.50 201.96 L1419.00 203.36 L1419.50 205.30 L1420.00 207.77 L1420.50 210.73 L1421.00 214.13 L1421.50 217.94 L1422.00 222.09 L1422.50 226.53 L1423.00 231.20 L1423.50 236.03 L1424.00 240.95 L1424.50 245.90 L1425.00 250.81 L1425.50 255.60 L1426.00 260.22 L1426.50 264.59 L1427.00 268.67 L1427.50 272.37 L1428.00 275.67 L1428.50 278.51 L1429.00 280.85 L1429.50 282.66 L1430.00 283.91 L1430.50 284.59 L1430.83 284.72 L1431.00 284.69 L1431.50 284.17 L1432.00 283.04 L1432.50 281.30 L1433.00 278.97 L1433.50 276.09 L1434.00 272.69 L1434.50 268.80 L1435.00 264.48 L1435.50 259.76 L1436.00 254.71 L1436.50 249.38 L1437.00 243.83 L1437.50 238.13 L1438.00 232.35 L1438.50 226.55 L1439.00 220.79 L1439.50 215.15 L1440.00 209.69 L1440.50 204.47 L1441.00 199.55 L1441.50 194.99 L1442.00 190.84 L1442.50 187.14 L1443.00 183.96 L1443.50 181.30 L1444.00 179.22 L1444.50 177.73 L1445.00 176.85 L1445.46 176.59 L1445.50 176.59 L1446.00 177.06 L1446.50 178.33 L1447.00 180.38 L1447.50 183.20 L1448.00 186.77 L1448.50 191.05 L1449.00 196.01 L1449.50 201.61 L1450.00 207.80 L1450.50 214.51 L1451.00 221.71 L1451.50 229.32 L1452.00 237.28 L1452.50 245.52 L1453.00 253.98 L1453.50 262.57 L1454.00 271.23 L1454.50 279.88 L1455.00 288.44 L1455.50 296.85 L1456.00 305.03 L1456.50 312.91 L1457.00 320.42 L1457.50 327.50 L1458.00 334.09 L1458.50 340.14 L1459.00 345.58 L1459.50 350.37 L1460.00 354.48 L1460.50 357.86 L1461.00 360.50 L1461.50 362.35 L1462.00 363.42 L1462.42 363.70 L1462.50 363.69 L1463.00 363.17 L1463.50 361.88 L1464.00 359.83 L1464.50 357.03 L1465.00 353.52 L1465.50 349.32 L1466.00 344.48 L1466.50 339.03 L1467.00 333.03 L1467.50 326.53 L1468.00 319.60 L1468.50 312.29 L1469.00 304.67 L1469.50 296.82 L1470.00 288.80 L1470.50 280.68 L1471.00 272.55 L1471.50 264.48 L1472.00 256.53 L1472.50 248.78 L1473.00 241.31 L1473.50 234.18 L1474.00 227.46 L1474.50 221.20 L1475.00 215.48 L1475.50 210.32 L1476.00 205.80 L1476.50 201.94 L1477.00 198.78 L1477.50 196.35 L1478.00 194.68 L1478.50 193.77 L1478.83 193.60 L1479.00 193.64 L1479.50 194.20 L1480.00 195.42 L1480.50 197.30 L1481.00 199.80 L1481.50 202.89 L1482.00 206.52 L1482.50 210.66 L1483.00 215.24 L1483.50 220.20 L1484.00 225.47 L1484.50 230.99 L1485.00 236.67 L1485.50 242.45 L1486.00 248.24 L1486.50 253.96 L1487.00 259.54 L1487.50 264.90 L1488.00 269.98 L1488.50 274.69 L1489.00 278.98 L1489.50 282.79 L1490.00 286.06 L1490.50 288.76 L1491.00 290.85 L1491.50 292.30 L1492.00 293.08 L1492.33 293.23 L1492.50 293.19 L1493.00 292.60 L1493.50 291.30 L1494.00 289.31 L1494.50 286.65 L1495.00 283.35 L1495.50 279.45 L1496.00 275.00 L1496.50 270.04 L1497.00 264.64 L1497.50 258.84 L1498.00 252.73 L1498.50 246.36 L1499.00 239.81 L1499.50 233.16 L1500.00 226.48 L1500.50 219.85 L1501.00 213.34 L1501.50 207.03 L1502.00 200.99 L1502.50 195.29 L1503.00 189.99 L1503.50 185.15 L1504.00 180.83 L1504.50 177.08 L1505.00 173.94 L1505.50 171.45 L1506.00 169.63 L1506.50 168.50 L1507.00 168.09 L1507.04 168.09 L1507.50 168.46 L1508.00 169.73 L1508.50 171.88 L1509.00 174.89 L1509.50 178.74 L1510.00 183.40 L1510.50 188.81 L1511.00 194.94 L1511.50 201.74 L1512.00 209.13 L1512.50 217.06 L1513.00 225.45 L1513.50 234.24 L1514.00 243.34 L1514.50 252.68 L1515.00 262.18 L1515.50 271.74 L1516.00 281.29 L1516.50 290.74 L1517.00 300.01 L1517.50 309.02 L1518.00 317.68 L1518.50 325.93 L1519.00 333.69 L1519.50 340.89 L1520.00 347.47 L1520.50 353.36 L1521.00 358.53 L1521.50 362.92 L1522.00 366.50 L1522.50 369.22 L1523.00 371.08 L1523.50 372.05 L1523.79 372.20 L1524.00 372.13 L1524.50 371.33 L1525.00 369.68 L1525.50 367.18 L1526.00 363.86 L1526.50 359.75 L1527.00 354.89 L1527.50 349.32 L1528.00 343.10 L1528.50 336.28 L1529.00 328.93 L1529.50 321.12 L1530.00 312.92 L1530.50 304.40 L1531.00 295.64 L1531.50 286.74 L1532.00 277.76 L1532.50 268.80 L1533.00 259.93 L1533.50 251.25 L1534.00 242.83 L1534.50 234.74 L1535.00 227.08 L1535.50 219.90 L1536.00 213.27 L1536.50 207.26 L1537.00 201.92 L1537.50 197.31 L1538.00 193.46 L1538.50 190.41 L1539.00 188.19 L1539.50 186.82 L1540.00 186.31 L1540.04 186.31 L1540.50 186.63 L1541.00 187.69 L1541.50 189.48 L1542.00 191.99 L1542.50 195.18 L1543.00 199.00 L1543.50 203.41 L1544.00 208.35 L1544.50 213.75 L1545.00 219.55 L1545.50 225.67 L1546.00 232.02 L1546.50 238.54 L1547.00 245.12 L1547.50 251.69 L1548.00 258.16 L1548.50 264.45 L1549.00 270.47 L1549.50 276.14 L1550.00 281.40 L1550.50 286.17 L1551.00 290.39 L1551.50 294.00 L1552.00 296.97 L1552.50 299.24 L1553.00 300.79 L1553.50 301.61 L1553.79 301.73 L1554.00 301.67 L1554.50 300.94 L1555.00 299.43 L1555.50 297.16 L1556.00 294.15 L1556.50 290.43 L1557.00 286.05 L1557.50 281.05 L1558.00 275.50 L1558.50 269.45 L1559.00 262.98 L1559.50 256.15 L1560.00 249.05 L1560.50 241.76 L1561.00 234.35 L1561.50 226.92 L1562.00 219.54 L1562.50 212.30 L1563.00 205.28 L1563.50 198.56 L1564.00 192.23 L1564.50 186.34 L1565.00 180.96 L1565.50 176.17 L1566.00 172.00 L1566.50 168.51 L1567.00 165.74 L1567.50 163.72 L1568.00 162.47 L1568.50 162.01 L1568.54 162.01 L1569.00 162.41 L1569.50 163.77 L1570.00 166.06 L1570.50 169.28 L1571.00 173.40 L1571.50 178.37 L1572.00 184.15 L1572.50 190.69 L1573.00 197.93 L1573.50 205.81 L1574.00 214.26 L1574.50 223.19 L1575.00 232.54 L1575.50 242.21 L1576.00 252.12 L1576.50 262.18 L1577.00 272.31 L1577.50 282.40 L1578.00 292.37 L1578.50 302.13 L1579.00 311.59 L1579.50 320.68 L1580.00 329.29 L1580.50 337.37 L1581.00 344.83 L1581.50 351.61 L1582.00 357.65 L1582.50 362.90 L1583.00 367.30 L1583.50 370.82 L1584.00 373.43 L1584.50 375.10 L1585.00 375.82 L1585.12 375.85 L1585.50 375.59 L1586.00 374.44 L1586.50 372.38 L1587.00 369.44 L1587.50 365.63 L1588.00 361.00 L1588.50 355.58 L1589.00 349.44 L1589.50 342.63 L1590.00 335.21 L1590.50 327.25 L1591.00 318.83 L1591.50 310.03 L1592.00 300.94 L1592.50 291.63 L1593.00 282.20 L1593.50 272.74 L1594.00 263.33 L1594.50 254.06 L1595.00 245.04 L1595.50 236.32 L1596.00 228.01 L1596.50 220.19 L1597.00 212.91 L1597.50 206.26 L1598.00 200.29 L1598.50 195.07 L1599.00 190.64 L1599.50 187.05 L1600.00 184.32 L1600.50 182.49 L1601.00 181.57 L1601.25 181.45 L1601.50 181.55 L1602.00 182.36 L1602.50 183.96 L1603.00 186.33 L1603.50 189.46 L1604.00 193.28 L1604.50 197.77 L1605.00 202.85 L1605.50 208.47 L1606.00 214.56 L1606.50 221.03 L1607.00 227.82 L1607.50 234.82 L1608.00 241.95 L1608.50 249.12 L1609.00 256.25 L1609.50 263.23 L1610.00 269.99 L1610.50 276.44 L1611.00 282.49 L1611.50 288.07 L1612.00 293.10 L1612.50 297.54 L1613.00 301.31 L1613.50 304.37 L1614.00 306.68 L1614.50 308.22 L1615.00 308.95 L1615.21 309.02 L1615.50 308.88 L1616.00 307.97 L1616.50 306.23 L1617.00 303.68 L1617.50 300.35 L1618.00 296.27 L1618.50 291.50 L1619.00 286.08 L1619.50 280.07 L1620.00 273.56 L1620.50 266.60 L1621.00 259.27 L1621.50 251.67 L1622.00 243.86 L1622.50 235.96 L1623.00 228.03 L1623.50 220.17 L1624.00 212.47 L1624.50 205.02 L1625.00 197.90 L1625.50 191.19 L1626.00 184.96 L1626.50 179.29 L1627.00 174.24 L1627.50 169.87 L1628.00 166.22 L1628.50 163.34 L1629.00 161.26 L1629.50 160.00 L1630.00 159.58 L1630.50 160.07 L1631.00 161.54 L1631.50 163.98 L1632.00 167.36 L1632.50 171.65 L1633.00 176.82 L1633.50 182.81 L1634.00 189.57 L1634.50 197.05 L1635.00 205.16 L1635.50 213.84 L1636.00 223.01 L1636.50 232.58 L1637.00 242.46 L1637.50 252.58 L1638.00 262.82 L1638.50 273.11 L1639.00 283.34 L1639.50 293.42 L1640.00 303.26 L1640.50 312.77 L1641.00 321.86 L1641.50 330.45 L1642.00 338.46 L1642.50 345.82 L1643.00 352.46 L1643.50 358.32 L1644.00 363.34 L1644.50 367.48 L1645.00 370.71 L1645.50 372.98 L1646.00 374.29 L1646.42 374.63 L1646.50 374.62 L1647.00 373.99 L1647.50 372.41 L1648.00 369.91 L1648.50 366.51 L1649.00 362.23 L1649.50 357.12 L1650.00 351.24 L1650.50 344.63 L1651.00 337.35 L1651.50 329.49 L1652.00 321.11 L1652.50 312.29 L1653.00 303.12 L1653.50 293.69 L1654.00 284.09 L1654.50 274.40 L1655.00 264.73 L1655.50 255.16 L1656.00 245.78 L1656.50 236.69 L1657.00 227.98 L1657.50 219.72 L1658.00 212.00 L1658.50 204.88 L1659.00 198.45 L1659.50 192.75 L1660.00 187.85 L1660.50 183.78 L1661.00 180.60 L1661.50 178.33 L1662.00 176.99 L1662.46 176.59 L1662.50 176.59 L1663.00 177.09 L1663.50 178.43 L1664.00 180.61 L1664.50 183.59 L1665.00 187.33 L1665.50 191.80 L1666.00 196.94 L1666.50 202.68 L1667.00 208.95 L1667.50 215.69 L1668.00 222.79 L1668.50 230.19 L1669.00 237.79 L1669.50 245.49 L1670.00 253.20 L1670.50 260.83 L1671.00 268.29 L1671.50 275.47 L1672.00 282.31 L1672.50 288.70 L1673.00 294.59 L1673.50 299.88 L1674.00 304.52 L1674.50 308.45 L1675.00 311.62 L1675.50 314.00 L1676.00 315.56 L1676.50 316.27 L1676.67 316.31 L1677.00 316.12 L1677.50 315.11 L1678.00 313.24 L1678.50 310.53 L1679.00 307.01 L1679.50 302.73 L1680.00 297.73 L1680.50 292.06 L1681.00 285.80 L1681.50 279.01 L1682.00 271.76 L1682.50 264.14 L1683.00 256.24 L1683.50 248.14 L1684.00 239.93 L1684.50 231.70 L1685.00 223.55 L1685.50 215.57 L1686.00 207.85 L1686.50 200.47 L1687.00 193.52 L1687.50 187.07 L1688.00 181.20 L1688.50 175.97 L1689.00 171.44 L1689.50 167.67 L1690.00 164.69 L1690.50 162.53 L1691.00 161.23 L1691.50 160.79 L1692.00 161.29 L1692.50 162.75 L1693.00 165.18 L1693.50 168.55 L1694.00 172.82 L1694.50 177.97 L1695.00 183.93 L1695.50 190.66 L1696.00 198.08 L1696.50 206.14 L1697.00 214.75 L1697.50 223.84 L1698.00 233.32 L1698.50 243.09 L1699.00 253.08 L1699.50 263.18 L1700.00 273.29 L1700.50 283.34 L1701.00 293.21 L1701.50 302.82 L1702.00 312.08 L1702.50 320.90 L1703.00 329.20 L1703.50 336.90 L1704.00 343.93 L1704.50 350.21 L1705.00 355.71 L1705.50 360.35 L1706.00 364.10 L1706.50 366.92 L1707.00 368.79 L1707.50 369.69 L1707.71 369.77 L1708.00 369.61 L1708.50 368.59 L1709.00 366.63 L1709.50 363.75 L1710.00 359.99 L1710.50 355.37 L1711.00 349.95 L1711.50 343.77 L1712.00 336.90 L1712.50 329.39 L1713.00 321.33 L1713.50 312.80 L1714.00 303.87 L1714.50 294.62 L1715.00 285.16 L1715.50 275.58 L1716.00 265.95 L1716.50 256.39 L1717.00 246.98 L1717.50 237.80 L1718.00 228.96 L1718.50 220.54 L1719.00 212.61 L1719.50 205.26 L1720.00 198.55 L1720.50 192.56 L1721.00 187.33 L1721.50 182.92 L1722.00 179.38 L1722.50 176.73 L1723.00 175.00 L1723.50 174.21 L1723.67 174.16 L1724.00 174.35 L1724.50 175.35 L1725.00 177.19 L1725.50 179.85 L1726.00 183.30 L1726.50 187.51 L1727.00 192.41 L1727.50 197.96 L1728.00 204.09 L1728.50 210.72 L1729.00 217.79 L1729.50 225.20 L1730.00 232.88 L1730.50 240.73 L1731.00 248.66 L1731.50 256.58 L1732.00 264.39 L1732.50 272.01 L1733.00 279.35 L1733.50 286.31 L1734.00 292.83 L1734.50 298.82 L1735.00 304.21 L1735.50 308.95 L1736.00 312.97 L1736.50 316.23 L1737.00 318.68 L1737.50 320.32 L1738.00 321.10 L1738.21 321.17 L1738.50 321.03 L1739.00 320.11 L1739.50 318.34 L1740.00 315.76 L1740.50 312.38 L1741.00 308.25 L1741.50 303.41 L1742.00 297.92 L1742.50 291.83 L1743.00 285.21 L1743.50 278.14 L1744.00 270.70 L1744.50 262.97 L1745.00 255.04 L1745.50 246.99 L1746.00 238.91 L1746.50 230.90 L1747.00 223.04 L1747.50 215.42 L1748.00 208.12 L1748.50 201.23 L1749.00 194.83 L1749.50 188.98 L1750.00 183.75 L1750.50 179.20 L1751.00 175.38 L1751.50 172.33 L1752.00 170.08 L1752.50 168.67 L1753.00 168.10 L1753.08 168.09 L1753.50 168.08 L1754.00 168.08 L1754.50 168.08 L1755.00 168.08 L1755.50 168.08 L1756.00 168.08 L1756.50 168.08 L1757.00 168.08 L1757.50 168.08 L1758.00 168.08 L1758.50 168.08 L1759.00 168.08 L1759.50 168.08 L1760.00 168.08 L1760.00 406.0 Z" fill="none" stroke="#1f82cb" stroke-width="2.8" stroke-linejoin="round"/><g fill="rgb(173,173,173)" fill-opacity="0.244"><rect x="83.50" y="122.6" width="14.92" height="284"/><rect x="126.92" y="122.6" width="31.54" height="284"/><rect x="186.96" y="122.6" width="31.50" height="284"/><rect x="246.96" y="122.6" width="31.54" height="284"/><rect x="307.00" y="122.6" width="31.50" height="284"/><rect x="367.00" y="122.6" width="31.50" height="284"/><rect x="427.04" y="122.6" width="31.50" height="284"/><rect x="487.08" y="122.6" width="31.46" height="284"/><rect x="547.08" y="122.6" width="31.50" height="284"/><rect x="607.12" y="122.6" width="31.46" height="284"/><rect x="667.12" y="122.6" width="31.46" height="284"/><rect x="727.17" y="122.6" width="31.46" height="284"/><rect x="787.17" y="122.6" width="31.46" height="284"/><rect x="847.21" y="122.6" width="31.42" height="284"/><rect x="907.21" y="122.6" width="31.46" height="284"/><rect x="967.25" y="122.6" width="31.42" height="284"/><rect x="1027.29" y="122.6" width="31.38" height="284"/><rect x="1087.29" y="122.6" width="31.37" height="284"/><rect x="1147.33" y="122.6" width="31.33" height="284"/><rect x="1207.33" y="122.6" width="31.38" height="284"/><rect x="1267.38" y="122.6" width="31.33" height="284"/><rect x="1327.38" y="122.6" width="31.33" height="284"/><rect x="1387.42" y="122.6" width="31.29" height="284"/><rect x="1447.42" y="122.6" width="31.29" height="284"/><rect x="1507.46" y="122.6" width="31.25" height="284"/><rect x="1567.46" y="122.6" width="31.29" height="284"/><rect x="1627.50" y="122.6" width="31.25" height="284"/><rect x="1687.50" y="122.6" width="31.25" height="284"/><rect x="1747.54" y="122.6" width="31.21" height="284"/></g><circle cx="91.62" cy="341.83" r="4.1" fill="#05848e" stroke="#fff" stroke-width="1"/><circle cx="108.04" cy="194.81" r="4.1" fill="#2d97dc" stroke="#fff" stroke-width="1"/><circle cx="122.83" cy="296.88" r="4.1" fill="#05848e" stroke="#fff" stroke-width="1"/><circle cx="137.38" cy="203.32" r="4.1" fill="#2d97dc" stroke="#fff" stroke-width="1"/><circle cx="153.46" cy="327.25" r="4.1" fill="#05848e" stroke="#fff" stroke-width="1"/><circle cx="169.92" cy="194.81" r="4.1" fill="#2d97dc" stroke="#fff" stroke-width="1"/><circle cx="185.46" cy="301.74" r="4.1" fill="#05848e" stroke="#fff" stroke-width="1"/><circle cx="200.25" cy="215.47" r="4.1" fill="#2d97dc" stroke="#fff" stroke-width="1"/><circle cx="215.62" cy="311.45" r="4.1" fill="#05848e" stroke="#fff" stroke-width="1"/><circle cx="232.04" cy="193.60" r="4.1" fill="#2d97dc" stroke="#fff" stroke-width="1"/><circle cx="248.54" cy="310.24" r="4.1" fill="#05848e" stroke="#fff" stroke-width="1"/><circle cx="263.88" cy="222.76" r="4.1" fill="#2d97dc" stroke="#fff" stroke-width="1"/><circle cx="278.29" cy="296.88" r="4.1" fill="#05848e" stroke="#fff" stroke-width="1"/><circle cx="294.50" cy="189.96" r="4.1" fill="#2d97dc" stroke="#fff" stroke-width="1"/><circle cx="311.75" cy="324.82" r="4.1" fill="#05848e" stroke="#fff" stroke-width="1"/><circle cx="327.88" cy="221.54" r="4.1" fill="#2d97dc" stroke="#fff" stroke-width="1"/><circle cx="341.42" cy="287.15" r="4.1" fill="#05848e" stroke="#fff" stroke-width="1"/><circle cx="357.17" cy="183.88" r="4.1" fill="#2d97dc" stroke="#fff" stroke-width="1"/><circle cx="374.71" cy="344.26" r="4.1" fill="#05848e" stroke="#fff" stroke-width="1"/><circle cx="391.33" cy="213.04" r="4.1" fill="#2d97dc" stroke="#fff" stroke-width="1"/><circle cx="404.50" cy="283.51" r="4.1" fill="#05848e" stroke="#fff" stroke-width="1"/><circle cx="419.75" cy="174.16" r="4.1" fill="#2d97dc" stroke="#fff" stroke-width="1"/><circle cx="437.29" cy="363.70" r="4.1" fill="#05848e" stroke="#fff" stroke-width="1"/><circle cx="454.04" cy="199.67" r="4.1" fill="#2d97dc" stroke="#fff" stroke-width="1"/><circle cx="467.25" cy="285.94" r="4.1" fill="#05848e" stroke="#fff" stroke-width="1"/><circle cx="482.21" cy="163.22" r="4.1" fill="#2d97dc" stroke="#fff" stroke-width="1"/><circle cx="499.58" cy="380.71" r="4.1" fill="#05848e" stroke="#fff" stroke-width="1"/><circle cx="516.25" cy="188.74" r="4.1" fill="#2d97dc" stroke="#fff" stroke-width="1"/><circle cx="529.62" cy="292.01" r="4.1" fill="#05848e" stroke="#fff" stroke-width="1"/><circle cx="544.46" cy="152.29" r="4.1" fill="#2d97dc" stroke="#fff" stroke-width="1"/><circle cx="561.67" cy="392.86" r="4.1" fill="#05848e" stroke="#fff" stroke-width="1"/><circle cx="578.21" cy="180.24" r="4.1" fill="#2d97dc" stroke="#fff" stroke-width="1"/><circle cx="591.75" cy="300.52" r="4.1" fill="#05848e" stroke="#fff" stroke-width="1"/><circle cx="606.58" cy="145.00" r="4.1" fill="#2d97dc" stroke="#fff" stroke-width="1"/><circle cx="623.62" cy="397.72" r="4.1" fill="#05848e" stroke="#fff" stroke-width="1"/><circle cx="640.04" cy="175.38" r="4.1" fill="#2d97dc" stroke="#fff" stroke-width="1"/><circle cx="653.75" cy="306.60" r="4.1" fill="#05848e" stroke="#fff" stroke-width="1"/><circle cx="668.58" cy="142.57" r="4.1" fill="#2d97dc" stroke="#fff" stroke-width="1"/><circle cx="685.46" cy="396.50" r="4.1" fill="#05848e" stroke="#fff" stroke-width="1"/><circle cx="701.75" cy="172.94" r="4.1" fill="#2d97dc" stroke="#fff" stroke-width="1"/><circle cx="715.62" cy="311.45" r="4.1" fill="#05848e" stroke="#fff" stroke-width="1"/><circle cx="730.54" cy="147.43" r="4.1" fill="#2d97dc" stroke="#fff" stroke-width="1"/><circle cx="747.21" cy="388.00" r="4.1" fill="#05848e" stroke="#fff" stroke-width="1"/><circle cx="763.42" cy="174.16" r="4.1" fill="#2d97dc" stroke="#fff" stroke-width="1"/><circle cx="777.50" cy="313.88" r="4.1" fill="#05848e" stroke="#fff" stroke-width="1"/><circle cx="792.42" cy="157.15" r="4.1" fill="#2d97dc" stroke="#fff" stroke-width="1"/><circle cx="808.83" cy="373.42" r="4.1" fill="#05848e" stroke="#fff" stroke-width="1"/><circle cx="825.00" cy="177.81" r="4.1" fill="#2d97dc" stroke="#fff" stroke-width="1"/><circle cx="839.42" cy="313.88" r="4.1" fill="#05848e" stroke="#fff" stroke-width="1"/><circle cx="854.25" cy="172.94" r="4.1" fill="#2d97dc" stroke="#fff" stroke-width="1"/><circle cx="870.42" cy="356.41" r="4.1" fill="#05848e" stroke="#fff" stroke-width="1"/><circle cx="886.58" cy="182.67" r="4.1" fill="#2d97dc" stroke="#fff" stroke-width="1"/><circle cx="901.38" cy="311.45" r="4.1" fill="#05848e" stroke="#fff" stroke-width="1"/><circle cx="916.17" cy="191.17" r="4.1" fill="#2d97dc" stroke="#fff" stroke-width="1"/><circle cx="931.96" cy="335.75" r="4.1" fill="#05848e" stroke="#fff" stroke-width="1"/><circle cx="948.17" cy="188.74" r="4.1" fill="#2d97dc" stroke="#fff" stroke-width="1"/><circle cx="963.46" cy="307.81" r="4.1" fill="#05848e" stroke="#fff" stroke-width="1"/><circle cx="978.25" cy="209.40" r="4.1" fill="#2d97dc" stroke="#fff" stroke-width="1"/><circle cx="993.50" cy="315.10" r="4.1" fill="#05848e" stroke="#fff" stroke-width="1"/><circle cx="1009.79" cy="194.81" r="4.1" fill="#2d97dc" stroke="#fff" stroke-width="1"/><circle cx="1025.83" cy="304.17" r="4.1" fill="#05848e" stroke="#fff" stroke-width="1"/><circle cx="1040.79" cy="226.41" r="4.1" fill="#2d97dc" stroke="#fff" stroke-width="1"/><circle cx="1055.25" cy="295.66" r="4.1" fill="#05848e" stroke="#fff" stroke-width="1"/><circle cx="1071.67" cy="200.89" r="4.1" fill="#2d97dc" stroke="#fff" stroke-width="1"/><circle cx="1088.71" cy="302.95" r="4.1" fill="#05848e" stroke="#fff" stroke-width="1"/><circle cx="1104.25" cy="238.56" r="4.1" fill="#2d97dc" stroke="#fff" stroke-width="1"/><circle cx="1117.46" cy="279.87" r="4.1" fill="#05848e" stroke="#fff" stroke-width="1"/><circle cx="1133.92" cy="205.75" r="4.1" fill="#2d97dc" stroke="#fff" stroke-width="1"/><circle cx="1151.96" cy="306.60" r="4.1" fill="#05848e" stroke="#fff" stroke-width="1"/><circle cx="1168.58" cy="239.77" r="4.1" fill="#2d97dc" stroke="#fff" stroke-width="1"/><circle cx="1180.62" cy="267.72" r="4.1" fill="#05848e" stroke="#fff" stroke-width="1"/><circle cx="1196.62" cy="208.18" r="4.1" fill="#2d97dc" stroke="#fff" stroke-width="1"/><circle cx="1214.96" cy="316.31" r="4.1" fill="#05848e" stroke="#fff" stroke-width="1"/><circle cx="1232.17" cy="232.48" r="4.1" fill="#2d97dc" stroke="#fff" stroke-width="1"/><circle cx="1244.25" cy="264.07" r="4.1" fill="#05848e" stroke="#fff" stroke-width="1"/><circle cx="1259.38" cy="204.53" r="4.1" fill="#2d97dc" stroke="#fff" stroke-width="1"/><circle cx="1277.38" cy="328.47" r="4.1" fill="#05848e" stroke="#fff" stroke-width="1"/><circle cx="1294.46" cy="221.54" r="4.1" fill="#2d97dc" stroke="#fff" stroke-width="1"/><circle cx="1307.08" cy="267.72" r="4.1" fill="#05848e" stroke="#fff" stroke-width="1"/><circle cx="1321.75" cy="197.25" r="4.1" fill="#2d97dc" stroke="#fff" stroke-width="1"/><circle cx="1339.29" cy="341.83" r="4.1" fill="#05848e" stroke="#fff" stroke-width="1"/><circle cx="1356.12" cy="210.61" r="4.1" fill="#2d97dc" stroke="#fff" stroke-width="1"/><circle cx="1369.17" cy="276.22" r="4.1" fill="#05848e" stroke="#fff" stroke-width="1"/><circle cx="1383.71" cy="186.31" r="4.1" fill="#2d97dc" stroke="#fff" stroke-width="1"/><circle cx="1400.92" cy="353.98" r="4.1" fill="#05848e" stroke="#fff" stroke-width="1"/><circle cx="1417.54" cy="200.89" r="4.1" fill="#2d97dc" stroke="#fff" stroke-width="1"/><circle cx="1430.83" cy="284.73" r="4.1" fill="#05848e" stroke="#fff" stroke-width="1"/><circle cx="1445.46" cy="176.59" r="4.1" fill="#2d97dc" stroke="#fff" stroke-width="1"/><circle cx="1462.42" cy="363.70" r="4.1" fill="#05848e" stroke="#fff" stroke-width="1"/><circle cx="1478.83" cy="193.60" r="4.1" fill="#2d97dc" stroke="#fff" stroke-width="1"/><circle cx="1492.33" cy="293.23" r="4.1" fill="#05848e" stroke="#fff" stroke-width="1"/><circle cx="1507.04" cy="168.08" r="4.1" fill="#2d97dc" stroke="#fff" stroke-width="1"/><circle cx="1523.79" cy="372.20" r="4.1" fill="#05848e" stroke="#fff" stroke-width="1"/><circle cx="1540.04" cy="186.31" r="4.1" fill="#2d97dc" stroke="#fff" stroke-width="1"/><circle cx="1553.79" cy="301.74" r="4.1" fill="#05848e" stroke="#fff" stroke-width="1"/><circle cx="1568.54" cy="162.01" r="4.1" fill="#2d97dc" stroke="#fff" stroke-width="1"/><circle cx="1585.12" cy="375.85" r="4.1" fill="#05848e" stroke="#fff" stroke-width="1"/><circle cx="1601.25" cy="181.45" r="4.1" fill="#2d97dc" stroke="#fff" stroke-width="1"/><circle cx="1615.21" cy="309.02" r="4.1" fill="#05848e" stroke="#fff" stroke-width="1"/><circle cx="1630.00" cy="159.58" r="4.1" fill="#2d97dc" stroke="#fff" stroke-width="1"/><circle cx="1646.42" cy="374.63" r="4.1" fill="#05848e" stroke="#fff" stroke-width="1"/><circle cx="1662.46" cy="176.59" r="4.1" fill="#2d97dc" stroke="#fff" stroke-width="1"/><circle cx="1676.67" cy="316.31" r="4.1" fill="#05848e" stroke="#fff" stroke-width="1"/><circle cx="1691.50" cy="160.79" r="4.1" fill="#2d97dc" stroke="#fff" stroke-width="1"/><circle cx="1707.71" cy="369.77" r="4.1" fill="#05848e" stroke="#fff" stroke-width="1"/><circle cx="1723.67" cy="174.16" r="4.1" fill="#2d97dc" stroke="#fff" stroke-width="1"/><circle cx="1738.21" cy="321.18" r="4.1" fill="#05848e" stroke="#fff" stroke-width="1"/><circle cx="1753.08" cy="168.08" r="4.1" fill="#2d97dc" stroke="#fff" stroke-width="1"/></g><rect x="69" y="121" width="1" height="286" fill="#6a6a6a"/></svg>
<div class="a" style="left:0;top:121.4px;width:69px;height:285px;overflow:hidden"><div class="yl" style="right:2.5px;top:-10.32px">2.2m (7.2ft)</div><div class="yl" style="right:2.5px;top:20.94px">1.9m (6.3ft)</div><div class="yl" style="right:2.5px;top:52.20px">1.7m (5.5ft)</div><div class="yl" style="right:2.5px;top:83.46px">1.4m (4.6ft)</div><div class="yl" style="right:2.5px;top:114.72px">1.1m (3.8ft)</div><div class="yl" style="right:2.5px;top:145.98px">0.9m (2.9ft)</div><div class="yl" style="right:2.5px;top:177.24px">0.6m (2ft)</div><div class="yl" style="right:2.5px;top:208.50px">0.4m (1.2ft)</div><div class="yl" style="right:2.5px;top:239.76px">0.1m (0.3ft)</div><div class="yl" style="right:2.5px;top:271.02px">-0.2m (-0.5ft)</div></div>
<div class="a" style="left:0;top:70px;width:1752px;height:28px;background:#4a80b6"></div><div class="a" style="left:0;top:97px;width:1752px;height:1px;background:#4377ad"></div><div class="a" style="left:69px;top:70px;width:1px;height:28px;background:#a8c2dc"></div><div class="t hd" style="left:70px;width:60px;top:73.50px">26 Dec</div><div class="a" style="left:130px;top:70px;width:1px;height:28px;background:#a8c2dc"></div><div class="t hd" style="left:131px;width:61px;top:73.50px">27 Dec</div><div class="a" style="left:192px;top:70px;width:1px;height:28px;background:#a8c2dc"></div><div class="t hd" style="left:193px;width:59px;top:73.50px">28 Dec</div><div class="a" style="left:252px;top:70px;width:1px;height:28px;background:#a8c2dc"></div><div class="t hd" style="left:253px;width:64px;top:73.50px">29 Dec</div><div class="a" style="left:317px;top:70px;width:1px;height:28px;background:#a8c2dc"></div><div class="t hd" style="left:318px;width:59px;top:73.50px">30 Dec</div><div class="a" style="left:377px;top:70px;width:1px;height:28px;background:#a8c2dc"></div><div class="t hd" style="left:378px;width:59px;top:73.50px">31 Dec</div><div class="a" style="left:437px;top:70px;width:1px;height:28px;background:#a8c2dc"></div><div class="t hd" style="left:438px;width:60px;top:73.50px">1 Jan</div><div class="a" style="left:498px;top:70px;width:1px;height:28px;background:#a8c2dc"></div><div class="t hd" style="left:499px;width:59px;top:73.50px">2 Jan</div><div class="a" style="left:558px;top:70px;width:1px;height:28px;background:#a8c2dc"></div><div class="t hd" style="left:559px;width:59px;top:73.50px">3 Jan</div><div class="a" style="left:618px;top:70px;width:1px;height:28px;background:#a8c2dc"></div><div class="t hd" style="left:619px;width:64px;top:73.50px">4 Jan</div><div class="a" style="left:683px;top:70px;width:1px;height:28px;background:#a8c2dc"></div><div class="t hd" style="left:684px;width:62px;top:73.50px">5 Jan</div><div class="a" style="left:746px;top:70px;width:1px;height:28px;background:#a8c2dc"></div><div class="t hd" style="left:747px;width:59px;top:73.50px">6 Jan</div><div class="a" style="left:806px;top:70px;width:1px;height:28px;background:#a8c2dc"></div><div class="t hd" style="left:807px;width:59px;top:73.50px">7 Jan</div><div class="a" style="left:866px;top:70px;width:1px;height:28px;background:#a8c2dc"></div><div class="t hd" style="left:867px;width:59px;top:73.50px">8 Jan</div><div class="a" style="left:926px;top:70px;width:1px;height:28px;background:#a8c2dc"></div><div class="t hd" style="left:927px;width:59px;top:73.50px">9 Jan</div><div class="a" style="left:986px;top:70px;width:1px;height:28px;background:#a8c2dc"></div><div class="t hd" style="left:987px;width:59px;top:73.50px">10 Jan</div><div class="a" style="left:1046px;top:70px;width:1px;height:28px;background:#a8c2dc"></div><div class="t hd" style="left:1047px;width:59px;top:73.50px">11 Jan</div><div class="a" style="left:1106px;top:70px;width:1px;height:28px;background:#a8c2dc"></div><div class="t hd" style="left:1107px;width:61px;top:73.50px">12 Jan</div><div class="a" style="left:1168px;top:70px;width:1px;height:28px;background:#a8c2dc"></div><div class="t hd" style="left:1169px;width:59px;top:73.50px">13 Jan</div><div class="a" style="left:1228px;top:70px;width:1px;height:28px;background:#a8c2dc"></div><div class="t hd" style="left:1229px;width:59px;top:73.50px">14 Jan</div><div class="a" style="left:1288px;top:70px;width:1px;height:28px;background:#a8c2dc"></div><div class="t hd" style="left:1289px;width:59px;top:73.50px">15 Jan</div><div class="a" style="left:1348px;top:70px;width:1px;height:28px;background:#a8c2dc"></div><div class="t hd" style="left:1349px;width:59px;top:73.50px">16 Jan</div><div class="a" style="left:1408px;top:70px;width:1px;height:28px;background:#a8c2dc"></div><div class="t hd" style="left:1409px;width:60px;top:73.50px">17 Jan</div><div class="a" style="left:1469px;top:70px;width:1px;height:28px;background:#a8c2dc"></div><div class="t hd" style="left:1470px;width:59px;top:73.50px">18 Jan</div><div class="a" style="left:1529px;top:70px;width:1px;height:28px;background:#a8c2dc"></div><div class="t hd" style="left:1530px;width:62px;top:73.50px">19 Jan</div><div class="a" style="left:1592px;top:70px;width:1px;height:28px;background:#a8c2dc"></div><div class="t hd" style="left:1593px;width:64px;top:73.50px">20 Jan</div><div class="a" style="left:1657px;top:70px;width:1px;height:28px;background:#a8c2dc"></div><div class="t hd" style="left:1658px;width:59px;top:73.50px">21 Jan</div><div class="a" style="left:1717px;top:70px;width:1px;height:28px;background:#a8c2dc"></div><div class="t hd" style="left:1718px;width:60px;top:73.50px">22 Jan</div>
<div class="a" style="left:70px;top:98px;width:1700px;height:23px;background:#fff"></div><div class="a" style="left:69px;top:98px;width:1px;height:23px;background:#1f3a58"></div><div class="bt" style="left:105.8px;top:102.1px;width:21.8px;height:15.6px"><svg width="22" height="16" viewBox="0 0 22 16" style="position:absolute;left:-1px;top:-1px"><path d="M6.9 8.7V12.6H10.8" fill="none" stroke="#000" stroke-width="1.35" stroke-linejoin="miter"/><path d="M7.2 12.3L10.6 8.9" stroke="#000" stroke-width="1.0"/><path d="M12.1 3.6H16V7.5" fill="none" stroke="#000" stroke-width="1.35" stroke-linejoin="miter"/><path d="M15.7 3.9L12.3 7.3" stroke="#000" stroke-width="1.0"/></svg></div><div class="t dn" style="left:71px;width:35.8px;top:99.55px">Fri</div><div class="a" style="left:130px;top:98px;width:1px;height:23px;background:#7189a1"></div><div class="bt" style="left:167.8px;top:102.1px;width:21.8px;height:15.6px"><svg width="22" height="16" viewBox="0 0 22 16" style="position:absolute;left:-1px;top:-1px"><path d="M6.9 8.7V12.6H10.8" fill="none" stroke="#000" stroke-width="1.35" stroke-linejoin="miter"/><path d="M7.2 12.3L10.6 8.9" stroke="#000" stroke-width="1.0"/><path d="M12.1 3.6H16V7.5" fill="none" stroke="#000" stroke-width="1.35" stroke-linejoin="miter"/><path d="M15.7 3.9L12.3 7.3" stroke="#000" stroke-width="1.0"/></svg></div><div class="t dn" style="left:132px;width:36.8px;top:99.55px">Sat</div><div class="a" style="left:192px;top:98px;width:1px;height:23px;background:#7189a1"></div><div class="bt" style="left:227.8px;top:102.1px;width:21.8px;height:15.6px"><svg width="22" height="16" viewBox="0 0 22 16" style="position:absolute;left:-1px;top:-1px"><path d="M6.9 8.7V12.6H10.8" fill="none" stroke="#000" stroke-width="1.35" stroke-linejoin="miter"/><path d="M7.2 12.3L10.6 8.9" stroke="#000" stroke-width="1.0"/><path d="M12.1 3.6H16V7.5" fill="none" stroke="#000" stroke-width="1.35" stroke-linejoin="miter"/><path d="M15.7 3.9L12.3 7.3" stroke="#000" stroke-width="1.0"/></svg></div><div class="t dn" style="left:194px;width:34.8px;top:99.55px">Sun</div><div class="a" style="left:252px;top:98px;width:1px;height:23px;background:#7189a1"></div><div class="bt" style="left:292.8px;top:102.1px;width:21.8px;height:15.6px"><svg width="22" height="16" viewBox="0 0 22 16" style="position:absolute;left:-1px;top:-1px"><path d="M6.9 8.7V12.6H10.8" fill="none" stroke="#000" stroke-width="1.35" stroke-linejoin="miter"/><path d="M7.2 12.3L10.6 8.9" stroke="#000" stroke-width="1.0"/><path d="M12.1 3.6H16V7.5" fill="none" stroke="#000" stroke-width="1.35" stroke-linejoin="miter"/><path d="M15.7 3.9L12.3 7.3" stroke="#000" stroke-width="1.0"/></svg></div><div class="t dn" style="left:254px;width:39.8px;top:99.55px">Mon</div><div class="a" style="left:317px;top:98px;width:1px;height:23px;background:#7189a1"></div><div class="bt" style="left:352.8px;top:102.1px;width:21.8px;height:15.6px"><svg width="22" height="16" viewBox="0 0 22 16" style="position:absolute;left:-1px;top:-1px"><path d="M6.9 8.7V12.6H10.8" fill="none" stroke="#000" stroke-width="1.35" stroke-linejoin="miter"/><path d="M7.2 12.3L10.6 8.9" stroke="#000" stroke-width="1.0"/><path d="M12.1 3.6H16V7.5" fill="none" stroke="#000" stroke-width="1.35" stroke-linejoin="miter"/><path d="M15.7 3.9L12.3 7.3" stroke="#000" stroke-width="1.0"/></svg></div><div class="t dn" style="left:319px;width:34.8px;top:99.55px">Tue</div><div class="a" style="left:377px;top:98px;width:1px;height:23px;background:#7189a1"></div><div class="bt" style="left:412.8px;top:102.1px;width:21.8px;height:15.6px"><svg width="22" height="16" viewBox="0 0 22 16" style="position:absolute;left:-1px;top:-1px"><path d="M6.9 8.7V12.6H10.8" fill="none" stroke="#000" stroke-width="1.35" stroke-linejoin="miter"/><path d="M7.2 12.3L10.6 8.9" stroke="#000" stroke-width="1.0"/><path d="M12.1 3.6H16V7.5" fill="none" stroke="#000" stroke-width="1.35" stroke-linejoin="miter"/><path d="M15.7 3.9L12.3 7.3" stroke="#000" stroke-width="1.0"/></svg></div><div class="t dn" style="left:379px;width:34.8px;top:99.55px">Wed</div><div class="a" style="left:437px;top:98px;width:1px;height:23px;background:#7189a1"></div><div class="bt" style="left:473.8px;top:102.1px;width:21.8px;height:15.6px"><svg width="22" height="16" viewBox="0 0 22 16" style="position:absolute;left:-1px;top:-1px"><path d="M6.9 8.7V12.6H10.8" fill="none" stroke="#000" stroke-width="1.35" stroke-linejoin="miter"/><path d="M7.2 12.3L10.6 8.9" stroke="#000" stroke-width="1.0"/><path d="M12.1 3.6H16V7.5" fill="none" stroke="#000" stroke-width="1.35" stroke-linejoin="miter"/><path d="M15.7 3.9L12.3 7.3" stroke="#000" stroke-width="1.0"/></svg></div><div class="t dn" style="left:439px;width:35.8px;top:99.55px">Thu</div><div class="a" style="left:498px;top:98px;width:1px;height:23px;background:#7189a1"></div><div class="bt" style="left:533.8px;top:102.1px;width:21.8px;height:15.6px"><svg width="22" height="16" viewBox="0 0 22 16" style="position:absolute;left:-1px;top:-1px"><path d="M6.9 8.7V12.6H10.8" fill="none" stroke="#000" stroke-width="1.35" stroke-linejoin="miter"/><path d="M7.2 12.3L10.6 8.9" stroke="#000" stroke-width="1.0"/><path d="M12.1 3.6H16V7.5" fill="none" stroke="#000" stroke-width="1.35" stroke-linejoin="miter"/><path d="M15.7 3.9L12.3 7.3" stroke="#000" stroke-width="1.0"/></svg></div><div class="t dn" style="left:500px;width:34.8px;top:99.55px">Fri</div><div class="a" style="left:558px;top:98px;width:1px;height:23px;background:#7189a1"></div><div class="bt" style="left:593.8px;top:102.1px;width:21.8px;height:15.6px"><svg width="22" height="16" viewBox="0 0 22 16" style="position:absolute;left:-1px;top:-1px"><path d="M6.9 8.7V12.6H10.8" fill="none" stroke="#000" stroke-width="1.35" stroke-linejoin="miter"/><path d="M7.2 12.3L10.6 8.9" stroke="#000" stroke-width="1.0"/><path d="M12.1 3.6H16V7.5" fill="none" stroke="#000" stroke-width="1.35" stroke-linejoin="miter"/><path d="M15.7 3.9L12.3 7.3" stroke="#000" stroke-width="1.0"/></svg></div><div class="t dn" style="left:560px;width:34.8px;top:99.55px">Sat</div><div class="a" style="left:618px;top:98px;width:1px;height:23px;background:#7189a1"></div><div class="bt" style="left:658.8px;top:102.1px;width:21.8px;height:15.6px"><svg width="22" height="16" viewBox="0 0 22 16" style="position:absolute;left:-1px;top:-1px"><path d="M6.9 8.7V12.6H10.8" fill="none" stroke="#000" stroke-width="1.35" stroke-linejoin="miter"/><path d="M7.2 12.3L10.6 8.9" stroke="#000" stroke-width="1.0"/><path d="M12.1 3.6H16V7.5" fill="none" stroke="#000" stroke-width="1.35" stroke-linejoin="miter"/><path d="M15.7 3.9L12.3 7.3" stroke="#000" stroke-width="1.0"/></svg></div><div class="t dn" style="left:620px;width:39.8px;top:99.55px">Sun</div><div class="a" style="left:683px;top:98px;width:1px;height:23px;background:#7189a1"></div><div class="bt" style="left:721.8px;top:102.1px;width:21.8px;height:15.6px"><svg width="22" height="16" viewBox="0 0 22 16" style="position:absolute;left:-1px;top:-1px"><path d="M6.9 8.7V12.6H10.8" fill="none" stroke="#000" stroke-width="1.35" stroke-linejoin="miter"/><path d="M7.2 12.3L10.6 8.9" stroke="#000" stroke-width="1.0"/><path d="M12.1 3.6H16V7.5" fill="none" stroke="#000" stroke-width="1.35" stroke-linejoin="miter"/><path d="M15.7 3.9L12.3 7.3" stroke="#000" stroke-width="1.0"/></svg></div><div class="t dn" style="left:685px;width:37.8px;top:99.55px">Mon</div><div class="a" style="left:746px;top:98px;width:1px;height:23px;background:#7189a1"></div><div class="bt" style="left:781.8px;top:102.1px;width:21.8px;height:15.6px"><svg width="22" height="16" viewBox="0 0 22 16" style="position:absolute;left:-1px;top:-1px"><path d="M6.9 8.7V12.6H10.8" fill="none" stroke="#000" stroke-width="1.35" stroke-linejoin="miter"/><path d="M7.2 12.3L10.6 8.9" stroke="#000" stroke-width="1.0"/><path d="M12.1 3.6H16V7.5" fill="none" stroke="#000" stroke-width="1.35" stroke-linejoin="miter"/><path d="M15.7 3.9L12.3 7.3" stroke="#000" stroke-width="1.0"/></svg></div><div class="t dn" style="left:748px;width:34.8px;top:99.55px">Tue</div><div class="a" style="left:806px;top:98px;width:1px;height:23px;background:#7189a1"></div><div class="bt" style="left:841.8px;top:102.1px;width:21.8px;height:15.6px"><svg width="22" height="16" viewBox="0 0 22 16" style="position:absolute;left:-1px;top:-1px"><path d="M6.9 8.7V12.6H10.8" fill="none" stroke="#000" stroke-width="1.35" stroke-linejoin="miter"/><path d="M7.2 12.3L10.6 8.9" stroke="#000" stroke-width="1.0"/><path d="M12.1 3.6H16V7.5" fill="none" stroke="#000" stroke-width="1.35" stroke-linejoin="miter"/><path d="M15.7 3.9L12.3 7.3" stroke="#000" stroke-width="1.0"/></svg></div><div class="t dn" style="left:808px;width:34.8px;top:99.55px">Wed</div><div class="a" style="left:866px;top:98px;width:1px;height:23px;background:#7189a1"></div><div class="bt" style="left:901.8px;top:102.1px;width:21.8px;height:15.6px"><svg width="22" height="16" viewBox="0 0 22 16" style="position:absolute;left:-1px;top:-1px"><path d="M6.9 8.7V12.6H10.8" fill="none" stroke="#000" stroke-width="1.35" stroke-linejoin="miter"/><path d="M7.2 12.3L10.6 8.9" stroke="#000" stroke-width="1.0"/><path d="M12.1 3.6H16V7.5" fill="none" stroke="#000" stroke-width="1.35" stroke-linejoin="miter"/><path d="M15.7 3.9L12.3 7.3" stroke="#000" stroke-width="1.0"/></svg></div><div class="t dn" style="left:868px;width:34.8px;top:99.55px">Thu</div><div class="a" style="left:926px;top:98px;width:1px;height:23px;background:#7189a1"></div><div class="bt" style="left:961.8px;top:102.1px;width:21.8px;height:15.6px"><svg width="22" height="16" viewBox="0 0 22 16" style="position:absolute;left:-1px;top:-1px"><path d="M6.9 8.7V12.6H10.8" fill="none" stroke="#000" stroke-width="1.35" stroke-linejoin="miter"/><path d="M7.2 12.3L10.6 8.9" stroke="#000" stroke-width="1.0"/><path d="M12.1 3.6H16V7.5" fill="none" stroke="#000" stroke-width="1.35" stroke-linejoin="miter"/><path d="M15.7 3.9L12.3 7.3" stroke="#000" stroke-width="1.0"/></svg></div><div class="t dn" style="left:928px;width:34.8px;top:99.55px">Fri</div><div class="a" style="left:986px;top:98px;width:1px;height:23px;background:#7189a1"></div><div class="bt" style="left:1021.8px;top:102.1px;width:21.8px;height:15.6px"><svg width="22" height="16" viewBox="0 0 22 16" style="position:absolute;left:-1px;top:-1px"><path d="M6.9 8.7V12.6H10.8" fill="none" stroke="#000" stroke-width="1.35" stroke-linejoin="miter"/><path d="M7.2 12.3L10.6 8.9" stroke="#000" stroke-width="1.0"/><path d="M12.1 3.6H16V7.5" fill="none" stroke="#000" stroke-width="1.35" stroke-linejoin="miter"/><path d="M15.7 3.9L12.3 7.3" stroke="#000" stroke-width="1.0"/></svg></div><div class="t dn" style="left:988px;width:34.8px;top:99.55px">Sat</div><div class="a" style="left:1046px;top:98px;width:1px;height:23px;background:#7189a1"></div><div class="bt" style="left:1081.8px;top:102.1px;width:21.8px;height:15.6px"><svg width="22" height="16" viewBox="0 0 22 16" style="position:absolute;left:-1px;top:-1px"><path d="M6.9 8.7V12.6H10.8" fill="none" stroke="#000" stroke-width="1.35" stroke-linejoin="miter"/><path d="M7.2 12.3L10.6 8.9" stroke="#000" stroke-width="1.0"/><path d="M12.1 3.6H16V7.5" fill="none" stroke="#000" stroke-width="1.35" stroke-linejoin="miter"/><path d="M15.7 3.9L12.3 7.3" stroke="#000" stroke-width="1.0"/></svg></div><div class="t dn" style="left:1048px;width:34.8px;top:99.55px">Sun</div><div class="a" style="left:1106px;top:98px;width:1px;height:23px;background:#7189a1"></div><div class="bt" style="left:1143.8px;top:102.1px;width:21.8px;height:15.6px"><svg width="22" height="16" viewBox="0 0 22 16" style="position:absolute;left:-1px;top:-1px"><path d="M6.9 8.7V12.6H10.8" fill="none" stroke="#000" stroke-width="1.35" stroke-linejoin="miter"/><path d="M7.2 12.3L10.6 8.9" stroke="#000" stroke-width="1.0"/><path d="M12.1 3.6H16V7.5" fill="none" stroke="#000" stroke-width="1.35" stroke-linejoin="miter"/><path d="M15.7 3.9L12.3 7.3" stroke="#000" stroke-width="1.0"/></svg></div><div class="t dn" style="left:1108px;width:36.8px;top:99.55px">Mon</div><div class="a" style="left:1168px;top:98px;width:1px;height:23px;background:#7189a1"></div><div class="bt" style="left:1203.8px;top:102.1px;width:21.8px;height:15.6px"><svg width="22" height="16" viewBox="0 0 22 16" style="position:absolute;left:-1px;top:-1px"><path d="M6.9 8.7V12.6H10.8" fill="none" stroke="#000" stroke-width="1.35" stroke-linejoin="miter"/><path d="M7.2 12.3L10.6 8.9" stroke="#000" stroke-width="1.0"/><path d="M12.1 3.6H16V7.5" fill="none" stroke="#000" stroke-width="1.35" stroke-linejoin="miter"/><path d="M15.7 3.9L12.3 7.3" stroke="#000" stroke-width="1.0"/></svg></div><div class="t dn" style="left:1170px;width:34.8px;top:99.55px">Tue</div><div class="a" style="left:1228px;top:98px;width:1px;height:23px;background:#7189a1"></div><div class="bt" style="left:1263.8px;top:102.1px;width:21.8px;height:15.6px"><svg width="22" height="16" viewBox="0 0 22 16" style="position:absolute;left:-1px;top:-1px"><path d="M6.9 8.7V12.6H10.8" fill="none" stroke="#000" stroke-width="1.35" stroke-linejoin="miter"/><path d="M7.2 12.3L10.6 8.9" stroke="#000" stroke-width="1.0"/><path d="M12.1 3.6H16V7.5" fill="none" stroke="#000" stroke-width="1.35" stroke-linejoin="miter"/><path d="M15.7 3.9L12.3 7.3" stroke="#000" stroke-width="1.0"/></svg></div><div class="t dn" style="left:1230px;width:34.8px;top:99.55px">Wed</div><div class="a" style="left:1288px;top:98px;width:1px;height:23px;background:#7189a1"></div><div class="bt" style="left:1323.8px;top:102.1px;width:21.8px;height:15.6px"><svg width="22" height="16" viewBox="0 0 22 16" style="position:absolute;left:-1px;top:-1px"><path d="M6.9 8.7V12.6H10.8" fill="none" stroke="#000" stroke-width="1.35" stroke-linejoin="miter"/><path d="M7.2 12.3L10.6 8.9" stroke="#000" stroke-width="1.0"/><path d="M12.1 3.6H16V7.5" fill="none" stroke="#000" stroke-width="1.35" stroke-linejoin="miter"/><path d="M15.7 3.9L12.3 7.3" stroke="#000" stroke-width="1.0"/></svg></div><div class="t dn" style="left:1290px;width:34.8px;top:99.55px">Thu</div><div class="a" style="left:1348px;top:98px;width:1px;height:23px;background:#7189a1"></div><div class="bt" style="left:1383.8px;top:102.1px;width:21.8px;height:15.6px"><svg width="22" height="16" viewBox="0 0 22 16" style="position:absolute;left:-1px;top:-1px"><path d="M6.9 8.7V12.6H10.8" fill="none" stroke="#000" stroke-width="1.35" stroke-linejoin="miter"/><path d="M7.2 12.3L10.6 8.9" stroke="#000" stroke-width="1.0"/><path d="M12.1 3.6H16V7.5" fill="none" stroke="#000" stroke-width="1.35" stroke-linejoin="miter"/><path d="M15.7 3.9L12.3 7.3" stroke="#000" stroke-width="1.0"/></svg></div><div class="t dn" style="left:1350px;width:34.8px;top:99.55px">Fri</div><div class="a" style="left:1408px;top:98px;width:1px;height:23px;background:#7189a1"></div><div class="bt" style="left:1444.8px;top:102.1px;width:21.8px;height:15.6px"><svg width="22" height="16" viewBox="0 0 22 16" style="position:absolute;left:-1px;top:-1px"><path d="M6.9 8.7V12.6H10.8" fill="none" stroke="#000" stroke-width="1.35" stroke-linejoin="miter"/><path d="M7.2 12.3L10.6 8.9" stroke="#000" stroke-width="1.0"/><path d="M12.1 3.6H16V7.5" fill="none" stroke="#000" stroke-width="1.35" stroke-linejoin="miter"/><path d="M15.7 3.9L12.3 7.3" stroke="#000" stroke-width="1.0"/></svg></div><div class="t dn" style="left:1410px;width:35.8px;top:99.55px">Sat</div><div class="a" style="left:1469px;top:98px;width:1px;height:23px;background:#7189a1"></div><div class="bt" style="left:1504.8px;top:102.1px;width:21.8px;height:15.6px"><svg width="22" height="16" viewBox="0 0 22 16" style="position:absolute;left:-1px;top:-1px"><path d="M6.9 8.7V12.6H10.8" fill="none" stroke="#000" stroke-width="1.35" stroke-linejoin="miter"/><path d="M7.2 12.3L10.6 8.9" stroke="#000" stroke-width="1.0"/><path d="M12.1 3.6H16V7.5" fill="none" stroke="#000" stroke-width="1.35" stroke-linejoin="miter"/><path d="M15.7 3.9L12.3 7.3" stroke="#000" stroke-width="1.0"/></svg></div><div class="t dn" style="left:1471px;width:34.8px;top:99.55px">Sun</div><div class="a" style="left:1529px;top:98px;width:1px;height:23px;background:#7189a1"></div><div class="bt" style="left:1567.8px;top:102.1px;width:21.8px;height:15.6px"><svg width="22" height="16" viewBox="0 0 22 16" style="position:absolute;left:-1px;top:-1px"><path d="M6.9 8.7V12.6H10.8" fill="none" stroke="#000" stroke-width="1.35" stroke-linejoin="miter"/><path d="M7.2 12.3L10.6 8.9" stroke="#000" stroke-width="1.0"/><path d="M12.1 3.6H16V7.5" fill="none" stroke="#000" stroke-width="1.35" stroke-linejoin="miter"/><path d="M15.7 3.9L12.3 7.3" stroke="#000" stroke-width="1.0"/></svg></div><div class="t dn" style="left:1531px;width:37.8px;top:99.55px">Mon</div><div class="a" style="left:1592px;top:98px;width:1px;height:23px;background:#7189a1"></div><div class="bt" style="left:1632.8px;top:102.1px;width:21.8px;height:15.6px"><svg width="22" height="16" viewBox="0 0 22 16" style="position:absolute;left:-1px;top:-1px"><path d="M6.9 8.7V12.6H10.8" fill="none" stroke="#000" stroke-width="1.35" stroke-linejoin="miter"/><path d="M7.2 12.3L10.6 8.9" stroke="#000" stroke-width="1.0"/><path d="M12.1 3.6H16V7.5" fill="none" stroke="#000" stroke-width="1.35" stroke-linejoin="miter"/><path d="M15.7 3.9L12.3 7.3" stroke="#000" stroke-width="1.0"/></svg></div><div class="t dn" style="left:1594px;width:39.8px;top:99.55px">Tue</div><div class="a" style="left:1657px;top:98px;width:1px;height:23px;background:#7189a1"></div><div class="bt" style="left:1692.8px;top:102.1px;width:21.8px;height:15.6px"><svg width="22" height="16" viewBox="0 0 22 16" style="position:absolute;left:-1px;top:-1px"><path d="M6.9 8.7V12.6H10.8" fill="none" stroke="#000" stroke-width="1.35" stroke-linejoin="miter"/><path d="M7.2 12.3L10.6 8.9" stroke="#000" stroke-width="1.0"/><path d="M12.1 3.6H16V7.5" fill="none" stroke="#000" stroke-width="1.35" stroke-linejoin="miter"/><path d="M15.7 3.9L12.3 7.3" stroke="#000" stroke-width="1.0"/></svg></div><div class="t dn" style="left:1659px;width:34.8px;top:99.55px">Wed</div><div class="a" style="left:1717px;top:98px;width:1px;height:23px;background:#7189a1"></div><div class="bt" style="left:1753.8px;top:102.1px;width:21.8px;height:15.6px"><svg width="22" height="16" viewBox="0 0 22 16" style="position:absolute;left:-1px;top:-1px"><path d="M6.9 8.7V12.6H10.8" fill="none" stroke="#000" stroke-width="1.35" stroke-linejoin="miter"/><path d="M7.2 12.3L10.6 8.9" stroke="#000" stroke-width="1.0"/><path d="M12.1 3.6H16V7.5" fill="none" stroke="#000" stroke-width="1.35" stroke-linejoin="miter"/><path d="M15.7 3.9L12.3 7.3" stroke="#000" stroke-width="1.0"/></svg></div><div class="t dn" style="left:1719px;width:35.8px;top:99.55px">Thu</div><div class="a" style="left:69px;top:121px;width:1700px;height:1px;background:#7b7b7b"></div>
<div class="a" style="left:0;top:406px;width:69px;height:2px;background:#2c4e6e"></div><div class="a" style="left:69px;top:407px;width:1700px;height:2px;background:#2c4e6e"></div><div class="a" style="left:70px;top:409px;width:1700px;height:108px;background:#f3f8fd"></div><div class="a" style="left:70px;top:517px;width:1700px;height:109px;background:#fff"></div><div class="a" style="left:0;top:625px;width:69px;height:2px;background:#2c4e6e"></div><div class="a" style="left:69px;top:626px;width:1700px;height:2px;background:#2c4e6e"></div><div class="a" style="left:0;top:627px;width:69px;height:45px;background:#fdfdf1"></div><div class="a" style="left:70px;top:628px;width:1700px;height:44px;background:#fdfdf1"></div><div class="a" style="left:70px;top:672px;width:1700px;height:1px;background:#efefef"></div><div class="a" style="left:70px;top:673px;width:1700px;height:79px;background:#fff"></div><div class="a" style="left:0;top:751px;width:69px;height:1px;background:#2e5478"></div><div class="a" style="left:69px;top:752px;width:1700px;height:1px;background:#2e5478"></div><div class="a" style="left:0;top:752px;width:68px;height:28px;background:#f7f7f7"></div><div class="a" style="left:71px;top:754.5px;width:1700px;height:26px;background:#f8f8f8"></div><div class="a" style="left:70px;top:753px;width:1700px;height:1.5px;background:#fff"></div><div class="a" style="left:69px;top:407px;width:1px;height:373px;background:#808080"></div><div class="a" style="left:130px;top:409px;width:1px;height:343px;background:#8a8a8a"></div><div class="a" style="left:192px;top:409px;width:1px;height:343px;background:#8a8a8a"></div><div class="a" style="left:252px;top:409px;width:1px;height:343px;background:#8a8a8a"></div><div class="a" style="left:317px;top:409px;width:1px;height:343px;background:#8a8a8a"></div><div class="a" style="left:377px;top:409px;width:1px;height:343px;background:#8a8a8a"></div><div class="a" style="left:437px;top:409px;width:1px;height:343px;background:#8a8a8a"></div><div class="a" style="left:498px;top:409px;width:1px;height:343px;background:#8a8a8a"></div><div class="a" style="left:558px;top:409px;width:1px;height:343px;background:#8a8a8a"></div><div class="a" style="left:618px;top:409px;width:1px;height:343px;background:#8a8a8a"></div><div class="a" style="left:683px;top:409px;width:1px;height:343px;background:#8a8a8a"></div><div class="a" style="left:746px;top:409px;width:1px;height:343px;background:#8a8a8a"></div><div class="a" style="left:806px;top:409px;width:1px;height:343px;background:#8a8a8a"></div><div class="a" style="left:866px;top:409px;width:1px;height:343px;background:#8a8a8a"></div><div class="a" style="left:926px;top:409px;width:1px;height:343px;background:#8a8a8a"></div><div class="a" style="left:986px;top:409px;width:1px;height:343px;background:#8a8a8a"></div><div class="a" style="left:1046px;top:409px;width:1px;height:343px;background:#8a8a8a"></div><div class="a" style="left:1106px;top:409px;width:1px;height:343px;background:#8a8a8a"></div><div class="a" style="left:1168px;top:409px;width:1px;height:343px;background:#8a8a8a"></div><div class="a" style="left:1228px;top:409px;width:1px;height:343px;background:#8a8a8a"></div><div class="a" style="left:1288px;top:409px;width:1px;height:343px;background:#8a8a8a"></div><div class="a" style="left:1348px;top:409px;width:1px;height:343px;background:#8a8a8a"></div><div class="a" style="left:1408px;top:409px;width:1px;height:343px;background:#8a8a8a"></div><div class="a" style="left:1469px;top:409px;width:1px;height:343px;background:#8a8a8a"></div><div class="a" style="left:1529px;top:409px;width:1px;height:343px;background:#8a8a8a"></div><div class="a" style="left:1592px;top:409px;width:1px;height:343px;background:#8a8a8a"></div><div class="a" style="left:1657px;top:409px;width:1px;height:343px;background:#8a8a8a"></div><div class="a" style="left:1717px;top:409px;width:1px;height:343px;background:#8a8a8a"></div><div class="t" style="left:0px;width:69px;top:445.85px;font-size:14px;line-height:16px;color:#3a7bbf;font-weight:bold;">HIGH</div><div class="t" style="left:0px;width:69px;top:461.62px;font-size:13.5px;line-height:16px;color:#333;">(PST)</div><div class="t" style="left:0px;width:69px;top:554.65px;font-size:14px;line-height:16px;color:#15858f;font-weight:bold;">LOW</div><div class="t" style="left:0px;width:69px;top:571.32px;font-size:13.5px;line-height:16px;color:#333;">(PST)</div><div class="t" style="left:0px;width:69px;top:643.12px;font-size:13.5px;line-height:16px;color:#222;">Sun</div><svg class="a" style="left:31px;top:635.4px" width="8" height="6"><path d="M3.85 0L7.7 5.5H0Z" fill="#000"/></svg><svg class="a" style="left:31px;top:658.2px" width="8" height="6"><path d="M0 0H7.7L3.85 5.5Z" fill="#000"/></svg><div class="t" style="left:0px;width:69px;top:684.55px;font-size:14px;line-height:16px;color:#222;letter-spacing:0.6px">Moon</div><div class="t" style="left:0px;width:69px;top:711.82px;font-size:13.5px;line-height:16px;color:#222;">Set</div><div class="t" style="left:0px;width:69px;top:731.72px;font-size:13.5px;line-height:16px;color:#222;">Rise</div><div class="t tm hi" style="left:70px;width:60px;top:417.37px">9:49AM</div><div class="t v" style="left:70px;width:60px;top:430.64px">1.59m</div><div class="t v" style="left:70px;width:60px;top:444.64px">(5.22ft)</div><div class="t tm hi" style="left:70px;width:60px;top:466.97px">9:33PM</div><div class="t v" style="left:70px;width:60px;top:480.24px">1.52m</div><div class="t v" style="left:70px;width:60px;top:494.24px">(4.99ft)</div><div class="a" style="left:74px;top:463px;width:52px;height:1px;background:#e6eaee"></div><div class="t tm lo" style="left:70px;width:60px;top:526.47px">3:15AM</div><div class="t v" style="left:70px;width:60px;top:539.74px">0.38m</div><div class="t v" style="left:70px;width:60px;top:553.74px">(1.25ft)</div><div class="t tm lo" style="left:70px;width:60px;top:576.37px">3:44PM</div><div class="t v" style="left:70px;width:60px;top:589.64px">0.75m</div><div class="t v" style="left:70px;width:60px;top:603.64px">(2.46ft)</div><div class="a" style="left:74px;top:572px;width:52px;height:1px;background:#ebebeb"></div><div class="t s" style="left:70px;width:60px;top:633.84px">5:58AM</div><div class="t s" style="left:70px;width:60px;top:653.64px">5:22PM</div><svg class="a" style="left:89.50px;top:679.50px" width="24" height="24" viewBox="89.50 679.50 24 24"><circle cx="101.5" cy="691.5" r="9.2" fill="#fff"/><path d="M101.5 682.3 A9.2 9.2 0 0 0 101.5 700.7 A0.460 9.2 0 0 0 101.5 682.3Z" fill="#9a9a9a" stroke="#000" stroke-width="1"/><circle cx="101.5" cy="691.5" r="9.2" fill="none" stroke="#000" stroke-width="1.3"/></svg><div class="t s" style="left:70px;width:60px;top:712.54px">10:39PM</div><div class="t s" style="left:70px;width:60px;top:732.34px">10:26AM</div><div class="t tm hi" style="left:131px;width:61px;top:417.37px">10:34AM</div><div class="t v" style="left:131px;width:61px;top:430.64px">1.59m</div><div class="t v" style="left:131px;width:61px;top:444.64px">(5.22ft)</div><div class="t tm hi" style="left:131px;width:61px;top:466.97px">10:42PM</div><div class="t v" style="left:131px;width:61px;top:480.24px">1.42m</div><div class="t v" style="left:131px;width:61px;top:494.24px">(4.66ft)</div><div class="a" style="left:135px;top:463px;width:53px;height:1px;background:#e6eaee"></div><div class="t tm lo" style="left:131px;width:61px;top:526.47px">3:59AM</div><div class="t v" style="left:131px;width:61px;top:539.74px">0.50m</div><div class="t v" style="left:131px;width:61px;top:553.74px">(1.64ft)</div><div class="t tm lo" style="left:131px;width:61px;top:576.37px">4:47PM</div><div class="t v" style="left:131px;width:61px;top:589.64px">0.71m</div><div class="t v" style="left:131px;width:61px;top:603.64px">(2.33ft)</div><div class="a" style="left:135px;top:572px;width:53px;height:1px;background:#ebebeb"></div><div class="t s" style="left:131px;width:61px;top:633.84px">5:59AM</div><div class="t s" style="left:131px;width:61px;top:653.64px">5:23PM</div><svg class="a" style="left:151.00px;top:679.50px" width="24" height="24" viewBox="151.00 679.50 24 24"><circle cx="163.0" cy="691.5" r="9.2" fill="#fff"/><path d="M163.0 682.3 A9.2 9.2 0 0 0 163.0 700.7 A0.000 9.2 0 0 1 163.0 682.3Z" fill="#9a9a9a" stroke="#000" stroke-width="1"/><circle cx="163.0" cy="691.5" r="9.2" fill="none" stroke="#000" stroke-width="1.3"/></svg><div class="t s" style="left:131px;width:61px;top:712.54px">11:29PM</div><div class="t s" style="left:131px;width:61px;top:732.34px">11:04AM</div><div class="t tm hi" style="left:193px;width:59px;top:442.47px">11:25AM</div><div class="t v" style="left:193px;width:59px;top:455.74px">1.60m</div><div class="t v" style="left:193px;width:59px;top:469.74px">(5.25ft)</div><div class="t tm lo" style="left:193px;width:59px;top:526.47px">4:51AM</div><div class="t v" style="left:193px;width:59px;top:539.74px">0.63m</div><div class="t v" style="left:193px;width:59px;top:553.74px">(2.07ft)</div><div class="t tm lo" style="left:193px;width:59px;top:576.37px">6:01PM</div><div class="t v" style="left:193px;width:59px;top:589.64px">0.64m</div><div class="t v" style="left:193px;width:59px;top:603.64px">(2.1ft)</div><div class="a" style="left:197px;top:572px;width:51px;height:1px;background:#ebebeb"></div><div class="t s" style="left:193px;width:59px;top:633.84px">5:59AM</div><div class="t s" style="left:193px;width:59px;top:653.64px">5:23PM</div><svg class="a" style="left:212.00px;top:679.50px" width="24" height="24" viewBox="212.00 679.50 24 24"><circle cx="224.0" cy="691.5" r="9.2" fill="#fff"/><path d="M224.0 682.3 A9.2 9.2 0 0 0 224.0 700.7 A1.564 9.2 0 0 1 224.0 682.3Z" fill="#9a9a9a" stroke="#000" stroke-width="1"/><circle cx="224.0" cy="691.5" r="9.2" fill="none" stroke="#000" stroke-width="1.3"/></svg><div class="t s" style="left:193px;width:59px;top:732.34px">11:44AM</div><div class="t tm hi" style="left:253px;width:64px;top:417.37px">00:09AM</div><div class="t v" style="left:253px;width:64px;top:430.64px">1.36m</div><div class="t v" style="left:253px;width:64px;top:444.64px">(4.46ft)</div><div class="t tm hi" style="left:253px;width:64px;top:466.97px">12:24PM</div><div class="t v" style="left:253px;width:64px;top:480.24px">1.63m</div><div class="t v" style="left:253px;width:64px;top:494.24px">(5.35ft)</div><div class="a" style="left:257px;top:463px;width:56px;height:1px;background:#e6eaee"></div><div class="t tm lo" style="left:253px;width:64px;top:526.47px">5:55AM</div><div class="t v" style="left:253px;width:64px;top:539.74px">0.75m</div><div class="t v" style="left:253px;width:64px;top:553.74px">(2.46ft)</div><div class="t tm lo" style="left:253px;width:64px;top:576.37px">7:18PM</div><div class="t v" style="left:253px;width:64px;top:589.64px">0.52m</div><div class="t v" style="left:253px;width:64px;top:603.64px">(1.71ft)</div><div class="a" style="left:257px;top:572px;width:56px;height:1px;background:#ebebeb"></div><div class="t s" style="left:253px;width:64px;top:633.84px">6:00AM</div><div class="t s" style="left:253px;width:64px;top:653.64px">5:24PM</div><svg class="a" style="left:274.50px;top:679.50px" width="24" height="24" viewBox="274.50 679.50 24 24"><circle cx="286.5" cy="691.5" r="9.2" fill="#fff"/><path d="M286.5 682.3 A9.2 9.2 0 0 0 286.5 700.7 A2.300 9.2 0 0 1 286.5 682.3Z" fill="#9a9a9a" stroke="#000" stroke-width="1"/><circle cx="286.5" cy="691.5" r="9.2" fill="none" stroke="#000" stroke-width="1.3"/></svg><div class="t s" style="left:253px;width:64px;top:712.54px">00:22AM</div><div class="t s" style="left:253px;width:64px;top:732.34px">12:26PM</div><div class="t tm hi" style="left:318px;width:59px;top:417.37px">1:45AM</div><div class="t v" style="left:318px;width:59px;top:430.64px">1.37m</div><div class="t v" style="left:318px;width:59px;top:444.64px">(4.49ft)</div><div class="t tm hi" style="left:318px;width:59px;top:466.97px">1:28PM</div><div class="t v" style="left:318px;width:59px;top:480.24px">1.68m</div><div class="t v" style="left:318px;width:59px;top:494.24px">(5.51ft)</div><div class="a" style="left:322px;top:463px;width:51px;height:1px;background:#e6eaee"></div><div class="t tm lo" style="left:318px;width:59px;top:526.47px">7:10AM</div><div class="t v" style="left:318px;width:59px;top:539.74px">0.83m</div><div class="t v" style="left:318px;width:59px;top:553.74px">(2.72ft)</div><div class="t tm lo" style="left:318px;width:59px;top:576.37px">8:29PM</div><div class="t v" style="left:318px;width:59px;top:589.64px">0.36m</div><div class="t v" style="left:318px;width:59px;top:603.64px">(1.18ft)</div><div class="a" style="left:322px;top:572px;width:51px;height:1px;background:#ebebeb"></div><div class="t s" style="left:318px;width:59px;top:633.84px">6:00AM</div><div class="t s" style="left:318px;width:59px;top:653.64px">5:24PM</div><svg class="a" style="left:337.00px;top:679.50px" width="24" height="24" viewBox="337.00 679.50 24 24"><circle cx="349.0" cy="691.5" r="9.2" fill="#fff"/><path d="M349.0 682.3 A9.2 9.2 0 0 0 349.0 700.7 A4.048 9.2 0 0 1 349.0 682.3Z" fill="#9a9a9a" stroke="#000" stroke-width="1"/><circle cx="349.0" cy="691.5" r="9.2" fill="none" stroke="#000" stroke-width="1.3"/></svg><div class="t s" style="left:318px;width:59px;top:712.54px">1:19AM</div><div class="t s" style="left:318px;width:59px;top:732.34px">1:13PM</div><div class="t tm hi" style="left:378px;width:59px;top:417.37px">3:08AM</div><div class="t v" style="left:378px;width:59px;top:430.64px">1.44m</div><div class="t v" style="left:378px;width:59px;top:444.64px">(4.72ft)</div><div class="t tm hi" style="left:378px;width:59px;top:466.97px">2:30PM</div><div class="t v" style="left:378px;width:59px;top:480.24px">1.76m</div><div class="t v" style="left:378px;width:59px;top:494.24px">(5.78ft)</div><div class="a" style="left:382px;top:463px;width:51px;height:1px;background:#e6eaee"></div><div class="t tm lo" style="left:378px;width:59px;top:526.47px">8:24AM</div><div class="t v" style="left:378px;width:59px;top:539.74px">0.86m</div><div class="t v" style="left:378px;width:59px;top:553.74px">(2.82ft)</div><div class="t tm lo" style="left:378px;width:59px;top:576.37px">9:31PM</div><div class="t v" style="left:378px;width:59px;top:589.64px">0.20m</div><div class="t v" style="left:378px;width:59px;top:603.64px">(0.66ft)</div><div class="a" style="left:382px;top:572px;width:51px;height:1px;background:#ebebeb"></div><div class="t s" style="left:378px;width:59px;top:633.84px">6:00AM</div><div class="t s" style="left:378px;width:59px;top:653.64px">5:25PM</div><svg class="a" style="left:397.00px;top:679.50px" width="24" height="24" viewBox="397.00 679.50 24 24"><circle cx="409.0" cy="691.5" r="9.2" fill="#fff"/><path d="M409.0 682.3 A9.2 9.2 0 0 0 409.0 700.7 A5.336 9.2 0 0 1 409.0 682.3Z" fill="#9a9a9a" stroke="#000" stroke-width="1"/><circle cx="409.0" cy="691.5" r="9.2" fill="none" stroke="#000" stroke-width="1.3"/></svg><div class="t s" style="left:378px;width:59px;top:712.54px">2:20AM</div><div class="t s" style="left:378px;width:59px;top:732.34px">2:06PM</div><div class="t tm hi" style="left:438px;width:60px;top:417.37px">4:13AM</div><div class="t v" style="left:438px;width:60px;top:430.64px">1.55m</div><div class="t v" style="left:438px;width:60px;top:444.64px">(5.09ft)</div><div class="t tm hi" style="left:438px;width:60px;top:466.97px">3:29PM</div><div class="t v" style="left:438px;width:60px;top:480.24px">1.85m</div><div class="t v" style="left:438px;width:60px;top:494.24px">(6.07ft)</div><div class="a" style="left:442px;top:463px;width:52px;height:1px;background:#e6eaee"></div><div class="t tm lo" style="left:438px;width:60px;top:526.47px">9:30AM</div><div class="t v" style="left:438px;width:60px;top:539.74px">0.84m</div><div class="t v" style="left:438px;width:60px;top:553.74px">(2.75ft)</div><div class="t tm lo" style="left:438px;width:60px;top:576.37px">10:26PM</div><div class="t v" style="left:438px;width:60px;top:589.64px">0.06m</div><div class="t v" style="left:438px;width:60px;top:603.64px">(0.2ft)</div><div class="a" style="left:442px;top:572px;width:52px;height:1px;background:#ebebeb"></div><div class="t s" style="left:438px;width:60px;top:633.84px">6:01AM</div><div class="t s" style="left:438px;width:60px;top:653.64px">5:26PM</div><svg class="a" style="left:457.50px;top:679.50px" width="24" height="24" viewBox="457.50 679.50 24 24"><circle cx="469.5" cy="691.5" r="9.2" fill="#fff"/><path d="M469.5 682.3 A9.2 9.2 0 0 0 469.5 700.7 A6.900 9.2 0 0 1 469.5 682.3Z" fill="#9a9a9a" stroke="#000" stroke-width="1"/><circle cx="469.5" cy="691.5" r="9.2" fill="none" stroke="#000" stroke-width="1.3"/></svg><div class="t s" style="left:438px;width:60px;top:712.54px">3:25AM</div><div class="t s" style="left:438px;width:60px;top:732.34px">3:05PM</div><div class="t tm hi" style="left:499px;width:59px;top:417.37px">5:06AM</div><div class="t v" style="left:499px;width:59px;top:430.64px">1.64m</div><div class="t v" style="left:499px;width:59px;top:444.64px">(5.38ft)</div><div class="t tm hi" style="left:499px;width:59px;top:466.97px">4:23PM</div><div class="t v" style="left:499px;width:59px;top:480.24px">1.94m</div><div class="t v" style="left:499px;width:59px;top:494.24px">(6.37ft)</div><div class="a" style="left:503px;top:463px;width:51px;height:1px;background:#e6eaee"></div><div class="t tm lo" style="left:499px;width:59px;top:526.47px">10:27AM</div><div class="t v" style="left:499px;width:59px;top:539.74px">0.79m</div><div class="t v" style="left:499px;width:59px;top:553.74px">(2.59ft)</div><div class="t tm lo" style="left:499px;width:59px;top:576.37px">11:16PM</div><div class="t v" style="left:499px;width:59px;top:589.64px">-0.04m</div><div class="t v" style="left:499px;width:59px;top:603.64px">(-0.13ft)</div><div class="a" style="left:503px;top:572px;width:51px;height:1px;background:#ebebeb"></div><div class="t s" style="left:499px;width:59px;top:633.84px">6:01AM</div><div class="t s" style="left:499px;width:59px;top:653.64px">5:26PM</div><svg class="a" style="left:518.00px;top:679.50px" width="24" height="24" viewBox="518.00 679.50 24 24"><circle cx="530.0" cy="691.5" r="9.2" fill="#fff"/><path d="M530.0 682.3 A9.2 9.2 0 0 0 530.0 700.7 A7.912 9.2 0 0 1 530.0 682.3Z" fill="#9a9a9a" stroke="#000" stroke-width="1"/><circle cx="530.0" cy="691.5" r="9.2" fill="none" stroke="#000" stroke-width="1.3"/></svg><div class="t s" style="left:499px;width:59px;top:712.54px">4:33AM</div><div class="t s" style="left:499px;width:59px;top:732.34px">4:11PM</div><div class="t tm hi" style="left:559px;width:59px;top:417.37px">5:53AM</div><div class="t v" style="left:559px;width:59px;top:430.64px">1.71m</div><div class="t v" style="left:559px;width:59px;top:444.64px">(5.61ft)</div><div class="t tm hi" style="left:559px;width:59px;top:466.97px">5:14PM</div><div class="t v" style="left:559px;width:59px;top:480.24px">2.00m</div><div class="t v" style="left:559px;width:59px;top:494.24px">(6.56ft)</div><div class="a" style="left:563px;top:463px;width:51px;height:1px;background:#e6eaee"></div><div class="t tm lo" style="left:559px;width:59px;top:551.47px">11:18AM</div><div class="t v" style="left:559px;width:59px;top:564.74px">0.72m</div><div class="t v" style="left:559px;width:59px;top:578.74px">(2.36ft)</div><div class="t s" style="left:559px;width:59px;top:633.84px">6:02AM</div><div class="t s" style="left:559px;width:59px;top:653.64px">5:27PM</div><svg class="a" style="left:578.00px;top:679.50px" width="24" height="24" viewBox="578.00 679.50 24 24"><circle cx="590.0" cy="691.5" r="9.2" fill="#fff"/><circle cx="590.0" cy="691.5" r="9.2" fill="none" stroke="#000" stroke-width="1.3"/></svg><div class="t s" style="left:559px;width:59px;top:712.54px">5:40AM</div><div class="t s" style="left:559px;width:59px;top:732.34px">5:18PM</div><div class="t tm hi" style="left:619px;width:64px;top:417.37px">6:37AM</div><div class="t v" style="left:619px;width:64px;top:430.64px">1.75m</div><div class="t v" style="left:619px;width:64px;top:444.64px">(5.74ft)</div><div class="t tm hi" style="left:619px;width:64px;top:466.97px">6:02PM</div><div class="t v" style="left:619px;width:64px;top:480.24px">2.02m</div><div class="t v" style="left:619px;width:64px;top:494.24px">(6.63ft)</div><div class="a" style="left:623px;top:463px;width:56px;height:1px;background:#e6eaee"></div><div class="t tm lo" style="left:619px;width:64px;top:526.47px">00:03AM</div><div class="t v" style="left:619px;width:64px;top:539.74px">-0.08m</div><div class="t v" style="left:619px;width:64px;top:553.74px">(-0.26ft)</div><div class="t tm lo" style="left:619px;width:64px;top:576.37px">12:06PM</div><div class="t v" style="left:619px;width:64px;top:589.64px">0.67m</div><div class="t v" style="left:619px;width:64px;top:603.64px">(2.2ft)</div><div class="a" style="left:623px;top:572px;width:56px;height:1px;background:#ebebeb"></div><div class="t s" style="left:619px;width:64px;top:633.84px">6:02AM</div><div class="t s" style="left:619px;width:64px;top:653.64px">5:27PM</div><svg class="a" style="left:640.50px;top:679.50px" width="24" height="24" viewBox="640.50 679.50 24 24"><circle cx="652.5" cy="691.5" r="9.2" fill="#fff"/><path d="M652.5 682.3 A9.2 9.2 0 0 1 652.5 700.7 A7.360 9.2 0 0 0 652.5 682.3Z" fill="#9a9a9a" stroke="#000" stroke-width="1"/><circle cx="652.5" cy="691.5" r="9.2" fill="none" stroke="#000" stroke-width="1.3"/></svg><div class="t s" style="left:619px;width:64px;top:712.54px">6:42AM</div><div class="t s" style="left:619px;width:64px;top:732.34px">6:25PM</div><div class="t tm hi" style="left:684px;width:62px;top:417.37px">7:18AM</div><div class="t v" style="left:684px;width:62px;top:430.64px">1.77m</div><div class="t v" style="left:684px;width:62px;top:444.64px">(5.81ft)</div><div class="t tm hi" style="left:684px;width:62px;top:466.97px">6:49PM</div><div class="t v" style="left:684px;width:62px;top:480.24px">1.98m</div><div class="t v" style="left:684px;width:62px;top:494.24px">(6.5ft)</div><div class="a" style="left:688px;top:463px;width:54px;height:1px;background:#e6eaee"></div><div class="t tm lo" style="left:684px;width:62px;top:526.47px">00:47AM</div><div class="t v" style="left:684px;width:62px;top:539.74px">-0.07m</div><div class="t v" style="left:684px;width:62px;top:553.74px">(-0.23ft)</div><div class="t tm lo" style="left:684px;width:62px;top:576.37px">12:51PM</div><div class="t v" style="left:684px;width:62px;top:589.64px">0.63m</div><div class="t v" style="left:684px;width:62px;top:603.64px">(2.07ft)</div><div class="a" style="left:688px;top:572px;width:54px;height:1px;background:#ebebeb"></div><div class="t s" style="left:684px;width:62px;top:633.84px">6:02AM</div><div class="t s" style="left:684px;width:62px;top:653.64px">5:28PM</div><svg class="a" style="left:704.50px;top:679.50px" width="24" height="24" viewBox="704.50 679.50 24 24"><circle cx="716.5" cy="691.5" r="9.2" fill="#fff"/><path d="M716.5 682.3 A9.2 9.2 0 0 1 716.5 700.7 A6.164 9.2 0 0 0 716.5 682.3Z" fill="#9a9a9a" stroke="#000" stroke-width="1"/><circle cx="716.5" cy="691.5" r="9.2" fill="none" stroke="#000" stroke-width="1.3"/></svg><div class="t s" style="left:684px;width:62px;top:712.54px">7:38AM</div><div class="t s" style="left:684px;width:62px;top:732.34px">7:27PM</div><div class="t tm hi" style="left:747px;width:59px;top:417.37px">7:58AM</div><div class="t v" style="left:747px;width:59px;top:430.64px">1.76m</div><div class="t v" style="left:747px;width:59px;top:444.64px">(5.77ft)</div><div class="t tm hi" style="left:747px;width:59px;top:466.97px">7:34PM</div><div class="t v" style="left:747px;width:59px;top:480.24px">1.90m</div><div class="t v" style="left:747px;width:59px;top:494.24px">(6.23ft)</div><div class="a" style="left:751px;top:463px;width:51px;height:1px;background:#e6eaee"></div><div class="t tm lo" style="left:747px;width:59px;top:526.47px">1:29AM</div><div class="t v" style="left:747px;width:59px;top:539.74px">0.00m</div><div class="t v" style="left:747px;width:59px;top:553.74px">(0ft)</div><div class="t tm lo" style="left:747px;width:59px;top:576.37px">1:36PM</div><div class="t v" style="left:747px;width:59px;top:589.64px">0.61m</div><div class="t v" style="left:747px;width:59px;top:603.64px">(2ft)</div><div class="a" style="left:751px;top:572px;width:51px;height:1px;background:#ebebeb"></div><div class="t s" style="left:747px;width:59px;top:633.84px">6:03AM</div><div class="t s" style="left:747px;width:59px;top:653.64px">5:28PM</div><svg class="a" style="left:766.00px;top:679.50px" width="24" height="24" viewBox="766.00 679.50 24 24"><circle cx="778.0" cy="691.5" r="9.2" fill="#fff"/><path d="M778.0 682.3 A9.2 9.2 0 0 1 778.0 700.7 A4.508 9.2 0 0 0 778.0 682.3Z" fill="#9a9a9a" stroke="#000" stroke-width="1"/><circle cx="778.0" cy="691.5" r="9.2" fill="none" stroke="#000" stroke-width="1.3"/></svg><div class="t s" style="left:747px;width:59px;top:712.54px">8:26AM</div><div class="t s" style="left:747px;width:59px;top:732.34px">8:24PM</div><div class="t tm hi" style="left:807px;width:59px;top:417.37px">8:36AM</div><div class="t v" style="left:807px;width:59px;top:430.64px">1.73m</div><div class="t v" style="left:807px;width:59px;top:444.64px">(5.68ft)</div><div class="t tm hi" style="left:807px;width:59px;top:466.97px">8:18PM</div><div class="t v" style="left:807px;width:59px;top:480.24px">1.77m</div><div class="t v" style="left:807px;width:59px;top:494.24px">(5.81ft)</div><div class="a" style="left:811px;top:463px;width:51px;height:1px;background:#e6eaee"></div><div class="t tm lo" style="left:807px;width:59px;top:526.47px">2:08AM</div><div class="t v" style="left:807px;width:59px;top:539.74px">0.12m</div><div class="t v" style="left:807px;width:59px;top:553.74px">(0.39ft)</div><div class="t tm lo" style="left:807px;width:59px;top:576.37px">2:22PM</div><div class="t v" style="left:807px;width:59px;top:589.64px">0.61m</div><div class="t v" style="left:807px;width:59px;top:603.64px">(2ft)</div><div class="a" style="left:811px;top:572px;width:51px;height:1px;background:#ebebeb"></div><div class="t s" style="left:807px;width:59px;top:633.84px">6:03AM</div><div class="t s" style="left:807px;width:59px;top:653.64px">5:29PM</div><svg class="a" style="left:826.00px;top:679.50px" width="24" height="24" viewBox="826.00 679.50 24 24"><circle cx="838.0" cy="691.5" r="9.2" fill="#fff"/><path d="M838.0 682.3 A9.2 9.2 0 0 1 838.0 700.7 A3.772 9.2 0 0 0 838.0 682.3Z" fill="#9a9a9a" stroke="#000" stroke-width="1"/><circle cx="838.0" cy="691.5" r="9.2" fill="none" stroke="#000" stroke-width="1.3"/></svg><div class="t s" style="left:807px;width:59px;top:712.54px">9:09AM</div><div class="t s" style="left:807px;width:59px;top:732.34px">9:16PM</div><div class="t tm hi" style="left:867px;width:59px;top:417.37px">9:14AM</div><div class="t v" style="left:867px;width:59px;top:430.64px">1.69m</div><div class="t v" style="left:867px;width:59px;top:444.64px">(5.54ft)</div><div class="t tm hi" style="left:867px;width:59px;top:466.97px">9:04PM</div><div class="t v" style="left:867px;width:59px;top:480.24px">1.62m</div><div class="t v" style="left:867px;width:59px;top:494.24px">(5.32ft)</div><div class="a" style="left:871px;top:463px;width:51px;height:1px;background:#e6eaee"></div><div class="t tm lo" style="left:867px;width:59px;top:526.47px">2:46AM</div><div class="t v" style="left:867px;width:59px;top:539.74px">0.26m</div><div class="t v" style="left:867px;width:59px;top:553.74px">(0.85ft)</div><div class="t tm lo" style="left:867px;width:59px;top:576.37px">3:09PM</div><div class="t v" style="left:867px;width:59px;top:589.64px">0.63m</div><div class="t v" style="left:867px;width:59px;top:603.64px">(2.07ft)</div><div class="a" style="left:871px;top:572px;width:51px;height:1px;background:#ebebeb"></div><div class="t s" style="left:867px;width:59px;top:633.84px">6:03AM</div><div class="t s" style="left:867px;width:59px;top:653.64px">5:29PM</div><svg class="a" style="left:886.00px;top:679.50px" width="24" height="24" viewBox="886.00 679.50 24 24"><circle cx="898.0" cy="691.5" r="9.2" fill="#fff"/><path d="M898.0 682.3 A9.2 9.2 0 0 1 898.0 700.7 A2.576 9.2 0 0 0 898.0 682.3Z" fill="#9a9a9a" stroke="#000" stroke-width="1"/><circle cx="898.0" cy="691.5" r="9.2" fill="none" stroke="#000" stroke-width="1.3"/></svg><div class="t s" style="left:867px;width:59px;top:712.54px">9:48AM</div><div class="t s" style="left:867px;width:59px;top:732.34px">10:05PM</div><div class="t tm hi" style="left:927px;width:59px;top:417.37px">9:52AM</div><div class="t v" style="left:927px;width:59px;top:430.64px">1.64m</div><div class="t v" style="left:927px;width:59px;top:444.64px">(5.38ft)</div><div class="t tm hi" style="left:927px;width:59px;top:466.97px">9:54PM</div><div class="t v" style="left:927px;width:59px;top:480.24px">1.47m</div><div class="t v" style="left:927px;width:59px;top:494.24px">(4.82ft)</div><div class="a" style="left:931px;top:463px;width:51px;height:1px;background:#e6eaee"></div><div class="t tm lo" style="left:927px;width:59px;top:526.47px">3:23AM</div><div class="t v" style="left:927px;width:59px;top:539.74px">0.43m</div><div class="t v" style="left:927px;width:59px;top:553.74px">(1.41ft)</div><div class="t tm lo" style="left:927px;width:59px;top:576.37px">3:59PM</div><div class="t v" style="left:927px;width:59px;top:589.64px">0.66m</div><div class="t v" style="left:927px;width:59px;top:603.64px">(2.17ft)</div><div class="a" style="left:931px;top:572px;width:51px;height:1px;background:#ebebeb"></div><div class="t s" style="left:927px;width:59px;top:633.84px">6:04AM</div><div class="t s" style="left:927px;width:59px;top:653.64px">5:30PM</div><svg class="a" style="left:946.00px;top:679.50px" width="24" height="24" viewBox="946.00 679.50 24 24"><circle cx="958.0" cy="691.5" r="9.2" fill="#fff"/><path d="M958.0 682.3 A9.2 9.2 0 0 1 958.0 700.7 A0.828 9.2 0 0 0 958.0 682.3Z" fill="#9a9a9a" stroke="#000" stroke-width="1"/><circle cx="958.0" cy="691.5" r="9.2" fill="none" stroke="#000" stroke-width="1.3"/></svg><div class="t s" style="left:927px;width:59px;top:712.54px">10:25AM</div><div class="t s" style="left:927px;width:59px;top:732.34px">10:53PM</div><div class="t tm hi" style="left:987px;width:59px;top:417.37px">10:31AM</div><div class="t v" style="left:987px;width:59px;top:430.64px">1.59m</div><div class="t v" style="left:987px;width:59px;top:444.64px">(5.22ft)</div><div class="t tm hi" style="left:987px;width:59px;top:466.97px">10:55PM</div><div class="t v" style="left:987px;width:59px;top:480.24px">1.33m</div><div class="t v" style="left:987px;width:59px;top:494.24px">(4.36ft)</div><div class="a" style="left:991px;top:463px;width:51px;height:1px;background:#e6eaee"></div><div class="t tm lo" style="left:987px;width:59px;top:526.47px">4:00AM</div><div class="t v" style="left:987px;width:59px;top:539.74px">0.60m</div><div class="t v" style="left:987px;width:59px;top:553.74px">(1.97ft)</div><div class="t tm lo" style="left:987px;width:59px;top:576.37px">4:56PM</div><div class="t v" style="left:987px;width:59px;top:589.64px">0.69m</div><div class="t v" style="left:987px;width:59px;top:603.64px">(2.26ft)</div><div class="a" style="left:991px;top:572px;width:51px;height:1px;background:#ebebeb"></div><div class="t s" style="left:987px;width:59px;top:633.84px">6:04AM</div><div class="t s" style="left:987px;width:59px;top:653.64px">5:31PM</div><svg class="a" style="left:1006.00px;top:679.50px" width="24" height="24" viewBox="1006.00 679.50 24 24"><circle cx="1018.0" cy="691.5" r="9.2" fill="#fff"/><path d="M1018.0 682.3 A9.2 9.2 0 0 1 1018.0 700.7 A0.000 9.2 0 0 0 1018.0 682.3Z" fill="#9a9a9a" stroke="#000" stroke-width="1"/><circle cx="1018.0" cy="691.5" r="9.2" fill="none" stroke="#000" stroke-width="1.3"/></svg><div class="t s" style="left:987px;width:59px;top:712.54px">11:00AM</div><div class="t s" style="left:987px;width:59px;top:732.34px">11:39PM</div><div class="t tm hi" style="left:1047px;width:59px;top:442.47px">11:16AM</div><div class="t v" style="left:1047px;width:59px;top:455.74px">1.54m</div><div class="t v" style="left:1047px;width:59px;top:469.74px">(5.05ft)</div><div class="t tm lo" style="left:1047px;width:59px;top:526.47px">4:42AM</div><div class="t v" style="left:1047px;width:59px;top:539.74px">0.76m</div><div class="t v" style="left:1047px;width:59px;top:553.74px">(2.49ft)</div><div class="t tm lo" style="left:1047px;width:59px;top:576.37px">6:05PM</div><div class="t v" style="left:1047px;width:59px;top:589.64px">0.70m</div><div class="t v" style="left:1047px;width:59px;top:603.64px">(2.3ft)</div><div class="a" style="left:1051px;top:572px;width:51px;height:1px;background:#ebebeb"></div><div class="t s" style="left:1047px;width:59px;top:633.84px">6:04AM</div><div class="t s" style="left:1047px;width:59px;top:653.64px">5:31PM</div><svg class="a" style="left:1066.00px;top:679.50px" width="24" height="24" viewBox="1066.00 679.50 24 24"><circle cx="1078.0" cy="691.5" r="9.2" fill="#fff"/><path d="M1078.0 682.3 A9.2 9.2 0 0 1 1078.0 700.7 A0.460 9.2 0 0 1 1078.0 682.3Z" fill="#9a9a9a" stroke="#000" stroke-width="1"/><circle cx="1078.0" cy="691.5" r="9.2" fill="none" stroke="#000" stroke-width="1.3"/></svg><div class="t s" style="left:1047px;width:59px;top:712.54px">11:37AM</div><div class="t tm hi" style="left:1107px;width:61px;top:417.37px">00:18AM</div><div class="t v" style="left:1107px;width:61px;top:430.64px">1.23m</div><div class="t v" style="left:1107px;width:61px;top:444.64px">(4.04ft)</div><div class="t tm hi" style="left:1107px;width:61px;top:466.97px">12:10PM</div><div class="t v" style="left:1107px;width:61px;top:480.24px">1.50m</div><div class="t v" style="left:1107px;width:61px;top:494.24px">(4.92ft)</div><div class="a" style="left:1111px;top:463px;width:53px;height:1px;background:#e6eaee"></div><div class="t tm lo" style="left:1107px;width:61px;top:526.47px">5:35AM</div><div class="t v" style="left:1107px;width:61px;top:539.74px">0.89m</div><div class="t v" style="left:1107px;width:61px;top:553.74px">(2.92ft)</div><div class="t tm lo" style="left:1107px;width:61px;top:576.37px">7:23PM</div><div class="t v" style="left:1107px;width:61px;top:589.64px">0.67m</div><div class="t v" style="left:1107px;width:61px;top:603.64px">(2.2ft)</div><div class="a" style="left:1111px;top:572px;width:53px;height:1px;background:#ebebeb"></div><div class="t s" style="left:1107px;width:61px;top:633.84px">6:04AM</div><div class="t s" style="left:1107px;width:61px;top:653.64px">5:32PM</div><svg class="a" style="left:1127.00px;top:679.50px" width="24" height="24" viewBox="1127.00 679.50 24 24"><circle cx="1139.0" cy="691.5" r="9.2" fill="#fff"/><path d="M1139.0 682.3 A9.2 9.2 0 0 1 1139.0 700.7 A0.828 9.2 0 0 1 1139.0 682.3Z" fill="#9a9a9a" stroke="#000" stroke-width="1"/><circle cx="1139.0" cy="691.5" r="9.2" fill="none" stroke="#000" stroke-width="1.3"/></svg><div class="t s" style="left:1107px;width:61px;top:712.54px">12:15PM</div><div class="t s" style="left:1107px;width:61px;top:732.34px">00:27AM</div><div class="t tm hi" style="left:1169px;width:59px;top:417.37px">2:02AM</div><div class="t v" style="left:1169px;width:59px;top:430.64px">1.22m</div><div class="t v" style="left:1169px;width:59px;top:444.64px">(4ft)</div><div class="t tm hi" style="left:1169px;width:59px;top:466.97px">1:15PM</div><div class="t v" style="left:1169px;width:59px;top:480.24px">1.48m</div><div class="t v" style="left:1169px;width:59px;top:494.24px">(4.86ft)</div><div class="a" style="left:1173px;top:463px;width:51px;height:1px;background:#e6eaee"></div><div class="t tm lo" style="left:1169px;width:59px;top:526.47px">6:51AM</div><div class="t v" style="left:1169px;width:59px;top:539.74px">0.99m</div><div class="t v" style="left:1169px;width:59px;top:553.74px">(3.25ft)</div><div class="t tm lo" style="left:1169px;width:59px;top:576.37px">8:35PM</div><div class="t v" style="left:1169px;width:59px;top:589.64px">0.59m</div><div class="t v" style="left:1169px;width:59px;top:603.64px">(1.94ft)</div><div class="a" style="left:1173px;top:572px;width:51px;height:1px;background:#ebebeb"></div><div class="t s" style="left:1169px;width:59px;top:633.84px">6:04AM</div><div class="t s" style="left:1169px;width:59px;top:653.64px">5:32PM</div><svg class="a" style="left:1188.00px;top:679.50px" width="24" height="24" viewBox="1188.00 679.50 24 24"><circle cx="1200.0" cy="691.5" r="9.2" fill="#fff"/><path d="M1200.0 682.3 A9.2 9.2 0 0 1 1200.0 700.7 A1.656 9.2 0 0 1 1200.0 682.3Z" fill="#9a9a9a" stroke="#000" stroke-width="1"/><circle cx="1200.0" cy="691.5" r="9.2" fill="none" stroke="#000" stroke-width="1.3"/></svg><div class="t s" style="left:1169px;width:59px;top:712.54px">12:55PM</div><div class="t s" style="left:1169px;width:59px;top:732.34px">1:15AM</div><div class="t tm hi" style="left:1229px;width:59px;top:417.37px">3:28AM</div><div class="t v" style="left:1229px;width:59px;top:430.64px">1.28m</div><div class="t v" style="left:1229px;width:59px;top:444.64px">(4.2ft)</div><div class="t tm hi" style="left:1229px;width:59px;top:466.97px">2:21PM</div><div class="t v" style="left:1229px;width:59px;top:480.24px">1.51m</div><div class="t v" style="left:1229px;width:59px;top:494.24px">(4.95ft)</div><div class="a" style="left:1233px;top:463px;width:51px;height:1px;background:#e6eaee"></div><div class="t tm lo" style="left:1229px;width:59px;top:526.47px">8:18AM</div><div class="t v" style="left:1229px;width:59px;top:539.74px">1.02m</div><div class="t v" style="left:1229px;width:59px;top:553.74px">(3.35ft)</div><div class="t tm lo" style="left:1229px;width:59px;top:576.37px">9:33PM</div><div class="t v" style="left:1229px;width:59px;top:589.64px">0.49m</div><div class="t v" style="left:1229px;width:59px;top:603.64px">(1.61ft)</div><div class="a" style="left:1233px;top:572px;width:51px;height:1px;background:#ebebeb"></div><div class="t s" style="left:1229px;width:59px;top:633.84px">6:05AM</div><div class="t s" style="left:1229px;width:59px;top:653.64px">5:33PM</div><svg class="a" style="left:1248.00px;top:679.50px" width="24" height="24" viewBox="1248.00 679.50 24 24"><circle cx="1260.0" cy="691.5" r="9.2" fill="#fff"/><path d="M1260.0 682.3 A9.2 9.2 0 0 1 1260.0 700.7 A3.220 9.2 0 0 1 1260.0 682.3Z" fill="#9a9a9a" stroke="#000" stroke-width="1"/><circle cx="1260.0" cy="691.5" r="9.2" fill="none" stroke="#000" stroke-width="1.3"/></svg><div class="t s" style="left:1229px;width:59px;top:712.54px">1:40PM</div><div class="t s" style="left:1229px;width:59px;top:732.34px">2:05AM</div><div class="t tm hi" style="left:1289px;width:59px;top:417.37px">4:23AM</div><div class="t v" style="left:1289px;width:59px;top:430.64px">1.37m</div><div class="t v" style="left:1289px;width:59px;top:444.64px">(4.49ft)</div><div class="t tm hi" style="left:1289px;width:59px;top:466.97px">3:18PM</div><div class="t v" style="left:1289px;width:59px;top:480.24px">1.57m</div><div class="t v" style="left:1289px;width:59px;top:494.24px">(5.15ft)</div><div class="a" style="left:1293px;top:463px;width:51px;height:1px;background:#e6eaee"></div><div class="t tm lo" style="left:1289px;width:59px;top:526.47px">9:26AM</div><div class="t v" style="left:1289px;width:59px;top:539.74px">0.99m</div><div class="t v" style="left:1289px;width:59px;top:553.74px">(3.25ft)</div><div class="t tm lo" style="left:1289px;width:59px;top:576.37px">10:19PM</div><div class="t v" style="left:1289px;width:59px;top:589.64px">0.38m</div><div class="t v" style="left:1289px;width:59px;top:603.64px">(1.25ft)</div><div class="a" style="left:1293px;top:572px;width:51px;height:1px;background:#ebebeb"></div><div class="t s" style="left:1289px;width:59px;top:633.84px">6:05AM</div><div class="t s" style="left:1289px;width:59px;top:653.64px">5:33PM</div><svg class="a" style="left:1308.00px;top:679.50px" width="24" height="24" viewBox="1308.00 679.50 24 24"><circle cx="1320.0" cy="691.5" r="9.2" fill="#fff"/><path d="M1320.0 682.3 A9.2 9.2 0 0 1 1320.0 700.7 A4.876 9.2 0 0 1 1320.0 682.3Z" fill="#9a9a9a" stroke="#000" stroke-width="1"/><circle cx="1320.0" cy="691.5" r="9.2" fill="none" stroke="#000" stroke-width="1.3"/></svg><div class="t s" style="left:1289px;width:59px;top:712.54px">2:28PM</div><div class="t s" style="left:1289px;width:59px;top:732.34px">2:57AM</div><div class="t tm hi" style="left:1349px;width:59px;top:417.37px">5:03AM</div><div class="t v" style="left:1349px;width:59px;top:430.64px">1.46m</div><div class="t v" style="left:1349px;width:59px;top:444.64px">(4.79ft)</div><div class="t tm hi" style="left:1349px;width:59px;top:466.97px">4:05PM</div><div class="t v" style="left:1349px;width:59px;top:480.24px">1.66m</div><div class="t v" style="left:1349px;width:59px;top:494.24px">(5.45ft)</div><div class="a" style="left:1353px;top:463px;width:51px;height:1px;background:#e6eaee"></div><div class="t tm lo" style="left:1349px;width:59px;top:526.47px">10:16AM</div><div class="t v" style="left:1349px;width:59px;top:539.74px">0.92m</div><div class="t v" style="left:1349px;width:59px;top:553.74px">(3.02ft)</div><div class="t tm lo" style="left:1349px;width:59px;top:576.37px">10:58PM</div><div class="t v" style="left:1349px;width:59px;top:589.64px">0.28m</div><div class="t v" style="left:1349px;width:59px;top:603.64px">(0.92ft)</div><div class="a" style="left:1353px;top:572px;width:51px;height:1px;background:#ebebeb"></div><div class="t s" style="left:1349px;width:59px;top:633.84px">6:05AM</div><div class="t s" style="left:1349px;width:59px;top:653.64px">5:34PM</div><svg class="a" style="left:1368.00px;top:679.50px" width="24" height="24" viewBox="1368.00 679.50 24 24"><circle cx="1380.0" cy="691.5" r="9.2" fill="#fff"/><path d="M1380.0 682.3 A9.2 9.2 0 0 1 1380.0 700.7 A6.440 9.2 0 0 1 1380.0 682.3Z" fill="#9a9a9a" stroke="#000" stroke-width="1"/><circle cx="1380.0" cy="691.5" r="9.2" fill="none" stroke="#000" stroke-width="1.3"/></svg><div class="t s" style="left:1349px;width:59px;top:712.54px">3:19PM</div><div class="t s" style="left:1349px;width:59px;top:732.34px">3:50AM</div><div class="t tm hi" style="left:1409px;width:60px;top:417.37px">5:37AM</div><div class="t v" style="left:1409px;width:60px;top:430.64px">1.54m</div><div class="t v" style="left:1409px;width:60px;top:444.64px">(5.05ft)</div><div class="t tm hi" style="left:1409px;width:60px;top:466.97px">4:47PM</div><div class="t v" style="left:1409px;width:60px;top:480.24px">1.74m</div><div class="t v" style="left:1409px;width:60px;top:494.24px">(5.71ft)</div><div class="a" style="left:1413px;top:463px;width:52px;height:1px;background:#e6eaee"></div><div class="t tm lo" style="left:1409px;width:60px;top:526.47px">10:56AM</div><div class="t v" style="left:1409px;width:60px;top:539.74px">0.85m</div><div class="t v" style="left:1409px;width:60px;top:553.74px">(2.79ft)</div><div class="t tm lo" style="left:1409px;width:60px;top:576.37px">11:34PM</div><div class="t v" style="left:1409px;width:60px;top:589.64px">0.20m</div><div class="t v" style="left:1409px;width:60px;top:603.64px">(0.66ft)</div><div class="a" style="left:1413px;top:572px;width:52px;height:1px;background:#ebebeb"></div><div class="t s" style="left:1409px;width:60px;top:633.84px">6:05AM</div><div class="t s" style="left:1409px;width:60px;top:653.64px">5:34PM</div><svg class="a" style="left:1428.50px;top:679.50px" width="24" height="24" viewBox="1428.50 679.50 24 24"><circle cx="1440.5" cy="691.5" r="9.2" fill="#fff"/><path d="M1440.5 682.3 A9.2 9.2 0 0 1 1440.5 700.7 A8.096 9.2 0 0 1 1440.5 682.3Z" fill="#9a9a9a" stroke="#000" stroke-width="1"/><circle cx="1440.5" cy="691.5" r="9.2" fill="none" stroke="#000" stroke-width="1.3"/></svg><div class="t s" style="left:1409px;width:60px;top:712.54px">4:13PM</div><div class="t s" style="left:1409px;width:60px;top:732.34px">4:42AM</div><div class="t tm hi" style="left:1470px;width:59px;top:417.37px">6:08AM</div><div class="t v" style="left:1470px;width:59px;top:430.64px">1.60m</div><div class="t v" style="left:1470px;width:59px;top:444.64px">(5.25ft)</div><div class="t tm hi" style="left:1470px;width:59px;top:466.97px">5:25PM</div><div class="t v" style="left:1470px;width:59px;top:480.24px">1.81m</div><div class="t v" style="left:1470px;width:59px;top:494.24px">(5.94ft)</div><div class="a" style="left:1474px;top:463px;width:51px;height:1px;background:#e6eaee"></div><div class="t tm lo" style="left:1470px;width:59px;top:551.47px">11:32AM</div><div class="t v" style="left:1470px;width:59px;top:564.74px">0.78m</div><div class="t v" style="left:1470px;width:59px;top:578.74px">(2.56ft)</div><div class="t s" style="left:1470px;width:59px;top:633.84px">6:05AM</div><div class="t s" style="left:1470px;width:59px;top:653.64px">5:35PM</div><svg class="a" style="left:1489.00px;top:679.50px" width="24" height="24" viewBox="1489.00 679.50 24 24"><circle cx="1501.0" cy="691.5" r="9.2" fill="#fff"/><path d="M1501.0 682.3 A9.2 9.2 0 0 1 1501.0 700.7 A8.924 9.2 0 0 1 1501.0 682.3Z" fill="#9a9a9a" stroke="#000" stroke-width="1"/><circle cx="1501.0" cy="691.5" r="9.2" fill="none" stroke="#000" stroke-width="1.3"/></svg><div class="t s" style="left:1470px;width:59px;top:712.54px">5:07PM</div><div class="t s" style="left:1470px;width:59px;top:732.34px">5:33AM</div><div class="t tm hi" style="left:1530px;width:62px;top:417.37px">6:37AM</div><div class="t v" style="left:1530px;width:62px;top:430.64px">1.66m</div><div class="t v" style="left:1530px;width:62px;top:444.64px">(5.45ft)</div><div class="t tm hi" style="left:1530px;width:62px;top:466.97px">6:01PM</div><div class="t v" style="left:1530px;width:62px;top:480.24px">1.86m</div><div class="t v" style="left:1530px;width:62px;top:494.24px">(6.1ft)</div><div class="a" style="left:1534px;top:463px;width:54px;height:1px;background:#e6eaee"></div><div class="t tm lo" style="left:1530px;width:62px;top:526.47px">00:07AM</div><div class="t v" style="left:1530px;width:62px;top:539.74px">0.13m</div><div class="t v" style="left:1530px;width:62px;top:553.74px">(0.43ft)</div><div class="t tm lo" style="left:1530px;width:62px;top:576.37px">12:07PM</div><div class="t v" style="left:1530px;width:62px;top:589.64px">0.71m</div><div class="t v" style="left:1530px;width:62px;top:603.64px">(2.33ft)</div><div class="a" style="left:1534px;top:572px;width:54px;height:1px;background:#ebebeb"></div><div class="t s" style="left:1530px;width:62px;top:633.84px">6:05AM</div><div class="t s" style="left:1530px;width:62px;top:653.64px">5:35PM</div><svg class="a" style="left:1550.50px;top:679.50px" width="24" height="24" viewBox="1550.50 679.50 24 24"><circle cx="1562.5" cy="691.5" r="9.2" fill="#fff"/><path d="M1562.5 682.3 A9.2 9.2 0 0 0 1562.5 700.7 A8.740 9.2 0 0 0 1562.5 682.3Z" fill="#9a9a9a" stroke="#000" stroke-width="1"/><circle cx="1562.5" cy="691.5" r="9.2" fill="none" stroke="#000" stroke-width="1.3"/></svg><div class="t s" style="left:1530px;width:62px;top:712.54px">6:01PM</div><div class="t s" style="left:1530px;width:62px;top:732.34px">6:21AM</div><div class="t tm hi" style="left:1593px;width:64px;top:417.37px">7:06AM</div><div class="t v" style="left:1593px;width:64px;top:430.64px">1.70m</div><div class="t v" style="left:1593px;width:64px;top:444.64px">(5.58ft)</div><div class="t tm hi" style="left:1593px;width:64px;top:466.97px">6:36PM</div><div class="t v" style="left:1593px;width:64px;top:480.24px">1.88m</div><div class="t v" style="left:1593px;width:64px;top:494.24px">(6.17ft)</div><div class="a" style="left:1597px;top:463px;width:56px;height:1px;background:#e6eaee"></div><div class="t tm lo" style="left:1593px;width:64px;top:526.47px">00:39AM</div><div class="t v" style="left:1593px;width:64px;top:539.74px">0.10m</div><div class="t v" style="left:1593px;width:64px;top:553.74px">(0.33ft)</div><div class="t tm lo" style="left:1593px;width:64px;top:576.37px">12:41PM</div><div class="t v" style="left:1593px;width:64px;top:589.64px">0.65m</div><div class="t v" style="left:1593px;width:64px;top:603.64px">(2.13ft)</div><div class="a" style="left:1597px;top:572px;width:56px;height:1px;background:#ebebeb"></div><div class="t s" style="left:1593px;width:64px;top:633.84px">6:06AM</div><div class="t s" style="left:1593px;width:64px;top:653.64px">5:36PM</div><svg class="a" style="left:1614.50px;top:679.50px" width="24" height="24" viewBox="1614.50 679.50 24 24"><circle cx="1626.5" cy="691.5" r="9.2" fill="#fff"/><path d="M1626.5 682.3 A9.2 9.2 0 0 0 1626.5 700.7 A6.900 9.2 0 0 0 1626.5 682.3Z" fill="#9a9a9a" stroke="#000" stroke-width="1"/><circle cx="1626.5" cy="691.5" r="9.2" fill="none" stroke="#000" stroke-width="1.3"/></svg><div class="t s" style="left:1593px;width:64px;top:712.54px">6:54PM</div><div class="t s" style="left:1593px;width:64px;top:732.34px">7:05AM</div><div class="t tm hi" style="left:1658px;width:59px;top:417.37px">7:35AM</div><div class="t v" style="left:1658px;width:59px;top:430.64px">1.74m</div><div class="t v" style="left:1658px;width:59px;top:444.64px">(5.71ft)</div><div class="t tm hi" style="left:1658px;width:59px;top:466.97px">7:12PM</div><div class="t v" style="left:1658px;width:59px;top:480.24px">1.87m</div><div class="t v" style="left:1658px;width:59px;top:494.24px">(6.14ft)</div><div class="a" style="left:1662px;top:463px;width:51px;height:1px;background:#e6eaee"></div><div class="t tm lo" style="left:1658px;width:59px;top:526.47px">1:10AM</div><div class="t v" style="left:1658px;width:59px;top:539.74px">0.11m</div><div class="t v" style="left:1658px;width:59px;top:553.74px">(0.36ft)</div><div class="t tm lo" style="left:1658px;width:59px;top:576.37px">1:16PM</div><div class="t v" style="left:1658px;width:59px;top:589.64px">0.59m</div><div class="t v" style="left:1658px;width:59px;top:603.64px">(1.94ft)</div><div class="a" style="left:1662px;top:572px;width:51px;height:1px;background:#ebebeb"></div><div class="t s" style="left:1658px;width:59px;top:633.84px">6:06AM</div><div class="t s" style="left:1658px;width:59px;top:653.64px">5:36PM</div><svg class="a" style="left:1677.00px;top:679.50px" width="24" height="24" viewBox="1677.00 679.50 24 24"><circle cx="1689.0" cy="691.5" r="9.2" fill="#fff"/><path d="M1689.0 682.3 A9.2 9.2 0 0 0 1689.0 700.7 A4.600 9.2 0 0 0 1689.0 682.3Z" fill="#9a9a9a" stroke="#000" stroke-width="1"/><circle cx="1689.0" cy="691.5" r="9.2" fill="none" stroke="#000" stroke-width="1.3"/></svg><div class="t s" style="left:1658px;width:59px;top:712.54px">7:45PM</div><div class="t s" style="left:1658px;width:59px;top:732.34px">7:47AM</div><div class="t tm hi" style="left:1718px;width:60px;top:417.37px">8:04AM</div><div class="t v" style="left:1718px;width:60px;top:430.64px">1.76m</div><div class="t v" style="left:1718px;width:60px;top:444.64px">(5.77ft)</div><div class="t tm hi" style="left:1718px;width:60px;top:466.97px">7:50PM</div><div class="t v" style="left:1718px;width:60px;top:480.24px">1.81m</div><div class="t v" style="left:1718px;width:60px;top:494.24px">(5.94ft)</div><div class="a" style="left:1722px;top:463px;width:52px;height:1px;background:#e6eaee"></div><div class="t tm lo" style="left:1718px;width:60px;top:526.47px">1:41AM</div><div class="t v" style="left:1718px;width:60px;top:539.74px">0.15m</div><div class="t v" style="left:1718px;width:60px;top:553.74px">(0.49ft)</div><div class="t tm lo" style="left:1718px;width:60px;top:576.37px">1:53PM</div><div class="t v" style="left:1718px;width:60px;top:589.64px">0.55m</div><div class="t v" style="left:1718px;width:60px;top:603.64px">(1.8ft)</div><div class="a" style="left:1722px;top:572px;width:52px;height:1px;background:#ebebeb"></div><div class="t s" style="left:1718px;width:60px;top:633.84px">6:06AM</div><div class="t s" style="left:1718px;width:60px;top:653.64px">5:37PM</div><svg class="a" style="left:1737.50px;top:679.50px" width="24" height="24" viewBox="1737.50 679.50 24 24"><circle cx="1749.5" cy="691.5" r="9.2" fill="#fff"/><path d="M1749.5 682.3 A9.2 9.2 0 0 0 1749.5 700.7 A2.760 9.2 0 0 0 1749.5 682.3Z" fill="#9a9a9a" stroke="#000" stroke-width="1"/><circle cx="1749.5" cy="691.5" r="9.2" fill="none" stroke="#000" stroke-width="1.3"/></svg><div class="t s" style="left:1718px;width:60px;top:712.54px">8:36PM</div><div class="t s" style="left:1718px;width:60px;top:732.34px">8:26AM</div>
<div class="a" style="left:70px;top:753px;width:1700px;height:27px;overflow:hidden"><div class="wm" style="left:-44.3px;top:4.80px">Powered by Tide-Forecast.com</div><svg class="a" style="left:183.00px;top:6.10px" width="53" height="16" viewBox="0 0 53 16"><rect x="0" y="0" width="15.6" height="15.2" fill="#e9e9e9"/><path d="M1.2 1.5 C3 1.5 4.5 14 6.5 14 C8.5 14 9.5 1.8 11.5 1.8 C13 1.8 14 8 14.8 10" fill="none" stroke="#f8f8f8" stroke-width="1"/><rect x="18.6" y="0" width="15.6" height="15.2" fill="#e9e9e9"/><path d="M18.6 5.5 H26.5 V12 M23.6 9.5 L26.5 12.3 L29.4 9.5" fill="none" stroke="#f8f8f8" stroke-width="1.6"/><rect x="37.1" y="0" width="15.6" height="15.2" fill="#e9e9e9"/><path d="M44.9 1.5 L48.5 13.5 L41.3 13.5 Z" fill="#f8f8f8"/></svg><div class="wm" style="left:295.7px;top:4.80px">Powered by Tide-Forecast.com</div><svg class="a" style="left:523.00px;top:6.10px" width="53" height="16" viewBox="0 0 53 16"><rect x="0" y="0" width="15.6" height="15.2" fill="#e9e9e9"/><path d="M1.2 1.5 C3 1.5 4.5 14 6.5 14 C8.5 14 9.5 1.8 11.5 1.8 C13 1.8 14 8 14.8 10" fill="none" stroke="#f8f8f8" stroke-width="1"/><rect x="18.6" y="0" width="15.6" height="15.2" fill="#e9e9e9"/><path d="M18.6 5.5 H26.5 V12 M23.6 9.5 L26.5 12.3 L29.4 9.5" fill="none" stroke="#f8f8f8" stroke-width="1.6"/><rect x="37.1" y="0" width="15.6" height="15.2" fill="#e9e9e9"/><path d="M44.9 1.5 L48.5 13.5 L41.3 13.5 Z" fill="#f8f8f8"/></svg><div class="wm" style="left:635.7px;top:4.80px">Powered by Tide-Forecast.com</div><svg class="a" style="left:863.00px;top:6.10px" width="53" height="16" viewBox="0 0 53 16"><rect x="0" y="0" width="15.6" height="15.2" fill="#e9e9e9"/><path d="M1.2 1.5 C3 1.5 4.5 14 6.5 14 C8.5 14 9.5 1.8 11.5 1.8 C13 1.8 14 8 14.8 10" fill="none" stroke="#f8f8f8" stroke-width="1"/><rect x="18.6" y="0" width="15.6" height="15.2" fill="#e9e9e9"/><path d="M18.6 5.5 H26.5 V12 M23.6 9.5 L26.5 12.3 L29.4 9.5" fill="none" stroke="#f8f8f8" stroke-width="1.6"/><rect x="37.1" y="0" width="15.6" height="15.2" fill="#e9e9e9"/><path d="M44.9 1.5 L48.5 13.5 L41.3 13.5 Z" fill="#f8f8f8"/></svg><div class="wm" style="left:975.7px;top:4.80px">Powered by Tide-Forecast.com</div><svg class="a" style="left:1203.00px;top:6.10px" width="53" height="16" viewBox="0 0 53 16"><rect x="0" y="0" width="15.6" height="15.2" fill="#e9e9e9"/><path d="M1.2 1.5 C3 1.5 4.5 14 6.5 14 C8.5 14 9.5 1.8 11.5 1.8 C13 1.8 14 8 14.8 10" fill="none" stroke="#f8f8f8" stroke-width="1"/><rect x="18.6" y="0" width="15.6" height="15.2" fill="#e9e9e9"/><path d="M18.6 5.5 H26.5 V12 M23.6 9.5 L26.5 12.3 L29.4 9.5" fill="none" stroke="#f8f8f8" stroke-width="1.6"/><rect x="37.1" y="0" width="15.6" height="15.2" fill="#e9e9e9"/><path d="M44.9 1.5 L48.5 13.5 L41.3 13.5 Z" fill="#f8f8f8"/></svg><div class="wm" style="left:1315.7px;top:4.80px">Powered by Tide-Forecast.com</div><svg class="a" style="left:1543.00px;top:6.10px" width="53" height="16" viewBox="0 0 53 16"><rect x="0" y="0" width="15.6" height="15.2" fill="#e9e9e9"/><path d="M1.2 1.5 C3 1.5 4.5 14 6.5 14 C8.5 14 9.5 1.8 11.5 1.8 C13 1.8 14 8 14.8 10" fill="none" stroke="#f8f8f8" stroke-width="1"/><rect x="18.6" y="0" width="15.6" height="15.2" fill="#e9e9e9"/><path d="M18.6 5.5 H26.5 V12 M23.6 9.5 L26.5 12.3 L29.4 9.5" fill="none" stroke="#f8f8f8" stroke-width="1.6"/><rect x="37.1" y="0" width="15.6" height="15.2" fill="#e9e9e9"/><path d="M44.9 1.5 L48.5 13.5 L41.3 13.5 Z" fill="#f8f8f8"/></svg><div class="wm" style="left:1655.7px;top:4.80px">Powered by Tide-Forecast.com</div><svg class="a" style="left:1883.00px;top:6.10px" width="53" height="16" viewBox="0 0 53 16"><rect x="0" y="0" width="15.6" height="15.2" fill="#e9e9e9"/><path d="M1.2 1.5 C3 1.5 4.5 14 6.5 14 C8.5 14 9.5 1.8 11.5 1.8 C13 1.8 14 8 14.8 10" fill="none" stroke="#f8f8f8" stroke-width="1"/><rect x="18.6" y="0" width="15.6" height="15.2" fill="#e9e9e9"/><path d="M18.6 5.5 H26.5 V12 M23.6 9.5 L26.5 12.3 L29.4 9.5" fill="none" stroke="#f8f8f8" stroke-width="1.6"/><rect x="37.1" y="0" width="15.6" height="15.2" fill="#e9e9e9"/><path d="M44.9 1.5 L48.5 13.5 L41.3 13.5 Z" fill="#f8f8f8"/></svg></div>
<svg class="a" style="left:1716px;top:409px" width="32" height="32" viewBox="0 0 32 32"><circle cx="15.7" cy="15.7" r="14.8" fill="#000" fill-opacity="0.38"/><path d="M12.6 8.4L20.2 15.8L12.6 23.2" fill="none" stroke="#fff" stroke-opacity="0.92" stroke-width="3.4" stroke-linecap="round" stroke-linejoin="round"/></svg>
</body></html>
